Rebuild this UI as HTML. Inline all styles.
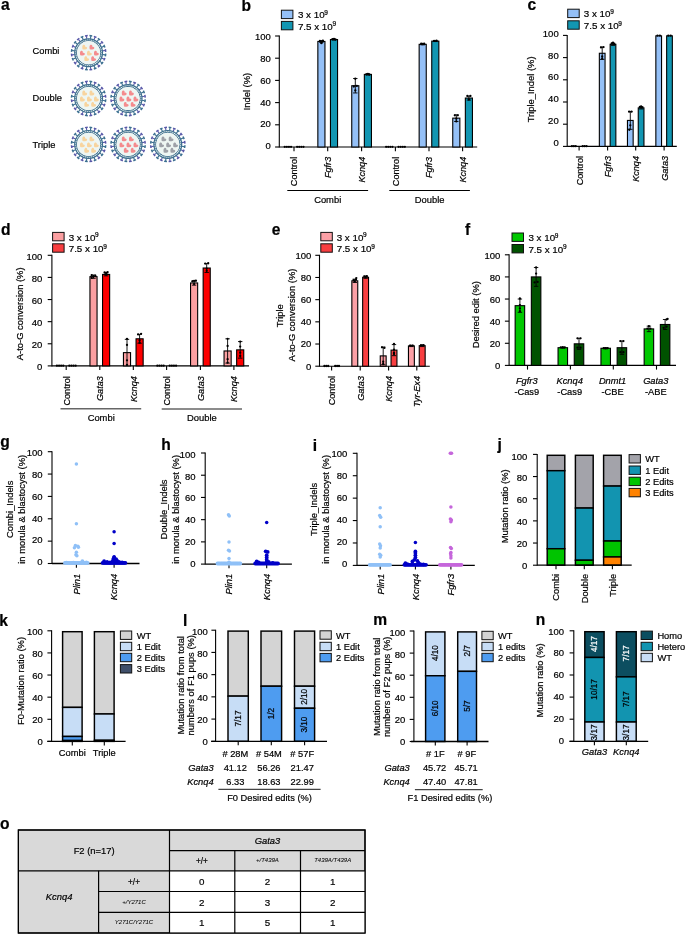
<!DOCTYPE html>
<html><head><meta charset="utf-8"><style>
html,body{margin:0;padding:0;background:#fff;}
svg{display:block;will-change:transform;}

</style></head><body>
<svg width="685" height="934" viewBox="0 0 685 934">
<rect x="0" y="0" width="685" height="934" fill="#fff"/>
<text transform="translate(1.00,9.80) scale(1.04,1.06)" x="0" y="0" font-family="Liberation Sans" font-size="15.0" font-weight="bold" fill="#000" stroke="#000" stroke-width="0.2">a</text>
<text x="32.50" y="54.40" font-family="Liberation Sans" font-size="9.3" text-anchor="start" fill="#000" stroke="#000" stroke-width="0.2">Combi</text>
<text x="32.50" y="101.20" font-family="Liberation Sans" font-size="9.3" text-anchor="start" fill="#000" stroke="#000" stroke-width="0.2">Double</text>
<text x="32.50" y="147.60" font-family="Liberation Sans" font-size="9.3" text-anchor="start" fill="#000" stroke="#000" stroke-width="0.2">Triple</text>
<line x1="90.41" y1="38.92" x2="90.78" y2="36.14" stroke="#3b6f90" stroke-width="1.1"/>
<line x1="89.44" y1="35.56" x2="92.22" y2="35.93" stroke="#3b6f90" stroke-width="1.5"/>
<line x1="93.92" y1="39.86" x2="94.99" y2="37.27" stroke="#5858a8" stroke-width="1.1"/>
<line x1="93.85" y1="36.37" x2="96.44" y2="37.44" stroke="#5858a8" stroke-width="1.5"/>
<line x1="97.06" y1="41.67" x2="98.77" y2="39.45" stroke="#3b6f90" stroke-width="1.1"/>
<line x1="97.90" y1="38.28" x2="100.12" y2="39.99" stroke="#3b6f90" stroke-width="1.5"/>
<line x1="99.63" y1="44.24" x2="101.85" y2="42.53" stroke="#5858a8" stroke-width="1.1"/>
<line x1="101.31" y1="41.18" x2="103.02" y2="43.40" stroke="#5858a8" stroke-width="1.5"/>
<line x1="101.44" y1="47.38" x2="104.03" y2="46.31" stroke="#3b6f90" stroke-width="1.1"/>
<line x1="103.86" y1="44.86" x2="104.93" y2="47.45" stroke="#3b6f90" stroke-width="1.5"/>
<line x1="102.38" y1="50.89" x2="105.16" y2="50.52" stroke="#5858a8" stroke-width="1.1"/>
<line x1="105.37" y1="49.08" x2="105.74" y2="51.86" stroke="#5858a8" stroke-width="1.5"/>
<line x1="102.38" y1="54.51" x2="105.16" y2="54.88" stroke="#3b6f90" stroke-width="1.1"/>
<line x1="105.74" y1="53.54" x2="105.37" y2="56.32" stroke="#3b6f90" stroke-width="1.5"/>
<line x1="101.44" y1="58.02" x2="104.03" y2="59.09" stroke="#5858a8" stroke-width="1.1"/>
<line x1="104.93" y1="57.95" x2="103.86" y2="60.54" stroke="#5858a8" stroke-width="1.5"/>
<line x1="99.63" y1="61.16" x2="101.85" y2="62.87" stroke="#3b6f90" stroke-width="1.1"/>
<line x1="103.02" y1="62.00" x2="101.31" y2="64.22" stroke="#3b6f90" stroke-width="1.5"/>
<line x1="97.06" y1="63.73" x2="98.77" y2="65.95" stroke="#5858a8" stroke-width="1.1"/>
<line x1="100.12" y1="65.41" x2="97.90" y2="67.12" stroke="#5858a8" stroke-width="1.5"/>
<line x1="93.92" y1="65.54" x2="94.99" y2="68.13" stroke="#3b6f90" stroke-width="1.1"/>
<line x1="96.44" y1="67.96" x2="93.85" y2="69.03" stroke="#3b6f90" stroke-width="1.5"/>
<line x1="90.41" y1="66.48" x2="90.78" y2="69.26" stroke="#5858a8" stroke-width="1.1"/>
<line x1="92.22" y1="69.47" x2="89.44" y2="69.84" stroke="#5858a8" stroke-width="1.5"/>
<line x1="86.79" y1="66.48" x2="86.42" y2="69.26" stroke="#3b6f90" stroke-width="1.1"/>
<line x1="87.76" y1="69.84" x2="84.98" y2="69.47" stroke="#3b6f90" stroke-width="1.5"/>
<line x1="83.28" y1="65.54" x2="82.21" y2="68.13" stroke="#5858a8" stroke-width="1.1"/>
<line x1="83.35" y1="69.03" x2="80.76" y2="67.96" stroke="#5858a8" stroke-width="1.5"/>
<line x1="80.14" y1="63.73" x2="78.43" y2="65.95" stroke="#3b6f90" stroke-width="1.1"/>
<line x1="79.30" y1="67.12" x2="77.08" y2="65.41" stroke="#3b6f90" stroke-width="1.5"/>
<line x1="77.57" y1="61.16" x2="75.35" y2="62.87" stroke="#5858a8" stroke-width="1.1"/>
<line x1="75.89" y1="64.22" x2="74.18" y2="62.00" stroke="#5858a8" stroke-width="1.5"/>
<line x1="75.76" y1="58.02" x2="73.17" y2="59.09" stroke="#3b6f90" stroke-width="1.1"/>
<line x1="73.34" y1="60.54" x2="72.27" y2="57.95" stroke="#3b6f90" stroke-width="1.5"/>
<line x1="74.82" y1="54.51" x2="72.04" y2="54.88" stroke="#5858a8" stroke-width="1.1"/>
<line x1="71.83" y1="56.32" x2="71.46" y2="53.54" stroke="#5858a8" stroke-width="1.5"/>
<line x1="74.82" y1="50.89" x2="72.04" y2="50.52" stroke="#3b6f90" stroke-width="1.1"/>
<line x1="71.46" y1="51.86" x2="71.83" y2="49.08" stroke="#3b6f90" stroke-width="1.5"/>
<line x1="75.76" y1="47.38" x2="73.17" y2="46.31" stroke="#5858a8" stroke-width="1.1"/>
<line x1="72.27" y1="47.45" x2="73.34" y2="44.86" stroke="#5858a8" stroke-width="1.5"/>
<line x1="77.57" y1="44.24" x2="75.35" y2="42.53" stroke="#3b6f90" stroke-width="1.1"/>
<line x1="74.18" y1="43.40" x2="75.89" y2="41.18" stroke="#3b6f90" stroke-width="1.5"/>
<line x1="80.14" y1="41.67" x2="78.43" y2="39.45" stroke="#5858a8" stroke-width="1.1"/>
<line x1="77.08" y1="39.99" x2="79.30" y2="38.28" stroke="#5858a8" stroke-width="1.5"/>
<line x1="83.28" y1="39.86" x2="82.21" y2="37.27" stroke="#3b6f90" stroke-width="1.1"/>
<line x1="80.76" y1="37.44" x2="83.35" y2="36.37" stroke="#3b6f90" stroke-width="1.5"/>
<line x1="86.79" y1="38.92" x2="86.42" y2="36.14" stroke="#5858a8" stroke-width="1.1"/>
<line x1="84.98" y1="35.93" x2="87.76" y2="35.56" stroke="#5858a8" stroke-width="1.5"/>
<circle cx="88.6" cy="52.7" r="13.9" fill="#eef6f3" stroke="#3d6f8e" stroke-width="1.2"/>
<circle cx="88.6" cy="52.7" r="12.1" fill="none" stroke="#3d6f8e" stroke-width="1.0"/>
<line x1="100.70" y1="52.70" x2="102.50" y2="52.70" stroke="#3d6f8e" stroke-width="0.7"/>
<line x1="100.55" y1="54.59" x2="102.33" y2="54.87" stroke="#3d6f8e" stroke-width="0.7"/>
<line x1="100.11" y1="56.44" x2="101.82" y2="57.00" stroke="#3d6f8e" stroke-width="0.7"/>
<line x1="99.38" y1="58.19" x2="100.98" y2="59.01" stroke="#3d6f8e" stroke-width="0.7"/>
<line x1="98.39" y1="59.81" x2="99.85" y2="60.87" stroke="#3d6f8e" stroke-width="0.7"/>
<line x1="97.16" y1="61.26" x2="98.43" y2="62.53" stroke="#3d6f8e" stroke-width="0.7"/>
<line x1="95.71" y1="62.49" x2="96.77" y2="63.95" stroke="#3d6f8e" stroke-width="0.7"/>
<line x1="94.09" y1="63.48" x2="94.91" y2="65.08" stroke="#3d6f8e" stroke-width="0.7"/>
<line x1="92.34" y1="64.21" x2="92.90" y2="65.92" stroke="#3d6f8e" stroke-width="0.7"/>
<line x1="90.49" y1="64.65" x2="90.77" y2="66.43" stroke="#3d6f8e" stroke-width="0.7"/>
<line x1="88.60" y1="64.80" x2="88.60" y2="66.60" stroke="#3d6f8e" stroke-width="0.7"/>
<line x1="86.71" y1="64.65" x2="86.43" y2="66.43" stroke="#3d6f8e" stroke-width="0.7"/>
<line x1="84.86" y1="64.21" x2="84.30" y2="65.92" stroke="#3d6f8e" stroke-width="0.7"/>
<line x1="83.11" y1="63.48" x2="82.29" y2="65.08" stroke="#3d6f8e" stroke-width="0.7"/>
<line x1="81.49" y1="62.49" x2="80.43" y2="63.95" stroke="#3d6f8e" stroke-width="0.7"/>
<line x1="80.04" y1="61.26" x2="78.77" y2="62.53" stroke="#3d6f8e" stroke-width="0.7"/>
<line x1="78.81" y1="59.81" x2="77.35" y2="60.87" stroke="#3d6f8e" stroke-width="0.7"/>
<line x1="77.82" y1="58.19" x2="76.22" y2="59.01" stroke="#3d6f8e" stroke-width="0.7"/>
<line x1="77.09" y1="56.44" x2="75.38" y2="57.00" stroke="#3d6f8e" stroke-width="0.7"/>
<line x1="76.65" y1="54.59" x2="74.87" y2="54.87" stroke="#3d6f8e" stroke-width="0.7"/>
<line x1="76.50" y1="52.70" x2="74.70" y2="52.70" stroke="#3d6f8e" stroke-width="0.7"/>
<line x1="76.65" y1="50.81" x2="74.87" y2="50.53" stroke="#3d6f8e" stroke-width="0.7"/>
<line x1="77.09" y1="48.96" x2="75.38" y2="48.40" stroke="#3d6f8e" stroke-width="0.7"/>
<line x1="77.82" y1="47.21" x2="76.22" y2="46.39" stroke="#3d6f8e" stroke-width="0.7"/>
<line x1="78.81" y1="45.59" x2="77.35" y2="44.53" stroke="#3d6f8e" stroke-width="0.7"/>
<line x1="80.04" y1="44.14" x2="78.77" y2="42.87" stroke="#3d6f8e" stroke-width="0.7"/>
<line x1="81.49" y1="42.91" x2="80.43" y2="41.45" stroke="#3d6f8e" stroke-width="0.7"/>
<line x1="83.11" y1="41.92" x2="82.29" y2="40.32" stroke="#3d6f8e" stroke-width="0.7"/>
<line x1="84.86" y1="41.19" x2="84.30" y2="39.48" stroke="#3d6f8e" stroke-width="0.7"/>
<line x1="86.71" y1="40.75" x2="86.43" y2="38.97" stroke="#3d6f8e" stroke-width="0.7"/>
<line x1="88.60" y1="40.60" x2="88.60" y2="38.80" stroke="#3d6f8e" stroke-width="0.7"/>
<line x1="90.49" y1="40.75" x2="90.77" y2="38.97" stroke="#3d6f8e" stroke-width="0.7"/>
<line x1="92.34" y1="41.19" x2="92.90" y2="39.48" stroke="#3d6f8e" stroke-width="0.7"/>
<line x1="94.09" y1="41.92" x2="94.91" y2="40.32" stroke="#3d6f8e" stroke-width="0.7"/>
<line x1="95.71" y1="42.91" x2="96.77" y2="41.45" stroke="#3d6f8e" stroke-width="0.7"/>
<line x1="97.16" y1="44.14" x2="98.43" y2="42.87" stroke="#3d6f8e" stroke-width="0.7"/>
<line x1="98.39" y1="45.59" x2="99.85" y2="44.53" stroke="#3d6f8e" stroke-width="0.7"/>
<line x1="99.38" y1="47.21" x2="100.98" y2="46.39" stroke="#3d6f8e" stroke-width="0.7"/>
<line x1="100.11" y1="48.96" x2="101.82" y2="48.40" stroke="#3d6f8e" stroke-width="0.7"/>
<line x1="100.55" y1="50.81" x2="102.33" y2="50.53" stroke="#3d6f8e" stroke-width="0.7"/>
<circle cx="88.6" cy="52.7" r="11.6" fill="#eef6f3"/>
<path transform="translate(84.00,47.90) rotate(45) scale(1.22)" d="M0,1.7 C-1.2,0.8 -2.4,-0.1 -2.2,-1.1 C-2,-2.3 -0.6,-2.4 0,-1.2 C0.6,-2.4 2,-2.3 2.2,-1.1 C2.4,-0.1 1.2,0.8 0,1.7 Z" fill="#f8d49e"/>
<path transform="translate(91.20,47.90) rotate(45) scale(1.22)" d="M0,1.7 C-1.2,0.8 -2.4,-0.1 -2.2,-1.1 C-2,-2.3 -0.6,-2.4 0,-1.2 C0.6,-2.4 2,-2.3 2.2,-1.1 C2.4,-0.1 1.2,0.8 0,1.7 Z" fill="#f48b8d"/>
<path transform="translate(81.70,53.90) rotate(45) scale(1.22)" d="M0,1.7 C-1.2,0.8 -2.4,-0.1 -2.2,-1.1 C-2,-2.3 -0.6,-2.4 0,-1.2 C0.6,-2.4 2,-2.3 2.2,-1.1 C2.4,-0.1 1.2,0.8 0,1.7 Z" fill="#f48b8d"/>
<path transform="translate(88.70,53.90) rotate(45) scale(1.22)" d="M0,1.7 C-1.2,0.8 -2.4,-0.1 -2.2,-1.1 C-2,-2.3 -0.6,-2.4 0,-1.2 C0.6,-2.4 2,-2.3 2.2,-1.1 C2.4,-0.1 1.2,0.8 0,1.7 Z" fill="#f8d49e"/>
<path transform="translate(95.70,53.90) rotate(45) scale(1.22)" d="M0,1.7 C-1.2,0.8 -2.4,-0.1 -2.2,-1.1 C-2,-2.3 -0.6,-2.4 0,-1.2 C0.6,-2.4 2,-2.3 2.2,-1.1 C2.4,-0.1 1.2,0.8 0,1.7 Z" fill="#f48b8d"/>
<path transform="translate(86.00,59.30) rotate(45) scale(1.22)" d="M0,1.7 C-1.2,0.8 -2.4,-0.1 -2.2,-1.1 C-2,-2.3 -0.6,-2.4 0,-1.2 C0.6,-2.4 2,-2.3 2.2,-1.1 C2.4,-0.1 1.2,0.8 0,1.7 Z" fill="#f8d49e"/>
<path transform="translate(92.90,59.30) rotate(45) scale(1.22)" d="M0,1.7 C-1.2,0.8 -2.4,-0.1 -2.2,-1.1 C-2,-2.3 -0.6,-2.4 0,-1.2 C0.6,-2.4 2,-2.3 2.2,-1.1 C2.4,-0.1 1.2,0.8 0,1.7 Z" fill="#f48b8d"/>
<line x1="90.41" y1="84.72" x2="90.78" y2="81.94" stroke="#3b6f90" stroke-width="1.1"/>
<line x1="89.44" y1="81.36" x2="92.22" y2="81.73" stroke="#3b6f90" stroke-width="1.5"/>
<line x1="93.92" y1="85.66" x2="94.99" y2="83.07" stroke="#5858a8" stroke-width="1.1"/>
<line x1="93.85" y1="82.17" x2="96.44" y2="83.24" stroke="#5858a8" stroke-width="1.5"/>
<line x1="97.06" y1="87.47" x2="98.77" y2="85.25" stroke="#3b6f90" stroke-width="1.1"/>
<line x1="97.90" y1="84.08" x2="100.12" y2="85.79" stroke="#3b6f90" stroke-width="1.5"/>
<line x1="99.63" y1="90.04" x2="101.85" y2="88.33" stroke="#5858a8" stroke-width="1.1"/>
<line x1="101.31" y1="86.98" x2="103.02" y2="89.20" stroke="#5858a8" stroke-width="1.5"/>
<line x1="101.44" y1="93.18" x2="104.03" y2="92.11" stroke="#3b6f90" stroke-width="1.1"/>
<line x1="103.86" y1="90.66" x2="104.93" y2="93.25" stroke="#3b6f90" stroke-width="1.5"/>
<line x1="102.38" y1="96.69" x2="105.16" y2="96.32" stroke="#5858a8" stroke-width="1.1"/>
<line x1="105.37" y1="94.88" x2="105.74" y2="97.66" stroke="#5858a8" stroke-width="1.5"/>
<line x1="102.38" y1="100.31" x2="105.16" y2="100.68" stroke="#3b6f90" stroke-width="1.1"/>
<line x1="105.74" y1="99.34" x2="105.37" y2="102.12" stroke="#3b6f90" stroke-width="1.5"/>
<line x1="101.44" y1="103.82" x2="104.03" y2="104.89" stroke="#5858a8" stroke-width="1.1"/>
<line x1="104.93" y1="103.75" x2="103.86" y2="106.34" stroke="#5858a8" stroke-width="1.5"/>
<line x1="99.63" y1="106.96" x2="101.85" y2="108.67" stroke="#3b6f90" stroke-width="1.1"/>
<line x1="103.02" y1="107.80" x2="101.31" y2="110.02" stroke="#3b6f90" stroke-width="1.5"/>
<line x1="97.06" y1="109.53" x2="98.77" y2="111.75" stroke="#5858a8" stroke-width="1.1"/>
<line x1="100.12" y1="111.21" x2="97.90" y2="112.92" stroke="#5858a8" stroke-width="1.5"/>
<line x1="93.92" y1="111.34" x2="94.99" y2="113.93" stroke="#3b6f90" stroke-width="1.1"/>
<line x1="96.44" y1="113.76" x2="93.85" y2="114.83" stroke="#3b6f90" stroke-width="1.5"/>
<line x1="90.41" y1="112.28" x2="90.78" y2="115.06" stroke="#5858a8" stroke-width="1.1"/>
<line x1="92.22" y1="115.27" x2="89.44" y2="115.64" stroke="#5858a8" stroke-width="1.5"/>
<line x1="86.79" y1="112.28" x2="86.42" y2="115.06" stroke="#3b6f90" stroke-width="1.1"/>
<line x1="87.76" y1="115.64" x2="84.98" y2="115.27" stroke="#3b6f90" stroke-width="1.5"/>
<line x1="83.28" y1="111.34" x2="82.21" y2="113.93" stroke="#5858a8" stroke-width="1.1"/>
<line x1="83.35" y1="114.83" x2="80.76" y2="113.76" stroke="#5858a8" stroke-width="1.5"/>
<line x1="80.14" y1="109.53" x2="78.43" y2="111.75" stroke="#3b6f90" stroke-width="1.1"/>
<line x1="79.30" y1="112.92" x2="77.08" y2="111.21" stroke="#3b6f90" stroke-width="1.5"/>
<line x1="77.57" y1="106.96" x2="75.35" y2="108.67" stroke="#5858a8" stroke-width="1.1"/>
<line x1="75.89" y1="110.02" x2="74.18" y2="107.80" stroke="#5858a8" stroke-width="1.5"/>
<line x1="75.76" y1="103.82" x2="73.17" y2="104.89" stroke="#3b6f90" stroke-width="1.1"/>
<line x1="73.34" y1="106.34" x2="72.27" y2="103.75" stroke="#3b6f90" stroke-width="1.5"/>
<line x1="74.82" y1="100.31" x2="72.04" y2="100.68" stroke="#5858a8" stroke-width="1.1"/>
<line x1="71.83" y1="102.12" x2="71.46" y2="99.34" stroke="#5858a8" stroke-width="1.5"/>
<line x1="74.82" y1="96.69" x2="72.04" y2="96.32" stroke="#3b6f90" stroke-width="1.1"/>
<line x1="71.46" y1="97.66" x2="71.83" y2="94.88" stroke="#3b6f90" stroke-width="1.5"/>
<line x1="75.76" y1="93.18" x2="73.17" y2="92.11" stroke="#5858a8" stroke-width="1.1"/>
<line x1="72.27" y1="93.25" x2="73.34" y2="90.66" stroke="#5858a8" stroke-width="1.5"/>
<line x1="77.57" y1="90.04" x2="75.35" y2="88.33" stroke="#3b6f90" stroke-width="1.1"/>
<line x1="74.18" y1="89.20" x2="75.89" y2="86.98" stroke="#3b6f90" stroke-width="1.5"/>
<line x1="80.14" y1="87.47" x2="78.43" y2="85.25" stroke="#5858a8" stroke-width="1.1"/>
<line x1="77.08" y1="85.79" x2="79.30" y2="84.08" stroke="#5858a8" stroke-width="1.5"/>
<line x1="83.28" y1="85.66" x2="82.21" y2="83.07" stroke="#3b6f90" stroke-width="1.1"/>
<line x1="80.76" y1="83.24" x2="83.35" y2="82.17" stroke="#3b6f90" stroke-width="1.5"/>
<line x1="86.79" y1="84.72" x2="86.42" y2="81.94" stroke="#5858a8" stroke-width="1.1"/>
<line x1="84.98" y1="81.73" x2="87.76" y2="81.36" stroke="#5858a8" stroke-width="1.5"/>
<circle cx="88.6" cy="98.5" r="13.9" fill="#eef6f3" stroke="#3d6f8e" stroke-width="1.2"/>
<circle cx="88.6" cy="98.5" r="12.1" fill="none" stroke="#3d6f8e" stroke-width="1.0"/>
<line x1="100.70" y1="98.50" x2="102.50" y2="98.50" stroke="#3d6f8e" stroke-width="0.7"/>
<line x1="100.55" y1="100.39" x2="102.33" y2="100.67" stroke="#3d6f8e" stroke-width="0.7"/>
<line x1="100.11" y1="102.24" x2="101.82" y2="102.80" stroke="#3d6f8e" stroke-width="0.7"/>
<line x1="99.38" y1="103.99" x2="100.98" y2="104.81" stroke="#3d6f8e" stroke-width="0.7"/>
<line x1="98.39" y1="105.61" x2="99.85" y2="106.67" stroke="#3d6f8e" stroke-width="0.7"/>
<line x1="97.16" y1="107.06" x2="98.43" y2="108.33" stroke="#3d6f8e" stroke-width="0.7"/>
<line x1="95.71" y1="108.29" x2="96.77" y2="109.75" stroke="#3d6f8e" stroke-width="0.7"/>
<line x1="94.09" y1="109.28" x2="94.91" y2="110.88" stroke="#3d6f8e" stroke-width="0.7"/>
<line x1="92.34" y1="110.01" x2="92.90" y2="111.72" stroke="#3d6f8e" stroke-width="0.7"/>
<line x1="90.49" y1="110.45" x2="90.77" y2="112.23" stroke="#3d6f8e" stroke-width="0.7"/>
<line x1="88.60" y1="110.60" x2="88.60" y2="112.40" stroke="#3d6f8e" stroke-width="0.7"/>
<line x1="86.71" y1="110.45" x2="86.43" y2="112.23" stroke="#3d6f8e" stroke-width="0.7"/>
<line x1="84.86" y1="110.01" x2="84.30" y2="111.72" stroke="#3d6f8e" stroke-width="0.7"/>
<line x1="83.11" y1="109.28" x2="82.29" y2="110.88" stroke="#3d6f8e" stroke-width="0.7"/>
<line x1="81.49" y1="108.29" x2="80.43" y2="109.75" stroke="#3d6f8e" stroke-width="0.7"/>
<line x1="80.04" y1="107.06" x2="78.77" y2="108.33" stroke="#3d6f8e" stroke-width="0.7"/>
<line x1="78.81" y1="105.61" x2="77.35" y2="106.67" stroke="#3d6f8e" stroke-width="0.7"/>
<line x1="77.82" y1="103.99" x2="76.22" y2="104.81" stroke="#3d6f8e" stroke-width="0.7"/>
<line x1="77.09" y1="102.24" x2="75.38" y2="102.80" stroke="#3d6f8e" stroke-width="0.7"/>
<line x1="76.65" y1="100.39" x2="74.87" y2="100.67" stroke="#3d6f8e" stroke-width="0.7"/>
<line x1="76.50" y1="98.50" x2="74.70" y2="98.50" stroke="#3d6f8e" stroke-width="0.7"/>
<line x1="76.65" y1="96.61" x2="74.87" y2="96.33" stroke="#3d6f8e" stroke-width="0.7"/>
<line x1="77.09" y1="94.76" x2="75.38" y2="94.20" stroke="#3d6f8e" stroke-width="0.7"/>
<line x1="77.82" y1="93.01" x2="76.22" y2="92.19" stroke="#3d6f8e" stroke-width="0.7"/>
<line x1="78.81" y1="91.39" x2="77.35" y2="90.33" stroke="#3d6f8e" stroke-width="0.7"/>
<line x1="80.04" y1="89.94" x2="78.77" y2="88.67" stroke="#3d6f8e" stroke-width="0.7"/>
<line x1="81.49" y1="88.71" x2="80.43" y2="87.25" stroke="#3d6f8e" stroke-width="0.7"/>
<line x1="83.11" y1="87.72" x2="82.29" y2="86.12" stroke="#3d6f8e" stroke-width="0.7"/>
<line x1="84.86" y1="86.99" x2="84.30" y2="85.28" stroke="#3d6f8e" stroke-width="0.7"/>
<line x1="86.71" y1="86.55" x2="86.43" y2="84.77" stroke="#3d6f8e" stroke-width="0.7"/>
<line x1="88.60" y1="86.40" x2="88.60" y2="84.60" stroke="#3d6f8e" stroke-width="0.7"/>
<line x1="90.49" y1="86.55" x2="90.77" y2="84.77" stroke="#3d6f8e" stroke-width="0.7"/>
<line x1="92.34" y1="86.99" x2="92.90" y2="85.28" stroke="#3d6f8e" stroke-width="0.7"/>
<line x1="94.09" y1="87.72" x2="94.91" y2="86.12" stroke="#3d6f8e" stroke-width="0.7"/>
<line x1="95.71" y1="88.71" x2="96.77" y2="87.25" stroke="#3d6f8e" stroke-width="0.7"/>
<line x1="97.16" y1="89.94" x2="98.43" y2="88.67" stroke="#3d6f8e" stroke-width="0.7"/>
<line x1="98.39" y1="91.39" x2="99.85" y2="90.33" stroke="#3d6f8e" stroke-width="0.7"/>
<line x1="99.38" y1="93.01" x2="100.98" y2="92.19" stroke="#3d6f8e" stroke-width="0.7"/>
<line x1="100.11" y1="94.76" x2="101.82" y2="94.20" stroke="#3d6f8e" stroke-width="0.7"/>
<line x1="100.55" y1="96.61" x2="102.33" y2="96.33" stroke="#3d6f8e" stroke-width="0.7"/>
<circle cx="88.6" cy="98.5" r="11.6" fill="#eef6f3"/>
<path transform="translate(84.00,93.70) rotate(45) scale(1.22)" d="M0,1.7 C-1.2,0.8 -2.4,-0.1 -2.2,-1.1 C-2,-2.3 -0.6,-2.4 0,-1.2 C0.6,-2.4 2,-2.3 2.2,-1.1 C2.4,-0.1 1.2,0.8 0,1.7 Z" fill="#f8d49e"/>
<path transform="translate(91.20,93.70) rotate(45) scale(1.22)" d="M0,1.7 C-1.2,0.8 -2.4,-0.1 -2.2,-1.1 C-2,-2.3 -0.6,-2.4 0,-1.2 C0.6,-2.4 2,-2.3 2.2,-1.1 C2.4,-0.1 1.2,0.8 0,1.7 Z" fill="#f8d49e"/>
<path transform="translate(81.70,99.70) rotate(45) scale(1.22)" d="M0,1.7 C-1.2,0.8 -2.4,-0.1 -2.2,-1.1 C-2,-2.3 -0.6,-2.4 0,-1.2 C0.6,-2.4 2,-2.3 2.2,-1.1 C2.4,-0.1 1.2,0.8 0,1.7 Z" fill="#f8d49e"/>
<path transform="translate(88.70,99.70) rotate(45) scale(1.22)" d="M0,1.7 C-1.2,0.8 -2.4,-0.1 -2.2,-1.1 C-2,-2.3 -0.6,-2.4 0,-1.2 C0.6,-2.4 2,-2.3 2.2,-1.1 C2.4,-0.1 1.2,0.8 0,1.7 Z" fill="#f8d49e"/>
<path transform="translate(95.70,99.70) rotate(45) scale(1.22)" d="M0,1.7 C-1.2,0.8 -2.4,-0.1 -2.2,-1.1 C-2,-2.3 -0.6,-2.4 0,-1.2 C0.6,-2.4 2,-2.3 2.2,-1.1 C2.4,-0.1 1.2,0.8 0,1.7 Z" fill="#f8d49e"/>
<path transform="translate(86.00,105.10) rotate(45) scale(1.22)" d="M0,1.7 C-1.2,0.8 -2.4,-0.1 -2.2,-1.1 C-2,-2.3 -0.6,-2.4 0,-1.2 C0.6,-2.4 2,-2.3 2.2,-1.1 C2.4,-0.1 1.2,0.8 0,1.7 Z" fill="#f8d49e"/>
<path transform="translate(92.90,105.10) rotate(45) scale(1.22)" d="M0,1.7 C-1.2,0.8 -2.4,-0.1 -2.2,-1.1 C-2,-2.3 -0.6,-2.4 0,-1.2 C0.6,-2.4 2,-2.3 2.2,-1.1 C2.4,-0.1 1.2,0.8 0,1.7 Z" fill="#f8d49e"/>
<line x1="129.91" y1="84.72" x2="130.28" y2="81.94" stroke="#3b6f90" stroke-width="1.1"/>
<line x1="128.94" y1="81.36" x2="131.72" y2="81.73" stroke="#3b6f90" stroke-width="1.5"/>
<line x1="133.42" y1="85.66" x2="134.49" y2="83.07" stroke="#5858a8" stroke-width="1.1"/>
<line x1="133.35" y1="82.17" x2="135.94" y2="83.24" stroke="#5858a8" stroke-width="1.5"/>
<line x1="136.56" y1="87.47" x2="138.27" y2="85.25" stroke="#3b6f90" stroke-width="1.1"/>
<line x1="137.40" y1="84.08" x2="139.62" y2="85.79" stroke="#3b6f90" stroke-width="1.5"/>
<line x1="139.13" y1="90.04" x2="141.35" y2="88.33" stroke="#5858a8" stroke-width="1.1"/>
<line x1="140.81" y1="86.98" x2="142.52" y2="89.20" stroke="#5858a8" stroke-width="1.5"/>
<line x1="140.94" y1="93.18" x2="143.53" y2="92.11" stroke="#3b6f90" stroke-width="1.1"/>
<line x1="143.36" y1="90.66" x2="144.43" y2="93.25" stroke="#3b6f90" stroke-width="1.5"/>
<line x1="141.88" y1="96.69" x2="144.66" y2="96.32" stroke="#5858a8" stroke-width="1.1"/>
<line x1="144.87" y1="94.88" x2="145.24" y2="97.66" stroke="#5858a8" stroke-width="1.5"/>
<line x1="141.88" y1="100.31" x2="144.66" y2="100.68" stroke="#3b6f90" stroke-width="1.1"/>
<line x1="145.24" y1="99.34" x2="144.87" y2="102.12" stroke="#3b6f90" stroke-width="1.5"/>
<line x1="140.94" y1="103.82" x2="143.53" y2="104.89" stroke="#5858a8" stroke-width="1.1"/>
<line x1="144.43" y1="103.75" x2="143.36" y2="106.34" stroke="#5858a8" stroke-width="1.5"/>
<line x1="139.13" y1="106.96" x2="141.35" y2="108.67" stroke="#3b6f90" stroke-width="1.1"/>
<line x1="142.52" y1="107.80" x2="140.81" y2="110.02" stroke="#3b6f90" stroke-width="1.5"/>
<line x1="136.56" y1="109.53" x2="138.27" y2="111.75" stroke="#5858a8" stroke-width="1.1"/>
<line x1="139.62" y1="111.21" x2="137.40" y2="112.92" stroke="#5858a8" stroke-width="1.5"/>
<line x1="133.42" y1="111.34" x2="134.49" y2="113.93" stroke="#3b6f90" stroke-width="1.1"/>
<line x1="135.94" y1="113.76" x2="133.35" y2="114.83" stroke="#3b6f90" stroke-width="1.5"/>
<line x1="129.91" y1="112.28" x2="130.28" y2="115.06" stroke="#5858a8" stroke-width="1.1"/>
<line x1="131.72" y1="115.27" x2="128.94" y2="115.64" stroke="#5858a8" stroke-width="1.5"/>
<line x1="126.29" y1="112.28" x2="125.92" y2="115.06" stroke="#3b6f90" stroke-width="1.1"/>
<line x1="127.26" y1="115.64" x2="124.48" y2="115.27" stroke="#3b6f90" stroke-width="1.5"/>
<line x1="122.78" y1="111.34" x2="121.71" y2="113.93" stroke="#5858a8" stroke-width="1.1"/>
<line x1="122.85" y1="114.83" x2="120.26" y2="113.76" stroke="#5858a8" stroke-width="1.5"/>
<line x1="119.64" y1="109.53" x2="117.93" y2="111.75" stroke="#3b6f90" stroke-width="1.1"/>
<line x1="118.80" y1="112.92" x2="116.58" y2="111.21" stroke="#3b6f90" stroke-width="1.5"/>
<line x1="117.07" y1="106.96" x2="114.85" y2="108.67" stroke="#5858a8" stroke-width="1.1"/>
<line x1="115.39" y1="110.02" x2="113.68" y2="107.80" stroke="#5858a8" stroke-width="1.5"/>
<line x1="115.26" y1="103.82" x2="112.67" y2="104.89" stroke="#3b6f90" stroke-width="1.1"/>
<line x1="112.84" y1="106.34" x2="111.77" y2="103.75" stroke="#3b6f90" stroke-width="1.5"/>
<line x1="114.32" y1="100.31" x2="111.54" y2="100.68" stroke="#5858a8" stroke-width="1.1"/>
<line x1="111.33" y1="102.12" x2="110.96" y2="99.34" stroke="#5858a8" stroke-width="1.5"/>
<line x1="114.32" y1="96.69" x2="111.54" y2="96.32" stroke="#3b6f90" stroke-width="1.1"/>
<line x1="110.96" y1="97.66" x2="111.33" y2="94.88" stroke="#3b6f90" stroke-width="1.5"/>
<line x1="115.26" y1="93.18" x2="112.67" y2="92.11" stroke="#5858a8" stroke-width="1.1"/>
<line x1="111.77" y1="93.25" x2="112.84" y2="90.66" stroke="#5858a8" stroke-width="1.5"/>
<line x1="117.07" y1="90.04" x2="114.85" y2="88.33" stroke="#3b6f90" stroke-width="1.1"/>
<line x1="113.68" y1="89.20" x2="115.39" y2="86.98" stroke="#3b6f90" stroke-width="1.5"/>
<line x1="119.64" y1="87.47" x2="117.93" y2="85.25" stroke="#5858a8" stroke-width="1.1"/>
<line x1="116.58" y1="85.79" x2="118.80" y2="84.08" stroke="#5858a8" stroke-width="1.5"/>
<line x1="122.78" y1="85.66" x2="121.71" y2="83.07" stroke="#3b6f90" stroke-width="1.1"/>
<line x1="120.26" y1="83.24" x2="122.85" y2="82.17" stroke="#3b6f90" stroke-width="1.5"/>
<line x1="126.29" y1="84.72" x2="125.92" y2="81.94" stroke="#5858a8" stroke-width="1.1"/>
<line x1="124.48" y1="81.73" x2="127.26" y2="81.36" stroke="#5858a8" stroke-width="1.5"/>
<circle cx="128.1" cy="98.5" r="13.9" fill="#eef6f3" stroke="#3d6f8e" stroke-width="1.2"/>
<circle cx="128.1" cy="98.5" r="12.1" fill="none" stroke="#3d6f8e" stroke-width="1.0"/>
<line x1="140.20" y1="98.50" x2="142.00" y2="98.50" stroke="#3d6f8e" stroke-width="0.7"/>
<line x1="140.05" y1="100.39" x2="141.83" y2="100.67" stroke="#3d6f8e" stroke-width="0.7"/>
<line x1="139.61" y1="102.24" x2="141.32" y2="102.80" stroke="#3d6f8e" stroke-width="0.7"/>
<line x1="138.88" y1="103.99" x2="140.48" y2="104.81" stroke="#3d6f8e" stroke-width="0.7"/>
<line x1="137.89" y1="105.61" x2="139.35" y2="106.67" stroke="#3d6f8e" stroke-width="0.7"/>
<line x1="136.66" y1="107.06" x2="137.93" y2="108.33" stroke="#3d6f8e" stroke-width="0.7"/>
<line x1="135.21" y1="108.29" x2="136.27" y2="109.75" stroke="#3d6f8e" stroke-width="0.7"/>
<line x1="133.59" y1="109.28" x2="134.41" y2="110.88" stroke="#3d6f8e" stroke-width="0.7"/>
<line x1="131.84" y1="110.01" x2="132.40" y2="111.72" stroke="#3d6f8e" stroke-width="0.7"/>
<line x1="129.99" y1="110.45" x2="130.27" y2="112.23" stroke="#3d6f8e" stroke-width="0.7"/>
<line x1="128.10" y1="110.60" x2="128.10" y2="112.40" stroke="#3d6f8e" stroke-width="0.7"/>
<line x1="126.21" y1="110.45" x2="125.93" y2="112.23" stroke="#3d6f8e" stroke-width="0.7"/>
<line x1="124.36" y1="110.01" x2="123.80" y2="111.72" stroke="#3d6f8e" stroke-width="0.7"/>
<line x1="122.61" y1="109.28" x2="121.79" y2="110.88" stroke="#3d6f8e" stroke-width="0.7"/>
<line x1="120.99" y1="108.29" x2="119.93" y2="109.75" stroke="#3d6f8e" stroke-width="0.7"/>
<line x1="119.54" y1="107.06" x2="118.27" y2="108.33" stroke="#3d6f8e" stroke-width="0.7"/>
<line x1="118.31" y1="105.61" x2="116.85" y2="106.67" stroke="#3d6f8e" stroke-width="0.7"/>
<line x1="117.32" y1="103.99" x2="115.72" y2="104.81" stroke="#3d6f8e" stroke-width="0.7"/>
<line x1="116.59" y1="102.24" x2="114.88" y2="102.80" stroke="#3d6f8e" stroke-width="0.7"/>
<line x1="116.15" y1="100.39" x2="114.37" y2="100.67" stroke="#3d6f8e" stroke-width="0.7"/>
<line x1="116.00" y1="98.50" x2="114.20" y2="98.50" stroke="#3d6f8e" stroke-width="0.7"/>
<line x1="116.15" y1="96.61" x2="114.37" y2="96.33" stroke="#3d6f8e" stroke-width="0.7"/>
<line x1="116.59" y1="94.76" x2="114.88" y2="94.20" stroke="#3d6f8e" stroke-width="0.7"/>
<line x1="117.32" y1="93.01" x2="115.72" y2="92.19" stroke="#3d6f8e" stroke-width="0.7"/>
<line x1="118.31" y1="91.39" x2="116.85" y2="90.33" stroke="#3d6f8e" stroke-width="0.7"/>
<line x1="119.54" y1="89.94" x2="118.27" y2="88.67" stroke="#3d6f8e" stroke-width="0.7"/>
<line x1="120.99" y1="88.71" x2="119.93" y2="87.25" stroke="#3d6f8e" stroke-width="0.7"/>
<line x1="122.61" y1="87.72" x2="121.79" y2="86.12" stroke="#3d6f8e" stroke-width="0.7"/>
<line x1="124.36" y1="86.99" x2="123.80" y2="85.28" stroke="#3d6f8e" stroke-width="0.7"/>
<line x1="126.21" y1="86.55" x2="125.93" y2="84.77" stroke="#3d6f8e" stroke-width="0.7"/>
<line x1="128.10" y1="86.40" x2="128.10" y2="84.60" stroke="#3d6f8e" stroke-width="0.7"/>
<line x1="129.99" y1="86.55" x2="130.27" y2="84.77" stroke="#3d6f8e" stroke-width="0.7"/>
<line x1="131.84" y1="86.99" x2="132.40" y2="85.28" stroke="#3d6f8e" stroke-width="0.7"/>
<line x1="133.59" y1="87.72" x2="134.41" y2="86.12" stroke="#3d6f8e" stroke-width="0.7"/>
<line x1="135.21" y1="88.71" x2="136.27" y2="87.25" stroke="#3d6f8e" stroke-width="0.7"/>
<line x1="136.66" y1="89.94" x2="137.93" y2="88.67" stroke="#3d6f8e" stroke-width="0.7"/>
<line x1="137.89" y1="91.39" x2="139.35" y2="90.33" stroke="#3d6f8e" stroke-width="0.7"/>
<line x1="138.88" y1="93.01" x2="140.48" y2="92.19" stroke="#3d6f8e" stroke-width="0.7"/>
<line x1="139.61" y1="94.76" x2="141.32" y2="94.20" stroke="#3d6f8e" stroke-width="0.7"/>
<line x1="140.05" y1="96.61" x2="141.83" y2="96.33" stroke="#3d6f8e" stroke-width="0.7"/>
<circle cx="128.1" cy="98.5" r="11.6" fill="#eef6f3"/>
<path transform="translate(123.50,93.70) rotate(45) scale(1.22)" d="M0,1.7 C-1.2,0.8 -2.4,-0.1 -2.2,-1.1 C-2,-2.3 -0.6,-2.4 0,-1.2 C0.6,-2.4 2,-2.3 2.2,-1.1 C2.4,-0.1 1.2,0.8 0,1.7 Z" fill="#f48b8d"/>
<path transform="translate(130.70,93.70) rotate(45) scale(1.22)" d="M0,1.7 C-1.2,0.8 -2.4,-0.1 -2.2,-1.1 C-2,-2.3 -0.6,-2.4 0,-1.2 C0.6,-2.4 2,-2.3 2.2,-1.1 C2.4,-0.1 1.2,0.8 0,1.7 Z" fill="#f48b8d"/>
<path transform="translate(121.20,99.70) rotate(45) scale(1.22)" d="M0,1.7 C-1.2,0.8 -2.4,-0.1 -2.2,-1.1 C-2,-2.3 -0.6,-2.4 0,-1.2 C0.6,-2.4 2,-2.3 2.2,-1.1 C2.4,-0.1 1.2,0.8 0,1.7 Z" fill="#f48b8d"/>
<path transform="translate(128.20,99.70) rotate(45) scale(1.22)" d="M0,1.7 C-1.2,0.8 -2.4,-0.1 -2.2,-1.1 C-2,-2.3 -0.6,-2.4 0,-1.2 C0.6,-2.4 2,-2.3 2.2,-1.1 C2.4,-0.1 1.2,0.8 0,1.7 Z" fill="#f48b8d"/>
<path transform="translate(135.20,99.70) rotate(45) scale(1.22)" d="M0,1.7 C-1.2,0.8 -2.4,-0.1 -2.2,-1.1 C-2,-2.3 -0.6,-2.4 0,-1.2 C0.6,-2.4 2,-2.3 2.2,-1.1 C2.4,-0.1 1.2,0.8 0,1.7 Z" fill="#f48b8d"/>
<path transform="translate(125.50,105.10) rotate(45) scale(1.22)" d="M0,1.7 C-1.2,0.8 -2.4,-0.1 -2.2,-1.1 C-2,-2.3 -0.6,-2.4 0,-1.2 C0.6,-2.4 2,-2.3 2.2,-1.1 C2.4,-0.1 1.2,0.8 0,1.7 Z" fill="#f48b8d"/>
<path transform="translate(132.40,105.10) rotate(45) scale(1.22)" d="M0,1.7 C-1.2,0.8 -2.4,-0.1 -2.2,-1.1 C-2,-2.3 -0.6,-2.4 0,-1.2 C0.6,-2.4 2,-2.3 2.2,-1.1 C2.4,-0.1 1.2,0.8 0,1.7 Z" fill="#f48b8d"/>
<line x1="90.41" y1="130.62" x2="90.78" y2="127.84" stroke="#3b6f90" stroke-width="1.1"/>
<line x1="89.44" y1="127.26" x2="92.22" y2="127.63" stroke="#3b6f90" stroke-width="1.5"/>
<line x1="93.92" y1="131.56" x2="94.99" y2="128.97" stroke="#5858a8" stroke-width="1.1"/>
<line x1="93.85" y1="128.07" x2="96.44" y2="129.14" stroke="#5858a8" stroke-width="1.5"/>
<line x1="97.06" y1="133.37" x2="98.77" y2="131.15" stroke="#3b6f90" stroke-width="1.1"/>
<line x1="97.90" y1="129.98" x2="100.12" y2="131.69" stroke="#3b6f90" stroke-width="1.5"/>
<line x1="99.63" y1="135.94" x2="101.85" y2="134.23" stroke="#5858a8" stroke-width="1.1"/>
<line x1="101.31" y1="132.88" x2="103.02" y2="135.10" stroke="#5858a8" stroke-width="1.5"/>
<line x1="101.44" y1="139.08" x2="104.03" y2="138.01" stroke="#3b6f90" stroke-width="1.1"/>
<line x1="103.86" y1="136.56" x2="104.93" y2="139.15" stroke="#3b6f90" stroke-width="1.5"/>
<line x1="102.38" y1="142.59" x2="105.16" y2="142.22" stroke="#5858a8" stroke-width="1.1"/>
<line x1="105.37" y1="140.78" x2="105.74" y2="143.56" stroke="#5858a8" stroke-width="1.5"/>
<line x1="102.38" y1="146.21" x2="105.16" y2="146.58" stroke="#3b6f90" stroke-width="1.1"/>
<line x1="105.74" y1="145.24" x2="105.37" y2="148.02" stroke="#3b6f90" stroke-width="1.5"/>
<line x1="101.44" y1="149.72" x2="104.03" y2="150.79" stroke="#5858a8" stroke-width="1.1"/>
<line x1="104.93" y1="149.65" x2="103.86" y2="152.24" stroke="#5858a8" stroke-width="1.5"/>
<line x1="99.63" y1="152.86" x2="101.85" y2="154.57" stroke="#3b6f90" stroke-width="1.1"/>
<line x1="103.02" y1="153.70" x2="101.31" y2="155.92" stroke="#3b6f90" stroke-width="1.5"/>
<line x1="97.06" y1="155.43" x2="98.77" y2="157.65" stroke="#5858a8" stroke-width="1.1"/>
<line x1="100.12" y1="157.11" x2="97.90" y2="158.82" stroke="#5858a8" stroke-width="1.5"/>
<line x1="93.92" y1="157.24" x2="94.99" y2="159.83" stroke="#3b6f90" stroke-width="1.1"/>
<line x1="96.44" y1="159.66" x2="93.85" y2="160.73" stroke="#3b6f90" stroke-width="1.5"/>
<line x1="90.41" y1="158.18" x2="90.78" y2="160.96" stroke="#5858a8" stroke-width="1.1"/>
<line x1="92.22" y1="161.17" x2="89.44" y2="161.54" stroke="#5858a8" stroke-width="1.5"/>
<line x1="86.79" y1="158.18" x2="86.42" y2="160.96" stroke="#3b6f90" stroke-width="1.1"/>
<line x1="87.76" y1="161.54" x2="84.98" y2="161.17" stroke="#3b6f90" stroke-width="1.5"/>
<line x1="83.28" y1="157.24" x2="82.21" y2="159.83" stroke="#5858a8" stroke-width="1.1"/>
<line x1="83.35" y1="160.73" x2="80.76" y2="159.66" stroke="#5858a8" stroke-width="1.5"/>
<line x1="80.14" y1="155.43" x2="78.43" y2="157.65" stroke="#3b6f90" stroke-width="1.1"/>
<line x1="79.30" y1="158.82" x2="77.08" y2="157.11" stroke="#3b6f90" stroke-width="1.5"/>
<line x1="77.57" y1="152.86" x2="75.35" y2="154.57" stroke="#5858a8" stroke-width="1.1"/>
<line x1="75.89" y1="155.92" x2="74.18" y2="153.70" stroke="#5858a8" stroke-width="1.5"/>
<line x1="75.76" y1="149.72" x2="73.17" y2="150.79" stroke="#3b6f90" stroke-width="1.1"/>
<line x1="73.34" y1="152.24" x2="72.27" y2="149.65" stroke="#3b6f90" stroke-width="1.5"/>
<line x1="74.82" y1="146.21" x2="72.04" y2="146.58" stroke="#5858a8" stroke-width="1.1"/>
<line x1="71.83" y1="148.02" x2="71.46" y2="145.24" stroke="#5858a8" stroke-width="1.5"/>
<line x1="74.82" y1="142.59" x2="72.04" y2="142.22" stroke="#3b6f90" stroke-width="1.1"/>
<line x1="71.46" y1="143.56" x2="71.83" y2="140.78" stroke="#3b6f90" stroke-width="1.5"/>
<line x1="75.76" y1="139.08" x2="73.17" y2="138.01" stroke="#5858a8" stroke-width="1.1"/>
<line x1="72.27" y1="139.15" x2="73.34" y2="136.56" stroke="#5858a8" stroke-width="1.5"/>
<line x1="77.57" y1="135.94" x2="75.35" y2="134.23" stroke="#3b6f90" stroke-width="1.1"/>
<line x1="74.18" y1="135.10" x2="75.89" y2="132.88" stroke="#3b6f90" stroke-width="1.5"/>
<line x1="80.14" y1="133.37" x2="78.43" y2="131.15" stroke="#5858a8" stroke-width="1.1"/>
<line x1="77.08" y1="131.69" x2="79.30" y2="129.98" stroke="#5858a8" stroke-width="1.5"/>
<line x1="83.28" y1="131.56" x2="82.21" y2="128.97" stroke="#3b6f90" stroke-width="1.1"/>
<line x1="80.76" y1="129.14" x2="83.35" y2="128.07" stroke="#3b6f90" stroke-width="1.5"/>
<line x1="86.79" y1="130.62" x2="86.42" y2="127.84" stroke="#5858a8" stroke-width="1.1"/>
<line x1="84.98" y1="127.63" x2="87.76" y2="127.26" stroke="#5858a8" stroke-width="1.5"/>
<circle cx="88.6" cy="144.4" r="13.9" fill="#eef6f3" stroke="#3d6f8e" stroke-width="1.2"/>
<circle cx="88.6" cy="144.4" r="12.1" fill="none" stroke="#3d6f8e" stroke-width="1.0"/>
<line x1="100.70" y1="144.40" x2="102.50" y2="144.40" stroke="#3d6f8e" stroke-width="0.7"/>
<line x1="100.55" y1="146.29" x2="102.33" y2="146.57" stroke="#3d6f8e" stroke-width="0.7"/>
<line x1="100.11" y1="148.14" x2="101.82" y2="148.70" stroke="#3d6f8e" stroke-width="0.7"/>
<line x1="99.38" y1="149.89" x2="100.98" y2="150.71" stroke="#3d6f8e" stroke-width="0.7"/>
<line x1="98.39" y1="151.51" x2="99.85" y2="152.57" stroke="#3d6f8e" stroke-width="0.7"/>
<line x1="97.16" y1="152.96" x2="98.43" y2="154.23" stroke="#3d6f8e" stroke-width="0.7"/>
<line x1="95.71" y1="154.19" x2="96.77" y2="155.65" stroke="#3d6f8e" stroke-width="0.7"/>
<line x1="94.09" y1="155.18" x2="94.91" y2="156.78" stroke="#3d6f8e" stroke-width="0.7"/>
<line x1="92.34" y1="155.91" x2="92.90" y2="157.62" stroke="#3d6f8e" stroke-width="0.7"/>
<line x1="90.49" y1="156.35" x2="90.77" y2="158.13" stroke="#3d6f8e" stroke-width="0.7"/>
<line x1="88.60" y1="156.50" x2="88.60" y2="158.30" stroke="#3d6f8e" stroke-width="0.7"/>
<line x1="86.71" y1="156.35" x2="86.43" y2="158.13" stroke="#3d6f8e" stroke-width="0.7"/>
<line x1="84.86" y1="155.91" x2="84.30" y2="157.62" stroke="#3d6f8e" stroke-width="0.7"/>
<line x1="83.11" y1="155.18" x2="82.29" y2="156.78" stroke="#3d6f8e" stroke-width="0.7"/>
<line x1="81.49" y1="154.19" x2="80.43" y2="155.65" stroke="#3d6f8e" stroke-width="0.7"/>
<line x1="80.04" y1="152.96" x2="78.77" y2="154.23" stroke="#3d6f8e" stroke-width="0.7"/>
<line x1="78.81" y1="151.51" x2="77.35" y2="152.57" stroke="#3d6f8e" stroke-width="0.7"/>
<line x1="77.82" y1="149.89" x2="76.22" y2="150.71" stroke="#3d6f8e" stroke-width="0.7"/>
<line x1="77.09" y1="148.14" x2="75.38" y2="148.70" stroke="#3d6f8e" stroke-width="0.7"/>
<line x1="76.65" y1="146.29" x2="74.87" y2="146.57" stroke="#3d6f8e" stroke-width="0.7"/>
<line x1="76.50" y1="144.40" x2="74.70" y2="144.40" stroke="#3d6f8e" stroke-width="0.7"/>
<line x1="76.65" y1="142.51" x2="74.87" y2="142.23" stroke="#3d6f8e" stroke-width="0.7"/>
<line x1="77.09" y1="140.66" x2="75.38" y2="140.10" stroke="#3d6f8e" stroke-width="0.7"/>
<line x1="77.82" y1="138.91" x2="76.22" y2="138.09" stroke="#3d6f8e" stroke-width="0.7"/>
<line x1="78.81" y1="137.29" x2="77.35" y2="136.23" stroke="#3d6f8e" stroke-width="0.7"/>
<line x1="80.04" y1="135.84" x2="78.77" y2="134.57" stroke="#3d6f8e" stroke-width="0.7"/>
<line x1="81.49" y1="134.61" x2="80.43" y2="133.15" stroke="#3d6f8e" stroke-width="0.7"/>
<line x1="83.11" y1="133.62" x2="82.29" y2="132.02" stroke="#3d6f8e" stroke-width="0.7"/>
<line x1="84.86" y1="132.89" x2="84.30" y2="131.18" stroke="#3d6f8e" stroke-width="0.7"/>
<line x1="86.71" y1="132.45" x2="86.43" y2="130.67" stroke="#3d6f8e" stroke-width="0.7"/>
<line x1="88.60" y1="132.30" x2="88.60" y2="130.50" stroke="#3d6f8e" stroke-width="0.7"/>
<line x1="90.49" y1="132.45" x2="90.77" y2="130.67" stroke="#3d6f8e" stroke-width="0.7"/>
<line x1="92.34" y1="132.89" x2="92.90" y2="131.18" stroke="#3d6f8e" stroke-width="0.7"/>
<line x1="94.09" y1="133.62" x2="94.91" y2="132.02" stroke="#3d6f8e" stroke-width="0.7"/>
<line x1="95.71" y1="134.61" x2="96.77" y2="133.15" stroke="#3d6f8e" stroke-width="0.7"/>
<line x1="97.16" y1="135.84" x2="98.43" y2="134.57" stroke="#3d6f8e" stroke-width="0.7"/>
<line x1="98.39" y1="137.29" x2="99.85" y2="136.23" stroke="#3d6f8e" stroke-width="0.7"/>
<line x1="99.38" y1="138.91" x2="100.98" y2="138.09" stroke="#3d6f8e" stroke-width="0.7"/>
<line x1="100.11" y1="140.66" x2="101.82" y2="140.10" stroke="#3d6f8e" stroke-width="0.7"/>
<line x1="100.55" y1="142.51" x2="102.33" y2="142.23" stroke="#3d6f8e" stroke-width="0.7"/>
<circle cx="88.6" cy="144.4" r="11.6" fill="#eef6f3"/>
<path transform="translate(84.00,139.60) rotate(45) scale(1.22)" d="M0,1.7 C-1.2,0.8 -2.4,-0.1 -2.2,-1.1 C-2,-2.3 -0.6,-2.4 0,-1.2 C0.6,-2.4 2,-2.3 2.2,-1.1 C2.4,-0.1 1.2,0.8 0,1.7 Z" fill="#f8d49e"/>
<path transform="translate(91.20,139.60) rotate(45) scale(1.22)" d="M0,1.7 C-1.2,0.8 -2.4,-0.1 -2.2,-1.1 C-2,-2.3 -0.6,-2.4 0,-1.2 C0.6,-2.4 2,-2.3 2.2,-1.1 C2.4,-0.1 1.2,0.8 0,1.7 Z" fill="#f8d49e"/>
<path transform="translate(81.70,145.60) rotate(45) scale(1.22)" d="M0,1.7 C-1.2,0.8 -2.4,-0.1 -2.2,-1.1 C-2,-2.3 -0.6,-2.4 0,-1.2 C0.6,-2.4 2,-2.3 2.2,-1.1 C2.4,-0.1 1.2,0.8 0,1.7 Z" fill="#f8d49e"/>
<path transform="translate(88.70,145.60) rotate(45) scale(1.22)" d="M0,1.7 C-1.2,0.8 -2.4,-0.1 -2.2,-1.1 C-2,-2.3 -0.6,-2.4 0,-1.2 C0.6,-2.4 2,-2.3 2.2,-1.1 C2.4,-0.1 1.2,0.8 0,1.7 Z" fill="#f8d49e"/>
<path transform="translate(95.70,145.60) rotate(45) scale(1.22)" d="M0,1.7 C-1.2,0.8 -2.4,-0.1 -2.2,-1.1 C-2,-2.3 -0.6,-2.4 0,-1.2 C0.6,-2.4 2,-2.3 2.2,-1.1 C2.4,-0.1 1.2,0.8 0,1.7 Z" fill="#f8d49e"/>
<path transform="translate(86.00,151.00) rotate(45) scale(1.22)" d="M0,1.7 C-1.2,0.8 -2.4,-0.1 -2.2,-1.1 C-2,-2.3 -0.6,-2.4 0,-1.2 C0.6,-2.4 2,-2.3 2.2,-1.1 C2.4,-0.1 1.2,0.8 0,1.7 Z" fill="#f8d49e"/>
<path transform="translate(92.90,151.00) rotate(45) scale(1.22)" d="M0,1.7 C-1.2,0.8 -2.4,-0.1 -2.2,-1.1 C-2,-2.3 -0.6,-2.4 0,-1.2 C0.6,-2.4 2,-2.3 2.2,-1.1 C2.4,-0.1 1.2,0.8 0,1.7 Z" fill="#f8d49e"/>
<line x1="129.91" y1="130.62" x2="130.28" y2="127.84" stroke="#3b6f90" stroke-width="1.1"/>
<line x1="128.94" y1="127.26" x2="131.72" y2="127.63" stroke="#3b6f90" stroke-width="1.5"/>
<line x1="133.42" y1="131.56" x2="134.49" y2="128.97" stroke="#5858a8" stroke-width="1.1"/>
<line x1="133.35" y1="128.07" x2="135.94" y2="129.14" stroke="#5858a8" stroke-width="1.5"/>
<line x1="136.56" y1="133.37" x2="138.27" y2="131.15" stroke="#3b6f90" stroke-width="1.1"/>
<line x1="137.40" y1="129.98" x2="139.62" y2="131.69" stroke="#3b6f90" stroke-width="1.5"/>
<line x1="139.13" y1="135.94" x2="141.35" y2="134.23" stroke="#5858a8" stroke-width="1.1"/>
<line x1="140.81" y1="132.88" x2="142.52" y2="135.10" stroke="#5858a8" stroke-width="1.5"/>
<line x1="140.94" y1="139.08" x2="143.53" y2="138.01" stroke="#3b6f90" stroke-width="1.1"/>
<line x1="143.36" y1="136.56" x2="144.43" y2="139.15" stroke="#3b6f90" stroke-width="1.5"/>
<line x1="141.88" y1="142.59" x2="144.66" y2="142.22" stroke="#5858a8" stroke-width="1.1"/>
<line x1="144.87" y1="140.78" x2="145.24" y2="143.56" stroke="#5858a8" stroke-width="1.5"/>
<line x1="141.88" y1="146.21" x2="144.66" y2="146.58" stroke="#3b6f90" stroke-width="1.1"/>
<line x1="145.24" y1="145.24" x2="144.87" y2="148.02" stroke="#3b6f90" stroke-width="1.5"/>
<line x1="140.94" y1="149.72" x2="143.53" y2="150.79" stroke="#5858a8" stroke-width="1.1"/>
<line x1="144.43" y1="149.65" x2="143.36" y2="152.24" stroke="#5858a8" stroke-width="1.5"/>
<line x1="139.13" y1="152.86" x2="141.35" y2="154.57" stroke="#3b6f90" stroke-width="1.1"/>
<line x1="142.52" y1="153.70" x2="140.81" y2="155.92" stroke="#3b6f90" stroke-width="1.5"/>
<line x1="136.56" y1="155.43" x2="138.27" y2="157.65" stroke="#5858a8" stroke-width="1.1"/>
<line x1="139.62" y1="157.11" x2="137.40" y2="158.82" stroke="#5858a8" stroke-width="1.5"/>
<line x1="133.42" y1="157.24" x2="134.49" y2="159.83" stroke="#3b6f90" stroke-width="1.1"/>
<line x1="135.94" y1="159.66" x2="133.35" y2="160.73" stroke="#3b6f90" stroke-width="1.5"/>
<line x1="129.91" y1="158.18" x2="130.28" y2="160.96" stroke="#5858a8" stroke-width="1.1"/>
<line x1="131.72" y1="161.17" x2="128.94" y2="161.54" stroke="#5858a8" stroke-width="1.5"/>
<line x1="126.29" y1="158.18" x2="125.92" y2="160.96" stroke="#3b6f90" stroke-width="1.1"/>
<line x1="127.26" y1="161.54" x2="124.48" y2="161.17" stroke="#3b6f90" stroke-width="1.5"/>
<line x1="122.78" y1="157.24" x2="121.71" y2="159.83" stroke="#5858a8" stroke-width="1.1"/>
<line x1="122.85" y1="160.73" x2="120.26" y2="159.66" stroke="#5858a8" stroke-width="1.5"/>
<line x1="119.64" y1="155.43" x2="117.93" y2="157.65" stroke="#3b6f90" stroke-width="1.1"/>
<line x1="118.80" y1="158.82" x2="116.58" y2="157.11" stroke="#3b6f90" stroke-width="1.5"/>
<line x1="117.07" y1="152.86" x2="114.85" y2="154.57" stroke="#5858a8" stroke-width="1.1"/>
<line x1="115.39" y1="155.92" x2="113.68" y2="153.70" stroke="#5858a8" stroke-width="1.5"/>
<line x1="115.26" y1="149.72" x2="112.67" y2="150.79" stroke="#3b6f90" stroke-width="1.1"/>
<line x1="112.84" y1="152.24" x2="111.77" y2="149.65" stroke="#3b6f90" stroke-width="1.5"/>
<line x1="114.32" y1="146.21" x2="111.54" y2="146.58" stroke="#5858a8" stroke-width="1.1"/>
<line x1="111.33" y1="148.02" x2="110.96" y2="145.24" stroke="#5858a8" stroke-width="1.5"/>
<line x1="114.32" y1="142.59" x2="111.54" y2="142.22" stroke="#3b6f90" stroke-width="1.1"/>
<line x1="110.96" y1="143.56" x2="111.33" y2="140.78" stroke="#3b6f90" stroke-width="1.5"/>
<line x1="115.26" y1="139.08" x2="112.67" y2="138.01" stroke="#5858a8" stroke-width="1.1"/>
<line x1="111.77" y1="139.15" x2="112.84" y2="136.56" stroke="#5858a8" stroke-width="1.5"/>
<line x1="117.07" y1="135.94" x2="114.85" y2="134.23" stroke="#3b6f90" stroke-width="1.1"/>
<line x1="113.68" y1="135.10" x2="115.39" y2="132.88" stroke="#3b6f90" stroke-width="1.5"/>
<line x1="119.64" y1="133.37" x2="117.93" y2="131.15" stroke="#5858a8" stroke-width="1.1"/>
<line x1="116.58" y1="131.69" x2="118.80" y2="129.98" stroke="#5858a8" stroke-width="1.5"/>
<line x1="122.78" y1="131.56" x2="121.71" y2="128.97" stroke="#3b6f90" stroke-width="1.1"/>
<line x1="120.26" y1="129.14" x2="122.85" y2="128.07" stroke="#3b6f90" stroke-width="1.5"/>
<line x1="126.29" y1="130.62" x2="125.92" y2="127.84" stroke="#5858a8" stroke-width="1.1"/>
<line x1="124.48" y1="127.63" x2="127.26" y2="127.26" stroke="#5858a8" stroke-width="1.5"/>
<circle cx="128.1" cy="144.4" r="13.9" fill="#eef6f3" stroke="#3d6f8e" stroke-width="1.2"/>
<circle cx="128.1" cy="144.4" r="12.1" fill="none" stroke="#3d6f8e" stroke-width="1.0"/>
<line x1="140.20" y1="144.40" x2="142.00" y2="144.40" stroke="#3d6f8e" stroke-width="0.7"/>
<line x1="140.05" y1="146.29" x2="141.83" y2="146.57" stroke="#3d6f8e" stroke-width="0.7"/>
<line x1="139.61" y1="148.14" x2="141.32" y2="148.70" stroke="#3d6f8e" stroke-width="0.7"/>
<line x1="138.88" y1="149.89" x2="140.48" y2="150.71" stroke="#3d6f8e" stroke-width="0.7"/>
<line x1="137.89" y1="151.51" x2="139.35" y2="152.57" stroke="#3d6f8e" stroke-width="0.7"/>
<line x1="136.66" y1="152.96" x2="137.93" y2="154.23" stroke="#3d6f8e" stroke-width="0.7"/>
<line x1="135.21" y1="154.19" x2="136.27" y2="155.65" stroke="#3d6f8e" stroke-width="0.7"/>
<line x1="133.59" y1="155.18" x2="134.41" y2="156.78" stroke="#3d6f8e" stroke-width="0.7"/>
<line x1="131.84" y1="155.91" x2="132.40" y2="157.62" stroke="#3d6f8e" stroke-width="0.7"/>
<line x1="129.99" y1="156.35" x2="130.27" y2="158.13" stroke="#3d6f8e" stroke-width="0.7"/>
<line x1="128.10" y1="156.50" x2="128.10" y2="158.30" stroke="#3d6f8e" stroke-width="0.7"/>
<line x1="126.21" y1="156.35" x2="125.93" y2="158.13" stroke="#3d6f8e" stroke-width="0.7"/>
<line x1="124.36" y1="155.91" x2="123.80" y2="157.62" stroke="#3d6f8e" stroke-width="0.7"/>
<line x1="122.61" y1="155.18" x2="121.79" y2="156.78" stroke="#3d6f8e" stroke-width="0.7"/>
<line x1="120.99" y1="154.19" x2="119.93" y2="155.65" stroke="#3d6f8e" stroke-width="0.7"/>
<line x1="119.54" y1="152.96" x2="118.27" y2="154.23" stroke="#3d6f8e" stroke-width="0.7"/>
<line x1="118.31" y1="151.51" x2="116.85" y2="152.57" stroke="#3d6f8e" stroke-width="0.7"/>
<line x1="117.32" y1="149.89" x2="115.72" y2="150.71" stroke="#3d6f8e" stroke-width="0.7"/>
<line x1="116.59" y1="148.14" x2="114.88" y2="148.70" stroke="#3d6f8e" stroke-width="0.7"/>
<line x1="116.15" y1="146.29" x2="114.37" y2="146.57" stroke="#3d6f8e" stroke-width="0.7"/>
<line x1="116.00" y1="144.40" x2="114.20" y2="144.40" stroke="#3d6f8e" stroke-width="0.7"/>
<line x1="116.15" y1="142.51" x2="114.37" y2="142.23" stroke="#3d6f8e" stroke-width="0.7"/>
<line x1="116.59" y1="140.66" x2="114.88" y2="140.10" stroke="#3d6f8e" stroke-width="0.7"/>
<line x1="117.32" y1="138.91" x2="115.72" y2="138.09" stroke="#3d6f8e" stroke-width="0.7"/>
<line x1="118.31" y1="137.29" x2="116.85" y2="136.23" stroke="#3d6f8e" stroke-width="0.7"/>
<line x1="119.54" y1="135.84" x2="118.27" y2="134.57" stroke="#3d6f8e" stroke-width="0.7"/>
<line x1="120.99" y1="134.61" x2="119.93" y2="133.15" stroke="#3d6f8e" stroke-width="0.7"/>
<line x1="122.61" y1="133.62" x2="121.79" y2="132.02" stroke="#3d6f8e" stroke-width="0.7"/>
<line x1="124.36" y1="132.89" x2="123.80" y2="131.18" stroke="#3d6f8e" stroke-width="0.7"/>
<line x1="126.21" y1="132.45" x2="125.93" y2="130.67" stroke="#3d6f8e" stroke-width="0.7"/>
<line x1="128.10" y1="132.30" x2="128.10" y2="130.50" stroke="#3d6f8e" stroke-width="0.7"/>
<line x1="129.99" y1="132.45" x2="130.27" y2="130.67" stroke="#3d6f8e" stroke-width="0.7"/>
<line x1="131.84" y1="132.89" x2="132.40" y2="131.18" stroke="#3d6f8e" stroke-width="0.7"/>
<line x1="133.59" y1="133.62" x2="134.41" y2="132.02" stroke="#3d6f8e" stroke-width="0.7"/>
<line x1="135.21" y1="134.61" x2="136.27" y2="133.15" stroke="#3d6f8e" stroke-width="0.7"/>
<line x1="136.66" y1="135.84" x2="137.93" y2="134.57" stroke="#3d6f8e" stroke-width="0.7"/>
<line x1="137.89" y1="137.29" x2="139.35" y2="136.23" stroke="#3d6f8e" stroke-width="0.7"/>
<line x1="138.88" y1="138.91" x2="140.48" y2="138.09" stroke="#3d6f8e" stroke-width="0.7"/>
<line x1="139.61" y1="140.66" x2="141.32" y2="140.10" stroke="#3d6f8e" stroke-width="0.7"/>
<line x1="140.05" y1="142.51" x2="141.83" y2="142.23" stroke="#3d6f8e" stroke-width="0.7"/>
<circle cx="128.1" cy="144.4" r="11.6" fill="#eef6f3"/>
<path transform="translate(123.50,139.60) rotate(45) scale(1.22)" d="M0,1.7 C-1.2,0.8 -2.4,-0.1 -2.2,-1.1 C-2,-2.3 -0.6,-2.4 0,-1.2 C0.6,-2.4 2,-2.3 2.2,-1.1 C2.4,-0.1 1.2,0.8 0,1.7 Z" fill="#f48b8d"/>
<path transform="translate(130.70,139.60) rotate(45) scale(1.22)" d="M0,1.7 C-1.2,0.8 -2.4,-0.1 -2.2,-1.1 C-2,-2.3 -0.6,-2.4 0,-1.2 C0.6,-2.4 2,-2.3 2.2,-1.1 C2.4,-0.1 1.2,0.8 0,1.7 Z" fill="#f48b8d"/>
<path transform="translate(121.20,145.60) rotate(45) scale(1.22)" d="M0,1.7 C-1.2,0.8 -2.4,-0.1 -2.2,-1.1 C-2,-2.3 -0.6,-2.4 0,-1.2 C0.6,-2.4 2,-2.3 2.2,-1.1 C2.4,-0.1 1.2,0.8 0,1.7 Z" fill="#f48b8d"/>
<path transform="translate(128.20,145.60) rotate(45) scale(1.22)" d="M0,1.7 C-1.2,0.8 -2.4,-0.1 -2.2,-1.1 C-2,-2.3 -0.6,-2.4 0,-1.2 C0.6,-2.4 2,-2.3 2.2,-1.1 C2.4,-0.1 1.2,0.8 0,1.7 Z" fill="#f48b8d"/>
<path transform="translate(135.20,145.60) rotate(45) scale(1.22)" d="M0,1.7 C-1.2,0.8 -2.4,-0.1 -2.2,-1.1 C-2,-2.3 -0.6,-2.4 0,-1.2 C0.6,-2.4 2,-2.3 2.2,-1.1 C2.4,-0.1 1.2,0.8 0,1.7 Z" fill="#f48b8d"/>
<path transform="translate(125.50,151.00) rotate(45) scale(1.22)" d="M0,1.7 C-1.2,0.8 -2.4,-0.1 -2.2,-1.1 C-2,-2.3 -0.6,-2.4 0,-1.2 C0.6,-2.4 2,-2.3 2.2,-1.1 C2.4,-0.1 1.2,0.8 0,1.7 Z" fill="#f48b8d"/>
<path transform="translate(132.40,151.00) rotate(45) scale(1.22)" d="M0,1.7 C-1.2,0.8 -2.4,-0.1 -2.2,-1.1 C-2,-2.3 -0.6,-2.4 0,-1.2 C0.6,-2.4 2,-2.3 2.2,-1.1 C2.4,-0.1 1.2,0.8 0,1.7 Z" fill="#f48b8d"/>
<line x1="169.61" y1="130.62" x2="169.98" y2="127.84" stroke="#3b6f90" stroke-width="1.1"/>
<line x1="168.64" y1="127.26" x2="171.42" y2="127.63" stroke="#3b6f90" stroke-width="1.5"/>
<line x1="173.12" y1="131.56" x2="174.19" y2="128.97" stroke="#5858a8" stroke-width="1.1"/>
<line x1="173.05" y1="128.07" x2="175.64" y2="129.14" stroke="#5858a8" stroke-width="1.5"/>
<line x1="176.26" y1="133.37" x2="177.97" y2="131.15" stroke="#3b6f90" stroke-width="1.1"/>
<line x1="177.10" y1="129.98" x2="179.32" y2="131.69" stroke="#3b6f90" stroke-width="1.5"/>
<line x1="178.83" y1="135.94" x2="181.05" y2="134.23" stroke="#5858a8" stroke-width="1.1"/>
<line x1="180.51" y1="132.88" x2="182.22" y2="135.10" stroke="#5858a8" stroke-width="1.5"/>
<line x1="180.64" y1="139.08" x2="183.23" y2="138.01" stroke="#3b6f90" stroke-width="1.1"/>
<line x1="183.06" y1="136.56" x2="184.13" y2="139.15" stroke="#3b6f90" stroke-width="1.5"/>
<line x1="181.58" y1="142.59" x2="184.36" y2="142.22" stroke="#5858a8" stroke-width="1.1"/>
<line x1="184.57" y1="140.78" x2="184.94" y2="143.56" stroke="#5858a8" stroke-width="1.5"/>
<line x1="181.58" y1="146.21" x2="184.36" y2="146.58" stroke="#3b6f90" stroke-width="1.1"/>
<line x1="184.94" y1="145.24" x2="184.57" y2="148.02" stroke="#3b6f90" stroke-width="1.5"/>
<line x1="180.64" y1="149.72" x2="183.23" y2="150.79" stroke="#5858a8" stroke-width="1.1"/>
<line x1="184.13" y1="149.65" x2="183.06" y2="152.24" stroke="#5858a8" stroke-width="1.5"/>
<line x1="178.83" y1="152.86" x2="181.05" y2="154.57" stroke="#3b6f90" stroke-width="1.1"/>
<line x1="182.22" y1="153.70" x2="180.51" y2="155.92" stroke="#3b6f90" stroke-width="1.5"/>
<line x1="176.26" y1="155.43" x2="177.97" y2="157.65" stroke="#5858a8" stroke-width="1.1"/>
<line x1="179.32" y1="157.11" x2="177.10" y2="158.82" stroke="#5858a8" stroke-width="1.5"/>
<line x1="173.12" y1="157.24" x2="174.19" y2="159.83" stroke="#3b6f90" stroke-width="1.1"/>
<line x1="175.64" y1="159.66" x2="173.05" y2="160.73" stroke="#3b6f90" stroke-width="1.5"/>
<line x1="169.61" y1="158.18" x2="169.98" y2="160.96" stroke="#5858a8" stroke-width="1.1"/>
<line x1="171.42" y1="161.17" x2="168.64" y2="161.54" stroke="#5858a8" stroke-width="1.5"/>
<line x1="165.99" y1="158.18" x2="165.62" y2="160.96" stroke="#3b6f90" stroke-width="1.1"/>
<line x1="166.96" y1="161.54" x2="164.18" y2="161.17" stroke="#3b6f90" stroke-width="1.5"/>
<line x1="162.48" y1="157.24" x2="161.41" y2="159.83" stroke="#5858a8" stroke-width="1.1"/>
<line x1="162.55" y1="160.73" x2="159.96" y2="159.66" stroke="#5858a8" stroke-width="1.5"/>
<line x1="159.34" y1="155.43" x2="157.63" y2="157.65" stroke="#3b6f90" stroke-width="1.1"/>
<line x1="158.50" y1="158.82" x2="156.28" y2="157.11" stroke="#3b6f90" stroke-width="1.5"/>
<line x1="156.77" y1="152.86" x2="154.55" y2="154.57" stroke="#5858a8" stroke-width="1.1"/>
<line x1="155.09" y1="155.92" x2="153.38" y2="153.70" stroke="#5858a8" stroke-width="1.5"/>
<line x1="154.96" y1="149.72" x2="152.37" y2="150.79" stroke="#3b6f90" stroke-width="1.1"/>
<line x1="152.54" y1="152.24" x2="151.47" y2="149.65" stroke="#3b6f90" stroke-width="1.5"/>
<line x1="154.02" y1="146.21" x2="151.24" y2="146.58" stroke="#5858a8" stroke-width="1.1"/>
<line x1="151.03" y1="148.02" x2="150.66" y2="145.24" stroke="#5858a8" stroke-width="1.5"/>
<line x1="154.02" y1="142.59" x2="151.24" y2="142.22" stroke="#3b6f90" stroke-width="1.1"/>
<line x1="150.66" y1="143.56" x2="151.03" y2="140.78" stroke="#3b6f90" stroke-width="1.5"/>
<line x1="154.96" y1="139.08" x2="152.37" y2="138.01" stroke="#5858a8" stroke-width="1.1"/>
<line x1="151.47" y1="139.15" x2="152.54" y2="136.56" stroke="#5858a8" stroke-width="1.5"/>
<line x1="156.77" y1="135.94" x2="154.55" y2="134.23" stroke="#3b6f90" stroke-width="1.1"/>
<line x1="153.38" y1="135.10" x2="155.09" y2="132.88" stroke="#3b6f90" stroke-width="1.5"/>
<line x1="159.34" y1="133.37" x2="157.63" y2="131.15" stroke="#5858a8" stroke-width="1.1"/>
<line x1="156.28" y1="131.69" x2="158.50" y2="129.98" stroke="#5858a8" stroke-width="1.5"/>
<line x1="162.48" y1="131.56" x2="161.41" y2="128.97" stroke="#3b6f90" stroke-width="1.1"/>
<line x1="159.96" y1="129.14" x2="162.55" y2="128.07" stroke="#3b6f90" stroke-width="1.5"/>
<line x1="165.99" y1="130.62" x2="165.62" y2="127.84" stroke="#5858a8" stroke-width="1.1"/>
<line x1="164.18" y1="127.63" x2="166.96" y2="127.26" stroke="#5858a8" stroke-width="1.5"/>
<circle cx="167.8" cy="144.4" r="13.9" fill="#eef6f3" stroke="#3d6f8e" stroke-width="1.2"/>
<circle cx="167.8" cy="144.4" r="12.1" fill="none" stroke="#3d6f8e" stroke-width="1.0"/>
<line x1="179.90" y1="144.40" x2="181.70" y2="144.40" stroke="#3d6f8e" stroke-width="0.7"/>
<line x1="179.75" y1="146.29" x2="181.53" y2="146.57" stroke="#3d6f8e" stroke-width="0.7"/>
<line x1="179.31" y1="148.14" x2="181.02" y2="148.70" stroke="#3d6f8e" stroke-width="0.7"/>
<line x1="178.58" y1="149.89" x2="180.18" y2="150.71" stroke="#3d6f8e" stroke-width="0.7"/>
<line x1="177.59" y1="151.51" x2="179.05" y2="152.57" stroke="#3d6f8e" stroke-width="0.7"/>
<line x1="176.36" y1="152.96" x2="177.63" y2="154.23" stroke="#3d6f8e" stroke-width="0.7"/>
<line x1="174.91" y1="154.19" x2="175.97" y2="155.65" stroke="#3d6f8e" stroke-width="0.7"/>
<line x1="173.29" y1="155.18" x2="174.11" y2="156.78" stroke="#3d6f8e" stroke-width="0.7"/>
<line x1="171.54" y1="155.91" x2="172.10" y2="157.62" stroke="#3d6f8e" stroke-width="0.7"/>
<line x1="169.69" y1="156.35" x2="169.97" y2="158.13" stroke="#3d6f8e" stroke-width="0.7"/>
<line x1="167.80" y1="156.50" x2="167.80" y2="158.30" stroke="#3d6f8e" stroke-width="0.7"/>
<line x1="165.91" y1="156.35" x2="165.63" y2="158.13" stroke="#3d6f8e" stroke-width="0.7"/>
<line x1="164.06" y1="155.91" x2="163.50" y2="157.62" stroke="#3d6f8e" stroke-width="0.7"/>
<line x1="162.31" y1="155.18" x2="161.49" y2="156.78" stroke="#3d6f8e" stroke-width="0.7"/>
<line x1="160.69" y1="154.19" x2="159.63" y2="155.65" stroke="#3d6f8e" stroke-width="0.7"/>
<line x1="159.24" y1="152.96" x2="157.97" y2="154.23" stroke="#3d6f8e" stroke-width="0.7"/>
<line x1="158.01" y1="151.51" x2="156.55" y2="152.57" stroke="#3d6f8e" stroke-width="0.7"/>
<line x1="157.02" y1="149.89" x2="155.42" y2="150.71" stroke="#3d6f8e" stroke-width="0.7"/>
<line x1="156.29" y1="148.14" x2="154.58" y2="148.70" stroke="#3d6f8e" stroke-width="0.7"/>
<line x1="155.85" y1="146.29" x2="154.07" y2="146.57" stroke="#3d6f8e" stroke-width="0.7"/>
<line x1="155.70" y1="144.40" x2="153.90" y2="144.40" stroke="#3d6f8e" stroke-width="0.7"/>
<line x1="155.85" y1="142.51" x2="154.07" y2="142.23" stroke="#3d6f8e" stroke-width="0.7"/>
<line x1="156.29" y1="140.66" x2="154.58" y2="140.10" stroke="#3d6f8e" stroke-width="0.7"/>
<line x1="157.02" y1="138.91" x2="155.42" y2="138.09" stroke="#3d6f8e" stroke-width="0.7"/>
<line x1="158.01" y1="137.29" x2="156.55" y2="136.23" stroke="#3d6f8e" stroke-width="0.7"/>
<line x1="159.24" y1="135.84" x2="157.97" y2="134.57" stroke="#3d6f8e" stroke-width="0.7"/>
<line x1="160.69" y1="134.61" x2="159.63" y2="133.15" stroke="#3d6f8e" stroke-width="0.7"/>
<line x1="162.31" y1="133.62" x2="161.49" y2="132.02" stroke="#3d6f8e" stroke-width="0.7"/>
<line x1="164.06" y1="132.89" x2="163.50" y2="131.18" stroke="#3d6f8e" stroke-width="0.7"/>
<line x1="165.91" y1="132.45" x2="165.63" y2="130.67" stroke="#3d6f8e" stroke-width="0.7"/>
<line x1="167.80" y1="132.30" x2="167.80" y2="130.50" stroke="#3d6f8e" stroke-width="0.7"/>
<line x1="169.69" y1="132.45" x2="169.97" y2="130.67" stroke="#3d6f8e" stroke-width="0.7"/>
<line x1="171.54" y1="132.89" x2="172.10" y2="131.18" stroke="#3d6f8e" stroke-width="0.7"/>
<line x1="173.29" y1="133.62" x2="174.11" y2="132.02" stroke="#3d6f8e" stroke-width="0.7"/>
<line x1="174.91" y1="134.61" x2="175.97" y2="133.15" stroke="#3d6f8e" stroke-width="0.7"/>
<line x1="176.36" y1="135.84" x2="177.63" y2="134.57" stroke="#3d6f8e" stroke-width="0.7"/>
<line x1="177.59" y1="137.29" x2="179.05" y2="136.23" stroke="#3d6f8e" stroke-width="0.7"/>
<line x1="178.58" y1="138.91" x2="180.18" y2="138.09" stroke="#3d6f8e" stroke-width="0.7"/>
<line x1="179.31" y1="140.66" x2="181.02" y2="140.10" stroke="#3d6f8e" stroke-width="0.7"/>
<line x1="179.75" y1="142.51" x2="181.53" y2="142.23" stroke="#3d6f8e" stroke-width="0.7"/>
<circle cx="167.8" cy="144.4" r="11.6" fill="#eef6f3"/>
<path transform="translate(163.20,139.60) rotate(45) scale(1.22)" d="M0,1.7 C-1.2,0.8 -2.4,-0.1 -2.2,-1.1 C-2,-2.3 -0.6,-2.4 0,-1.2 C0.6,-2.4 2,-2.3 2.2,-1.1 C2.4,-0.1 1.2,0.8 0,1.7 Z" fill="#9ea1a8"/>
<path transform="translate(170.40,139.60) rotate(45) scale(1.22)" d="M0,1.7 C-1.2,0.8 -2.4,-0.1 -2.2,-1.1 C-2,-2.3 -0.6,-2.4 0,-1.2 C0.6,-2.4 2,-2.3 2.2,-1.1 C2.4,-0.1 1.2,0.8 0,1.7 Z" fill="#9ea1a8"/>
<path transform="translate(160.90,145.60) rotate(45) scale(1.22)" d="M0,1.7 C-1.2,0.8 -2.4,-0.1 -2.2,-1.1 C-2,-2.3 -0.6,-2.4 0,-1.2 C0.6,-2.4 2,-2.3 2.2,-1.1 C2.4,-0.1 1.2,0.8 0,1.7 Z" fill="#9ea1a8"/>
<path transform="translate(167.90,145.60) rotate(45) scale(1.22)" d="M0,1.7 C-1.2,0.8 -2.4,-0.1 -2.2,-1.1 C-2,-2.3 -0.6,-2.4 0,-1.2 C0.6,-2.4 2,-2.3 2.2,-1.1 C2.4,-0.1 1.2,0.8 0,1.7 Z" fill="#9ea1a8"/>
<path transform="translate(174.90,145.60) rotate(45) scale(1.22)" d="M0,1.7 C-1.2,0.8 -2.4,-0.1 -2.2,-1.1 C-2,-2.3 -0.6,-2.4 0,-1.2 C0.6,-2.4 2,-2.3 2.2,-1.1 C2.4,-0.1 1.2,0.8 0,1.7 Z" fill="#9ea1a8"/>
<path transform="translate(165.20,151.00) rotate(45) scale(1.22)" d="M0,1.7 C-1.2,0.8 -2.4,-0.1 -2.2,-1.1 C-2,-2.3 -0.6,-2.4 0,-1.2 C0.6,-2.4 2,-2.3 2.2,-1.1 C2.4,-0.1 1.2,0.8 0,1.7 Z" fill="#9ea1a8"/>
<path transform="translate(172.10,151.00) rotate(45) scale(1.22)" d="M0,1.7 C-1.2,0.8 -2.4,-0.1 -2.2,-1.1 C-2,-2.3 -0.6,-2.4 0,-1.2 C0.6,-2.4 2,-2.3 2.2,-1.1 C2.4,-0.1 1.2,0.8 0,1.7 Z" fill="#9ea1a8"/>
<text transform="translate(241.60,11.30) scale(1.04,1.06)" x="0" y="0" font-family="Liberation Sans" font-size="15.0" font-weight="bold" fill="#000" stroke="#000" stroke-width="0.2">b</text>
<rect x="281.40" y="10.20" width="11.50" height="8.40" fill="#94c0f7" stroke="#111" stroke-width="1.0"/>
<text x="297.90" y="18.40" font-family="Liberation Sans" font-size="9.8" text-anchor="start" fill="#000" stroke="#000" stroke-width="0.2">3&#160;x&#160;10<tspan font-size="6.5" dx="-0.3" dy="-3.4">9</tspan></text>
<rect x="281.40" y="21.40" width="11.50" height="8.40" fill="#1296b2" stroke="#111" stroke-width="1.0"/>
<text x="297.90" y="29.60" font-family="Liberation Sans" font-size="9.8" text-anchor="start" fill="#000" stroke="#000" stroke-width="0.2">7.5&#160;x&#160;10<tspan font-size="6.5" dx="-0.3" dy="-3.4">9</tspan></text>
<line x1="279.30" y1="147.50" x2="279.30" y2="35.50" stroke="#000" stroke-width="1.1"/>
<line x1="275.10" y1="147.00" x2="279.30" y2="147.00" stroke="#000" stroke-width="1.1"/>
<text x="270.90" y="149.30" font-family="Liberation Sans" font-size="9.5" text-anchor="end" fill="#000" stroke="#000" stroke-width="0.2">0</text>
<line x1="275.10" y1="124.80" x2="279.30" y2="124.80" stroke="#000" stroke-width="1.1"/>
<text x="270.90" y="127.44" font-family="Liberation Sans" font-size="9.5" text-anchor="end" fill="#000" stroke="#000" stroke-width="0.2">20</text>
<line x1="275.10" y1="102.60" x2="279.30" y2="102.60" stroke="#000" stroke-width="1.1"/>
<text x="270.90" y="105.58" font-family="Liberation Sans" font-size="9.5" text-anchor="end" fill="#000" stroke="#000" stroke-width="0.2">40</text>
<line x1="275.10" y1="80.40" x2="279.30" y2="80.40" stroke="#000" stroke-width="1.1"/>
<text x="270.90" y="83.72" font-family="Liberation Sans" font-size="9.5" text-anchor="end" fill="#000" stroke="#000" stroke-width="0.2">60</text>
<line x1="275.10" y1="58.20" x2="279.30" y2="58.20" stroke="#000" stroke-width="1.1"/>
<text x="270.90" y="61.86" font-family="Liberation Sans" font-size="9.5" text-anchor="end" fill="#000" stroke="#000" stroke-width="0.2">80</text>
<line x1="275.10" y1="36.00" x2="279.30" y2="36.00" stroke="#000" stroke-width="1.1"/>
<text x="270.90" y="40.00" font-family="Liberation Sans" font-size="9.5" text-anchor="end" fill="#000" stroke="#000" stroke-width="0.2">100</text>
<line x1="279.30" y1="147.00" x2="477.20" y2="147.00" stroke="#000" stroke-width="1.1"/>
<text x="250.40" y="91.60" font-family="Liberation Sans" font-size="9.4" text-anchor="middle" fill="#000" stroke="#000" stroke-width="0.2" transform="rotate(-90 250.40 91.60)">Indel (%)</text>
<line x1="294.00" y1="147.00" x2="294.00" y2="151.20" stroke="#000" stroke-width="1.1"/>
<text x="297.40" y="156.80" font-family="Liberation Sans" font-size="9.1" text-anchor="end" fill="#000" stroke="#000" stroke-width="0.2" transform="rotate(-90 297.40 156.80)">Control</text>
<line x1="327.70" y1="147.00" x2="327.70" y2="151.20" stroke="#000" stroke-width="1.1"/>
<text x="331.10" y="156.80" font-family="Liberation Sans" font-size="9.1" text-anchor="end" fill="#000" stroke="#000" stroke-width="0.2" font-style="italic" transform="rotate(-90 331.10 156.80)">Fgfr3</text>
<line x1="361.60" y1="147.00" x2="361.60" y2="151.20" stroke="#000" stroke-width="1.1"/>
<text x="365.00" y="156.80" font-family="Liberation Sans" font-size="9.1" text-anchor="end" fill="#000" stroke="#000" stroke-width="0.2" font-style="italic" transform="rotate(-90 365.00 156.80)">Kcnq4</text>
<line x1="395.40" y1="147.00" x2="395.40" y2="151.20" stroke="#000" stroke-width="1.1"/>
<text x="398.80" y="156.80" font-family="Liberation Sans" font-size="9.1" text-anchor="end" fill="#000" stroke="#000" stroke-width="0.2" transform="rotate(-90 398.80 156.80)">Control</text>
<line x1="429.00" y1="147.00" x2="429.00" y2="151.20" stroke="#000" stroke-width="1.1"/>
<text x="432.40" y="156.80" font-family="Liberation Sans" font-size="9.1" text-anchor="end" fill="#000" stroke="#000" stroke-width="0.2" font-style="italic" transform="rotate(-90 432.40 156.80)">Fgfr3</text>
<line x1="462.60" y1="147.00" x2="462.60" y2="151.20" stroke="#000" stroke-width="1.1"/>
<text x="466.00" y="156.80" font-family="Liberation Sans" font-size="9.1" text-anchor="end" fill="#000" stroke="#000" stroke-width="0.2" font-style="italic" transform="rotate(-90 466.00 156.80)">Kcnq4</text>
<circle cx="284.75" cy="146.80" r="1.15" fill="#000"/>
<circle cx="286.85" cy="146.80" r="1.15" fill="#000"/>
<circle cx="288.95" cy="146.80" r="1.15" fill="#000"/>
<circle cx="291.05" cy="146.80" r="1.15" fill="#000"/>
<circle cx="297.15" cy="146.80" r="1.15" fill="#000"/>
<circle cx="299.25" cy="146.80" r="1.15" fill="#000"/>
<circle cx="301.35" cy="146.80" r="1.15" fill="#000"/>
<circle cx="303.45" cy="146.80" r="1.15" fill="#000"/>
<circle cx="386.15" cy="146.80" r="1.15" fill="#000"/>
<circle cx="388.25" cy="146.80" r="1.15" fill="#000"/>
<circle cx="390.35" cy="146.80" r="1.15" fill="#000"/>
<circle cx="392.45" cy="146.80" r="1.15" fill="#000"/>
<circle cx="398.55" cy="146.80" r="1.15" fill="#000"/>
<circle cx="400.65" cy="146.80" r="1.15" fill="#000"/>
<circle cx="402.75" cy="146.80" r="1.15" fill="#000"/>
<circle cx="404.85" cy="146.80" r="1.15" fill="#000"/>
<rect x="317.85" y="41.44" width="7.10" height="105.56" fill="#94c0f7" stroke="#000" stroke-width="1.1"/>
<line x1="321.40" y1="42.33" x2="321.40" y2="40.55" stroke="#000" stroke-width="0.9"/>
<line x1="319.20" y1="40.55" x2="323.60" y2="40.55" stroke="#000" stroke-width="0.9"/>
<line x1="319.20" y1="42.33" x2="323.60" y2="42.33" stroke="#000" stroke-width="0.9"/>
<circle cx="319.90" cy="41.00" r="1.15" fill="#000"/>
<circle cx="321.40" cy="42.66" r="1.15" fill="#000"/>
<circle cx="322.90" cy="40.66" r="1.15" fill="#000"/>
<circle cx="321.40" cy="43.22" r="1.15" fill="#000"/>
<rect x="330.45" y="39.55" width="7.10" height="107.45" fill="#1296b2" stroke="#000" stroke-width="1.1"/>
<line x1="334.00" y1="40.11" x2="334.00" y2="39.00" stroke="#000" stroke-width="0.9"/>
<line x1="331.80" y1="39.00" x2="336.20" y2="39.00" stroke="#000" stroke-width="0.9"/>
<line x1="331.80" y1="40.11" x2="336.20" y2="40.11" stroke="#000" stroke-width="0.9"/>
<circle cx="332.50" cy="39.11" r="1.15" fill="#000"/>
<circle cx="334.00" cy="38.78" r="1.15" fill="#000"/>
<circle cx="335.50" cy="39.55" r="1.15" fill="#000"/>
<rect x="351.75" y="85.73" width="7.10" height="61.27" fill="#94c0f7" stroke="#000" stroke-width="1.1"/>
<line x1="355.30" y1="92.94" x2="355.30" y2="78.51" stroke="#000" stroke-width="0.9"/>
<line x1="353.10" y1="78.51" x2="357.50" y2="78.51" stroke="#000" stroke-width="0.9"/>
<line x1="353.10" y1="92.94" x2="357.50" y2="92.94" stroke="#000" stroke-width="0.9"/>
<circle cx="355.30" cy="78.73" r="1.15" fill="#000"/>
<circle cx="353.80" cy="86.50" r="1.15" fill="#000"/>
<circle cx="356.80" cy="85.95" r="1.15" fill="#000"/>
<circle cx="355.30" cy="90.39" r="1.15" fill="#000"/>
<rect x="364.35" y="74.41" width="7.10" height="72.59" fill="#1296b2" stroke="#000" stroke-width="1.1"/>
<line x1="367.90" y1="75.07" x2="367.90" y2="73.74" stroke="#000" stroke-width="0.9"/>
<line x1="365.70" y1="73.74" x2="370.10" y2="73.74" stroke="#000" stroke-width="0.9"/>
<line x1="365.70" y1="75.07" x2="370.10" y2="75.07" stroke="#000" stroke-width="0.9"/>
<circle cx="366.40" cy="74.30" r="1.15" fill="#000"/>
<circle cx="367.90" cy="73.96" r="1.15" fill="#000"/>
<circle cx="369.40" cy="74.63" r="1.15" fill="#000"/>
<rect x="419.15" y="44.33" width="7.10" height="102.67" fill="#94c0f7" stroke="#000" stroke-width="1.1"/>
<line x1="422.70" y1="44.88" x2="422.70" y2="43.77" stroke="#000" stroke-width="0.9"/>
<line x1="420.50" y1="43.77" x2="424.90" y2="43.77" stroke="#000" stroke-width="0.9"/>
<line x1="420.50" y1="44.88" x2="424.90" y2="44.88" stroke="#000" stroke-width="0.9"/>
<circle cx="421.20" cy="43.77" r="1.15" fill="#000"/>
<circle cx="422.70" cy="43.99" r="1.15" fill="#000"/>
<circle cx="424.20" cy="43.55" r="1.15" fill="#000"/>
<rect x="431.75" y="41.11" width="7.10" height="105.89" fill="#1296b2" stroke="#000" stroke-width="1.1"/>
<line x1="435.30" y1="41.55" x2="435.30" y2="40.66" stroke="#000" stroke-width="0.9"/>
<line x1="433.10" y1="40.66" x2="437.50" y2="40.66" stroke="#000" stroke-width="0.9"/>
<line x1="433.10" y1="41.55" x2="437.50" y2="41.55" stroke="#000" stroke-width="0.9"/>
<circle cx="434.10" cy="40.88" r="1.15" fill="#000"/>
<circle cx="436.50" cy="40.77" r="1.15" fill="#000"/>
<rect x="452.75" y="118.14" width="7.10" height="28.86" fill="#94c0f7" stroke="#000" stroke-width="1.1"/>
<line x1="456.30" y1="121.47" x2="456.30" y2="114.81" stroke="#000" stroke-width="0.9"/>
<line x1="454.10" y1="114.81" x2="458.50" y2="114.81" stroke="#000" stroke-width="0.9"/>
<line x1="454.10" y1="121.47" x2="458.50" y2="121.47" stroke="#000" stroke-width="0.9"/>
<circle cx="454.80" cy="115.36" r="1.15" fill="#000"/>
<circle cx="457.80" cy="115.36" r="1.15" fill="#000"/>
<circle cx="456.30" cy="121.47" r="1.15" fill="#000"/>
<circle cx="456.30" cy="118.69" r="1.15" fill="#000"/>
<rect x="465.35" y="98.05" width="7.10" height="48.95" fill="#1296b2" stroke="#000" stroke-width="1.1"/>
<line x1="468.90" y1="100.05" x2="468.90" y2="96.05" stroke="#000" stroke-width="0.9"/>
<line x1="466.70" y1="96.05" x2="471.10" y2="96.05" stroke="#000" stroke-width="0.9"/>
<line x1="466.70" y1="100.05" x2="471.10" y2="100.05" stroke="#000" stroke-width="0.9"/>
<circle cx="467.40" cy="95.94" r="1.15" fill="#000"/>
<circle cx="470.40" cy="95.94" r="1.15" fill="#000"/>
<circle cx="468.90" cy="99.49" r="1.15" fill="#000"/>
<line x1="287.30" y1="190.50" x2="368.10" y2="190.50" stroke="#000" stroke-width="1.0"/>
<line x1="389.30" y1="190.50" x2="469.90" y2="190.50" stroke="#000" stroke-width="1.0"/>
<text x="327.70" y="202.80" font-family="Liberation Sans" font-size="9.4" text-anchor="middle" fill="#000" stroke="#000" stroke-width="0.2">Combi</text>
<text x="429.60" y="202.80" font-family="Liberation Sans" font-size="9.4" text-anchor="middle" fill="#000" stroke="#000" stroke-width="0.2">Double</text>
<text transform="translate(527.60,9.80) scale(1.04,1.06)" x="0" y="0" font-family="Liberation Sans" font-size="15.0" font-weight="bold" fill="#000" stroke="#000" stroke-width="0.2">c</text>
<rect x="567.70" y="9.20" width="11.50" height="8.40" fill="#94c0f7" stroke="#111" stroke-width="1.0"/>
<text x="583.80" y="17.40" font-family="Liberation Sans" font-size="9.8" text-anchor="start" fill="#000" stroke="#000" stroke-width="0.2">3&#160;x&#160;10<tspan font-size="6.5" dx="-0.3" dy="-3.4">9</tspan></text>
<rect x="567.70" y="20.80" width="11.50" height="8.40" fill="#1296b2" stroke="#111" stroke-width="1.0"/>
<text x="583.80" y="29.00" font-family="Liberation Sans" font-size="9.8" text-anchor="start" fill="#000" stroke="#000" stroke-width="0.2">7.5&#160;x&#160;10<tspan font-size="6.5" dx="-0.3" dy="-3.4">9</tspan></text>
<line x1="567.20" y1="146.90" x2="567.20" y2="34.90" stroke="#000" stroke-width="1.1"/>
<line x1="563.00" y1="146.40" x2="567.20" y2="146.40" stroke="#000" stroke-width="1.1"/>
<text x="558.70" y="146.00" font-family="Liberation Sans" font-size="9.5" text-anchor="end" fill="#000" stroke="#000" stroke-width="0.2">0</text>
<line x1="563.00" y1="124.20" x2="567.20" y2="124.20" stroke="#000" stroke-width="1.1"/>
<text x="558.70" y="124.16" font-family="Liberation Sans" font-size="9.5" text-anchor="end" fill="#000" stroke="#000" stroke-width="0.2">20</text>
<line x1="563.00" y1="102.00" x2="567.20" y2="102.00" stroke="#000" stroke-width="1.1"/>
<text x="558.70" y="102.32" font-family="Liberation Sans" font-size="9.5" text-anchor="end" fill="#000" stroke="#000" stroke-width="0.2">40</text>
<line x1="563.00" y1="79.80" x2="567.20" y2="79.80" stroke="#000" stroke-width="1.1"/>
<text x="558.70" y="80.48" font-family="Liberation Sans" font-size="9.5" text-anchor="end" fill="#000" stroke="#000" stroke-width="0.2">60</text>
<line x1="563.00" y1="57.60" x2="567.20" y2="57.60" stroke="#000" stroke-width="1.1"/>
<text x="558.70" y="58.64" font-family="Liberation Sans" font-size="9.5" text-anchor="end" fill="#000" stroke="#000" stroke-width="0.2">80</text>
<line x1="563.00" y1="35.40" x2="567.20" y2="35.40" stroke="#000" stroke-width="1.1"/>
<text x="558.70" y="36.80" font-family="Liberation Sans" font-size="9.5" text-anchor="end" fill="#000" stroke="#000" stroke-width="0.2">100</text>
<line x1="567.20" y1="146.40" x2="676.80" y2="146.40" stroke="#000" stroke-width="1.1"/>
<text x="534.40" y="89.40" font-family="Liberation Sans" font-size="9.4" text-anchor="middle" fill="#000" stroke="#000" stroke-width="0.2" transform="rotate(-90 534.40 89.40)">Triple_Indel (%)</text>
<line x1="579.10" y1="146.40" x2="579.10" y2="150.60" stroke="#000" stroke-width="1.1"/>
<text x="582.50" y="156.00" font-family="Liberation Sans" font-size="9.1" text-anchor="end" fill="#000" stroke="#000" stroke-width="0.2" transform="rotate(-90 582.50 156.00)">Control</text>
<line x1="607.60" y1="146.40" x2="607.60" y2="150.60" stroke="#000" stroke-width="1.1"/>
<text x="611.00" y="156.00" font-family="Liberation Sans" font-size="9.1" text-anchor="end" fill="#000" stroke="#000" stroke-width="0.2" font-style="italic" transform="rotate(-90 611.00 156.00)">Fgfr3</text>
<line x1="635.70" y1="146.40" x2="635.70" y2="150.60" stroke="#000" stroke-width="1.1"/>
<text x="639.10" y="156.00" font-family="Liberation Sans" font-size="9.1" text-anchor="end" fill="#000" stroke="#000" stroke-width="0.2" font-style="italic" transform="rotate(-90 639.10 156.00)">Kcnq4</text>
<line x1="664.10" y1="146.40" x2="664.10" y2="150.60" stroke="#000" stroke-width="1.1"/>
<text x="667.50" y="156.00" font-family="Liberation Sans" font-size="9.1" text-anchor="end" fill="#000" stroke="#000" stroke-width="0.2" font-style="italic" transform="rotate(-90 667.50 156.00)">Gata3</text>
<circle cx="571.90" cy="146.20" r="1.15" fill="#000"/>
<circle cx="573.80" cy="146.20" r="1.15" fill="#000"/>
<circle cx="575.70" cy="146.20" r="1.15" fill="#000"/>
<circle cx="582.70" cy="146.20" r="1.15" fill="#000"/>
<circle cx="584.60" cy="146.20" r="1.15" fill="#000"/>
<circle cx="586.50" cy="146.20" r="1.15" fill="#000"/>
<rect x="599.35" y="53.27" width="5.70" height="93.13" fill="#94c0f7" stroke="#000" stroke-width="1.1"/>
<line x1="602.20" y1="59.38" x2="602.20" y2="47.17" stroke="#000" stroke-width="0.9"/>
<line x1="600.00" y1="47.17" x2="604.40" y2="47.17" stroke="#000" stroke-width="0.9"/>
<line x1="600.00" y1="59.38" x2="604.40" y2="59.38" stroke="#000" stroke-width="0.9"/>
<circle cx="601.00" cy="47.39" r="1.15" fill="#000"/>
<circle cx="603.40" cy="47.06" r="1.15" fill="#000"/>
<circle cx="602.20" cy="56.49" r="1.15" fill="#000"/>
<circle cx="602.20" cy="58.71" r="1.15" fill="#000"/>
<rect x="610.15" y="44.28" width="5.70" height="102.12" fill="#1296b2" stroke="#000" stroke-width="1.1"/>
<line x1="613.00" y1="45.39" x2="613.00" y2="43.17" stroke="#000" stroke-width="0.9"/>
<line x1="610.80" y1="43.17" x2="615.20" y2="43.17" stroke="#000" stroke-width="0.9"/>
<line x1="610.80" y1="45.39" x2="615.20" y2="45.39" stroke="#000" stroke-width="0.9"/>
<circle cx="611.80" cy="43.39" r="1.15" fill="#000"/>
<circle cx="614.20" cy="43.95" r="1.15" fill="#000"/>
<circle cx="613.00" cy="42.62" r="1.15" fill="#000"/>
<rect x="627.45" y="120.43" width="5.70" height="25.97" fill="#94c0f7" stroke="#000" stroke-width="1.1"/>
<line x1="630.30" y1="129.31" x2="630.30" y2="111.55" stroke="#000" stroke-width="0.9"/>
<line x1="628.10" y1="111.55" x2="632.50" y2="111.55" stroke="#000" stroke-width="0.9"/>
<line x1="628.10" y1="129.31" x2="632.50" y2="129.31" stroke="#000" stroke-width="0.9"/>
<circle cx="629.10" cy="111.66" r="1.15" fill="#000"/>
<circle cx="631.50" cy="111.66" r="1.15" fill="#000"/>
<circle cx="630.30" cy="125.31" r="1.15" fill="#000"/>
<circle cx="629.30" cy="129.75" r="1.15" fill="#000"/>
<rect x="638.25" y="107.88" width="5.70" height="38.52" fill="#1296b2" stroke="#000" stroke-width="1.1"/>
<line x1="641.10" y1="108.99" x2="641.10" y2="106.77" stroke="#000" stroke-width="0.9"/>
<line x1="638.90" y1="106.77" x2="643.30" y2="106.77" stroke="#000" stroke-width="0.9"/>
<line x1="638.90" y1="108.99" x2="643.30" y2="108.99" stroke="#000" stroke-width="0.9"/>
<circle cx="639.90" cy="107.00" r="1.15" fill="#000"/>
<circle cx="642.30" cy="107.33" r="1.15" fill="#000"/>
<circle cx="641.10" cy="106.44" r="1.15" fill="#000"/>
<rect x="655.85" y="35.84" width="5.70" height="110.56" fill="#94c0f7" stroke="#000" stroke-width="1.1"/>
<circle cx="657.50" cy="35.62" r="1.15" fill="#000"/>
<circle cx="659.90" cy="35.62" r="1.15" fill="#000"/>
<rect x="666.65" y="35.84" width="5.70" height="110.56" fill="#1296b2" stroke="#000" stroke-width="1.1"/>
<circle cx="668.30" cy="35.62" r="1.15" fill="#000"/>
<circle cx="670.70" cy="35.62" r="1.15" fill="#000"/>
<text transform="translate(1.00,234.50) scale(1.04,1.06)" x="0" y="0" font-family="Liberation Sans" font-size="15.0" font-weight="bold" fill="#000" stroke="#000" stroke-width="0.2">d</text>
<rect x="52.60" y="232.40" width="11.50" height="8.40" fill="#fb9fa1" stroke="#111" stroke-width="1.0"/>
<text x="68.70" y="240.60" font-family="Liberation Sans" font-size="9.8" text-anchor="start" fill="#000" stroke="#000" stroke-width="0.2">3&#160;x&#160;10<tspan font-size="6.5" dx="-0.3" dy="-3.4">9</tspan></text>
<rect x="52.60" y="243.80" width="11.50" height="8.40" fill="#f83e40" stroke="#111" stroke-width="1.0"/>
<text x="68.70" y="252.00" font-family="Liberation Sans" font-size="9.8" text-anchor="start" fill="#000" stroke="#000" stroke-width="0.2">7.5&#160;x&#160;10<tspan font-size="6.5" dx="-0.3" dy="-3.4">9</tspan></text>
<line x1="51.90" y1="366.40" x2="51.90" y2="254.80" stroke="#000" stroke-width="1.1"/>
<line x1="47.70" y1="365.90" x2="51.90" y2="365.90" stroke="#000" stroke-width="1.1"/>
<text x="42.30" y="370.10" font-family="Liberation Sans" font-size="9.5" text-anchor="end" fill="#000" stroke="#000" stroke-width="0.2">0</text>
<line x1="47.70" y1="343.78" x2="51.90" y2="343.78" stroke="#000" stroke-width="1.1"/>
<text x="42.30" y="348.03" font-family="Liberation Sans" font-size="9.5" text-anchor="end" fill="#000" stroke="#000" stroke-width="0.2">20</text>
<line x1="47.70" y1="321.66" x2="51.90" y2="321.66" stroke="#000" stroke-width="1.1"/>
<text x="42.30" y="325.96" font-family="Liberation Sans" font-size="9.5" text-anchor="end" fill="#000" stroke="#000" stroke-width="0.2">40</text>
<line x1="47.70" y1="299.54" x2="51.90" y2="299.54" stroke="#000" stroke-width="1.1"/>
<text x="42.30" y="303.89" font-family="Liberation Sans" font-size="9.5" text-anchor="end" fill="#000" stroke="#000" stroke-width="0.2">60</text>
<line x1="47.70" y1="277.42" x2="51.90" y2="277.42" stroke="#000" stroke-width="1.1"/>
<text x="42.30" y="281.82" font-family="Liberation Sans" font-size="9.5" text-anchor="end" fill="#000" stroke="#000" stroke-width="0.2">80</text>
<line x1="47.70" y1="255.30" x2="51.90" y2="255.30" stroke="#000" stroke-width="1.1"/>
<text x="42.30" y="259.75" font-family="Liberation Sans" font-size="9.5" text-anchor="end" fill="#000" stroke="#000" stroke-width="0.2">100</text>
<line x1="51.90" y1="365.90" x2="249.00" y2="365.90" stroke="#000" stroke-width="1.1"/>
<text x="23.40" y="313.80" font-family="Liberation Sans" font-size="9.4" text-anchor="middle" fill="#000" stroke="#000" stroke-width="0.2" transform="rotate(-90 23.40 313.80)">A-to-G conversion (%)</text>
<line x1="66.20" y1="365.90" x2="66.20" y2="370.10" stroke="#000" stroke-width="1.1"/>
<text x="69.60" y="376.20" font-family="Liberation Sans" font-size="9.1" text-anchor="end" fill="#000" stroke="#000" stroke-width="0.2" transform="rotate(-90 69.60 376.20)">Control</text>
<line x1="99.80" y1="365.90" x2="99.80" y2="370.10" stroke="#000" stroke-width="1.1"/>
<text x="103.20" y="376.20" font-family="Liberation Sans" font-size="9.1" text-anchor="end" fill="#000" stroke="#000" stroke-width="0.2" font-style="italic" transform="rotate(-90 103.20 376.20)">Gata3</text>
<line x1="133.30" y1="365.90" x2="133.30" y2="370.10" stroke="#000" stroke-width="1.1"/>
<text x="136.70" y="376.20" font-family="Liberation Sans" font-size="9.1" text-anchor="end" fill="#000" stroke="#000" stroke-width="0.2" font-style="italic" transform="rotate(-90 136.70 376.20)">Kcnq4</text>
<line x1="166.60" y1="365.90" x2="166.60" y2="370.10" stroke="#000" stroke-width="1.1"/>
<text x="170.00" y="376.20" font-family="Liberation Sans" font-size="9.1" text-anchor="end" fill="#000" stroke="#000" stroke-width="0.2" transform="rotate(-90 170.00 376.20)">Control</text>
<line x1="200.40" y1="365.90" x2="200.40" y2="370.10" stroke="#000" stroke-width="1.1"/>
<text x="203.80" y="376.20" font-family="Liberation Sans" font-size="9.1" text-anchor="end" fill="#000" stroke="#000" stroke-width="0.2" font-style="italic" transform="rotate(-90 203.80 376.20)">Gata3</text>
<line x1="233.90" y1="365.90" x2="233.90" y2="370.10" stroke="#000" stroke-width="1.1"/>
<text x="237.30" y="376.20" font-family="Liberation Sans" font-size="9.1" text-anchor="end" fill="#000" stroke="#000" stroke-width="0.2" font-style="italic" transform="rotate(-90 237.30 376.20)">Kcnq4</text>
<circle cx="56.95" cy="365.70" r="1.15" fill="#000"/>
<circle cx="59.05" cy="365.70" r="1.15" fill="#000"/>
<circle cx="61.15" cy="365.70" r="1.15" fill="#000"/>
<circle cx="63.25" cy="365.70" r="1.15" fill="#000"/>
<circle cx="69.35" cy="365.70" r="1.15" fill="#000"/>
<circle cx="71.45" cy="365.70" r="1.15" fill="#000"/>
<circle cx="73.55" cy="365.70" r="1.15" fill="#000"/>
<circle cx="75.65" cy="365.70" r="1.15" fill="#000"/>
<circle cx="157.35" cy="365.70" r="1.15" fill="#000"/>
<circle cx="159.45" cy="365.70" r="1.15" fill="#000"/>
<circle cx="161.55" cy="365.70" r="1.15" fill="#000"/>
<circle cx="163.65" cy="365.70" r="1.15" fill="#000"/>
<circle cx="169.75" cy="365.70" r="1.15" fill="#000"/>
<circle cx="171.85" cy="365.70" r="1.15" fill="#000"/>
<circle cx="173.95" cy="365.70" r="1.15" fill="#000"/>
<circle cx="176.05" cy="365.70" r="1.15" fill="#000"/>
<rect x="89.95" y="276.65" width="7.10" height="89.25" fill="#fb9fa1" stroke="#000" stroke-width="1.1"/>
<line x1="93.50" y1="278.30" x2="93.50" y2="274.99" stroke="#000" stroke-width="0.9"/>
<line x1="91.30" y1="274.99" x2="95.70" y2="274.99" stroke="#000" stroke-width="0.9"/>
<line x1="91.30" y1="278.30" x2="95.70" y2="278.30" stroke="#000" stroke-width="0.9"/>
<circle cx="91.70" cy="275.21" r="1.15" fill="#000"/>
<circle cx="93.50" cy="276.31" r="1.15" fill="#000"/>
<circle cx="95.30" cy="275.76" r="1.15" fill="#000"/>
<circle cx="91.70" cy="277.97" r="1.15" fill="#000"/>
<rect x="102.55" y="274.43" width="7.10" height="91.47" fill="#fe0000" stroke="#000" stroke-width="1.1"/>
<line x1="106.10" y1="275.87" x2="106.10" y2="273.00" stroke="#000" stroke-width="0.9"/>
<line x1="103.90" y1="273.00" x2="108.30" y2="273.00" stroke="#000" stroke-width="0.9"/>
<line x1="103.90" y1="275.87" x2="108.30" y2="275.87" stroke="#000" stroke-width="0.9"/>
<circle cx="104.60" cy="272.44" r="1.15" fill="#000"/>
<circle cx="106.10" cy="273.00" r="1.15" fill="#000"/>
<circle cx="107.60" cy="272.11" r="1.15" fill="#000"/>
<circle cx="106.10" cy="274.66" r="1.15" fill="#000"/>
<rect x="123.45" y="352.63" width="7.10" height="13.27" fill="#fb9fa1" stroke="#000" stroke-width="1.1"/>
<line x1="127.00" y1="365.90" x2="127.00" y2="339.36" stroke="#000" stroke-width="0.9"/>
<line x1="124.80" y1="339.36" x2="129.20" y2="339.36" stroke="#000" stroke-width="0.9"/>
<circle cx="127.00" cy="338.80" r="1.15" fill="#000"/>
<circle cx="127.00" cy="344.89" r="1.15" fill="#000"/>
<circle cx="127.00" cy="360.37" r="1.15" fill="#000"/>
<circle cx="127.00" cy="364.79" r="1.15" fill="#000"/>
<rect x="136.05" y="338.80" width="7.10" height="27.10" fill="#fe0000" stroke="#000" stroke-width="1.1"/>
<line x1="139.60" y1="343.23" x2="139.60" y2="334.38" stroke="#000" stroke-width="0.9"/>
<line x1="137.40" y1="334.38" x2="141.80" y2="334.38" stroke="#000" stroke-width="0.9"/>
<line x1="137.40" y1="343.23" x2="141.80" y2="343.23" stroke="#000" stroke-width="0.9"/>
<circle cx="138.10" cy="334.38" r="1.15" fill="#000"/>
<circle cx="141.10" cy="333.83" r="1.15" fill="#000"/>
<circle cx="139.60" cy="340.46" r="1.15" fill="#000"/>
<circle cx="139.60" cy="342.67" r="1.15" fill="#000"/>
<rect x="190.55" y="282.95" width="7.10" height="82.95" fill="#fb9fa1" stroke="#000" stroke-width="1.1"/>
<line x1="194.10" y1="285.16" x2="194.10" y2="280.74" stroke="#000" stroke-width="0.9"/>
<line x1="191.90" y1="280.74" x2="196.30" y2="280.74" stroke="#000" stroke-width="0.9"/>
<line x1="191.90" y1="285.16" x2="196.30" y2="285.16" stroke="#000" stroke-width="0.9"/>
<circle cx="192.30" cy="281.29" r="1.15" fill="#000"/>
<circle cx="194.10" cy="280.96" r="1.15" fill="#000"/>
<circle cx="195.90" cy="280.74" r="1.15" fill="#000"/>
<circle cx="194.10" cy="284.06" r="1.15" fill="#000"/>
<rect x="203.15" y="268.02" width="7.10" height="97.88" fill="#fe0000" stroke="#000" stroke-width="1.1"/>
<line x1="206.70" y1="272.44" x2="206.70" y2="263.60" stroke="#000" stroke-width="0.9"/>
<line x1="204.50" y1="263.60" x2="208.90" y2="263.60" stroke="#000" stroke-width="0.9"/>
<line x1="204.50" y1="272.44" x2="208.90" y2="272.44" stroke="#000" stroke-width="0.9"/>
<circle cx="205.20" cy="263.60" r="1.15" fill="#000"/>
<circle cx="208.20" cy="263.26" r="1.15" fill="#000"/>
<circle cx="206.70" cy="270.78" r="1.15" fill="#000"/>
<circle cx="206.70" cy="268.57" r="1.15" fill="#000"/>
<rect x="224.05" y="350.97" width="7.10" height="14.93" fill="#fb9fa1" stroke="#000" stroke-width="1.1"/>
<line x1="227.60" y1="363.13" x2="227.60" y2="338.80" stroke="#000" stroke-width="0.9"/>
<line x1="225.40" y1="338.80" x2="229.80" y2="338.80" stroke="#000" stroke-width="0.9"/>
<line x1="225.40" y1="363.13" x2="229.80" y2="363.13" stroke="#000" stroke-width="0.9"/>
<circle cx="227.60" cy="338.80" r="1.15" fill="#000"/>
<circle cx="227.60" cy="345.99" r="1.15" fill="#000"/>
<circle cx="227.60" cy="359.26" r="1.15" fill="#000"/>
<circle cx="227.60" cy="362.58" r="1.15" fill="#000"/>
<rect x="236.65" y="349.86" width="7.10" height="16.04" fill="#fe0000" stroke="#000" stroke-width="1.1"/>
<line x1="240.20" y1="358.16" x2="240.20" y2="341.57" stroke="#000" stroke-width="0.9"/>
<line x1="238.00" y1="341.57" x2="242.40" y2="341.57" stroke="#000" stroke-width="0.9"/>
<line x1="238.00" y1="358.16" x2="242.40" y2="358.16" stroke="#000" stroke-width="0.9"/>
<circle cx="240.20" cy="341.57" r="1.15" fill="#000"/>
<circle cx="240.20" cy="346.54" r="1.15" fill="#000"/>
<circle cx="240.20" cy="352.63" r="1.15" fill="#000"/>
<circle cx="240.20" cy="355.95" r="1.15" fill="#000"/>
<line x1="60.50" y1="408.80" x2="141.20" y2="408.80" stroke="#666" stroke-width="1.5"/>
<line x1="161.70" y1="408.90" x2="242.00" y2="408.90" stroke="#666" stroke-width="1.5"/>
<text x="101.20" y="421.30" font-family="Liberation Sans" font-size="9.4" text-anchor="middle" fill="#000" stroke="#000" stroke-width="0.2">Combi</text>
<text x="201.90" y="421.30" font-family="Liberation Sans" font-size="9.4" text-anchor="middle" fill="#000" stroke="#000" stroke-width="0.2">Double</text>
<text transform="translate(271.80,235.00) scale(1.04,1.06)" x="0" y="0" font-family="Liberation Sans" font-size="15.0" font-weight="bold" fill="#000" stroke="#000" stroke-width="0.2">e</text>
<rect x="320.80" y="232.40" width="11.50" height="8.40" fill="#fca0a6" stroke="#111" stroke-width="1.0"/>
<text x="336.70" y="240.60" font-family="Liberation Sans" font-size="9.8" text-anchor="start" fill="#000" stroke="#000" stroke-width="0.2">3&#160;x&#160;10<tspan font-size="6.5" dx="-0.3" dy="-3.4">9</tspan></text>
<rect x="320.80" y="243.80" width="11.50" height="8.40" fill="#f83e40" stroke="#111" stroke-width="1.0"/>
<text x="336.70" y="252.00" font-family="Liberation Sans" font-size="9.8" text-anchor="start" fill="#000" stroke="#000" stroke-width="0.2">7.5&#160;x&#160;10<tspan font-size="6.5" dx="-0.3" dy="-3.4">9</tspan></text>
<line x1="319.50" y1="366.70" x2="319.50" y2="254.80" stroke="#000" stroke-width="1.1"/>
<line x1="315.30" y1="366.20" x2="319.50" y2="366.20" stroke="#000" stroke-width="1.1"/>
<text x="311.30" y="369.50" font-family="Liberation Sans" font-size="9.5" text-anchor="end" fill="#000" stroke="#000" stroke-width="0.2">0</text>
<line x1="315.30" y1="344.02" x2="319.50" y2="344.02" stroke="#000" stroke-width="1.1"/>
<text x="311.30" y="347.34" font-family="Liberation Sans" font-size="9.5" text-anchor="end" fill="#000" stroke="#000" stroke-width="0.2">20</text>
<line x1="315.30" y1="321.84" x2="319.50" y2="321.84" stroke="#000" stroke-width="1.1"/>
<text x="311.30" y="325.18" font-family="Liberation Sans" font-size="9.5" text-anchor="end" fill="#000" stroke="#000" stroke-width="0.2">40</text>
<line x1="315.30" y1="299.66" x2="319.50" y2="299.66" stroke="#000" stroke-width="1.1"/>
<text x="311.30" y="303.02" font-family="Liberation Sans" font-size="9.5" text-anchor="end" fill="#000" stroke="#000" stroke-width="0.2">60</text>
<line x1="315.30" y1="277.48" x2="319.50" y2="277.48" stroke="#000" stroke-width="1.1"/>
<text x="311.30" y="280.86" font-family="Liberation Sans" font-size="9.5" text-anchor="end" fill="#000" stroke="#000" stroke-width="0.2">80</text>
<line x1="315.30" y1="255.30" x2="319.50" y2="255.30" stroke="#000" stroke-width="1.1"/>
<text x="311.30" y="258.70" font-family="Liberation Sans" font-size="9.5" text-anchor="end" fill="#000" stroke="#000" stroke-width="0.2">100</text>
<line x1="319.50" y1="366.20" x2="429.80" y2="366.20" stroke="#000" stroke-width="1.1"/>
<text x="283.30" y="315.80" font-family="Liberation Sans" font-size="9.4" text-anchor="middle" fill="#000" stroke="#000" stroke-width="0.2" transform="rotate(-90 283.30 315.80)">Triple</text>
<text x="294.60" y="315.00" font-family="Liberation Sans" font-size="9.4" text-anchor="middle" fill="#000" stroke="#000" stroke-width="0.2" transform="rotate(-90 294.60 315.00)">A-to-G conversion (%)</text>
<line x1="331.60" y1="366.20" x2="331.60" y2="370.40" stroke="#000" stroke-width="1.1"/>
<text x="335.00" y="376.00" font-family="Liberation Sans" font-size="9.1" text-anchor="end" fill="#000" stroke="#000" stroke-width="0.2" transform="rotate(-90 335.00 376.00)">Control</text>
<line x1="360.20" y1="366.20" x2="360.20" y2="370.40" stroke="#000" stroke-width="1.1"/>
<text x="363.60" y="376.00" font-family="Liberation Sans" font-size="9.1" text-anchor="end" fill="#000" stroke="#000" stroke-width="0.2" font-style="italic" transform="rotate(-90 363.60 376.00)">Gata3</text>
<line x1="388.60" y1="366.20" x2="388.60" y2="370.40" stroke="#000" stroke-width="1.1"/>
<text x="392.00" y="376.00" font-family="Liberation Sans" font-size="9.1" text-anchor="end" fill="#000" stroke="#000" stroke-width="0.2" font-style="italic" transform="rotate(-90 392.00 376.00)">Kcnq4</text>
<line x1="416.80" y1="366.20" x2="416.80" y2="370.40" stroke="#000" stroke-width="1.1"/>
<text x="420.20" y="376.00" font-family="Liberation Sans" font-size="9.1" text-anchor="end" fill="#000" stroke="#000" stroke-width="0.2" font-style="italic" transform="rotate(-90 420.20 376.00)">Tyr-Ex4</text>
<circle cx="324.40" cy="366.00" r="1.15" fill="#000"/>
<circle cx="326.30" cy="366.00" r="1.15" fill="#000"/>
<circle cx="328.20" cy="366.00" r="1.15" fill="#000"/>
<circle cx="335.20" cy="366.00" r="1.15" fill="#000"/>
<circle cx="337.10" cy="366.00" r="1.15" fill="#000"/>
<circle cx="339.00" cy="366.00" r="1.15" fill="#000"/>
<rect x="351.85" y="280.81" width="5.90" height="85.39" fill="#fca0a6" stroke="#000" stroke-width="1.1"/>
<line x1="354.80" y1="282.47" x2="354.80" y2="279.14" stroke="#000" stroke-width="0.9"/>
<line x1="352.60" y1="279.14" x2="357.00" y2="279.14" stroke="#000" stroke-width="0.9"/>
<line x1="352.60" y1="282.47" x2="357.00" y2="282.47" stroke="#000" stroke-width="0.9"/>
<circle cx="353.60" cy="280.25" r="1.15" fill="#000"/>
<circle cx="356.00" cy="279.48" r="1.15" fill="#000"/>
<circle cx="354.80" cy="281.36" r="1.15" fill="#000"/>
<circle cx="356.30" cy="278.03" r="1.15" fill="#000"/>
<rect x="362.65" y="277.26" width="5.90" height="88.94" fill="#f83e40" stroke="#000" stroke-width="1.1"/>
<line x1="365.60" y1="278.37" x2="365.60" y2="276.15" stroke="#000" stroke-width="0.9"/>
<line x1="363.40" y1="276.15" x2="367.80" y2="276.15" stroke="#000" stroke-width="0.9"/>
<line x1="363.40" y1="278.37" x2="367.80" y2="278.37" stroke="#000" stroke-width="0.9"/>
<circle cx="364.40" cy="276.37" r="1.15" fill="#000"/>
<circle cx="366.80" cy="276.15" r="1.15" fill="#000"/>
<circle cx="365.60" cy="276.93" r="1.15" fill="#000"/>
<rect x="380.25" y="355.89" width="5.90" height="10.31" fill="#fca0a6" stroke="#000" stroke-width="1.1"/>
<line x1="383.20" y1="364.76" x2="383.20" y2="347.01" stroke="#000" stroke-width="0.9"/>
<line x1="381.00" y1="347.01" x2="385.40" y2="347.01" stroke="#000" stroke-width="0.9"/>
<line x1="381.00" y1="364.76" x2="385.40" y2="364.76" stroke="#000" stroke-width="0.9"/>
<circle cx="382.00" cy="347.35" r="1.15" fill="#000"/>
<circle cx="384.40" cy="347.90" r="1.15" fill="#000"/>
<circle cx="383.20" cy="361.76" r="1.15" fill="#000"/>
<circle cx="383.20" cy="363.98" r="1.15" fill="#000"/>
<rect x="391.05" y="350.12" width="5.90" height="16.08" fill="#f83e40" stroke="#000" stroke-width="1.1"/>
<line x1="394.00" y1="355.66" x2="394.00" y2="344.57" stroke="#000" stroke-width="0.9"/>
<line x1="391.80" y1="344.57" x2="396.20" y2="344.57" stroke="#000" stroke-width="0.9"/>
<line x1="391.80" y1="355.66" x2="396.20" y2="355.66" stroke="#000" stroke-width="0.9"/>
<circle cx="394.00" cy="344.02" r="1.15" fill="#000"/>
<circle cx="394.00" cy="349.56" r="1.15" fill="#000"/>
<circle cx="394.00" cy="352.89" r="1.15" fill="#000"/>
<circle cx="394.00" cy="354.00" r="1.15" fill="#000"/>
<rect x="408.45" y="345.91" width="5.90" height="20.29" fill="#fca0a6" stroke="#000" stroke-width="1.1"/>
<line x1="411.40" y1="346.57" x2="411.40" y2="345.24" stroke="#000" stroke-width="0.9"/>
<line x1="409.20" y1="345.24" x2="413.60" y2="345.24" stroke="#000" stroke-width="0.9"/>
<line x1="409.20" y1="346.57" x2="413.60" y2="346.57" stroke="#000" stroke-width="0.9"/>
<circle cx="410.20" cy="345.57" r="1.15" fill="#000"/>
<circle cx="412.60" cy="345.57" r="1.15" fill="#000"/>
<rect x="419.25" y="345.68" width="5.90" height="20.52" fill="#f83e40" stroke="#000" stroke-width="1.1"/>
<line x1="422.20" y1="346.57" x2="422.20" y2="344.80" stroke="#000" stroke-width="0.9"/>
<line x1="420.00" y1="344.80" x2="424.40" y2="344.80" stroke="#000" stroke-width="0.9"/>
<line x1="420.00" y1="346.57" x2="424.40" y2="346.57" stroke="#000" stroke-width="0.9"/>
<circle cx="421.00" cy="345.35" r="1.15" fill="#000"/>
<circle cx="423.40" cy="345.13" r="1.15" fill="#000"/>
<text transform="translate(465.00,235.00) scale(1.04,1.06)" x="0" y="0" font-family="Liberation Sans" font-size="15.0" font-weight="bold" fill="#000" stroke="#000" stroke-width="0.2">f</text>
<rect x="512.00" y="233.00" width="11.50" height="8.40" fill="#00c800" stroke="#111" stroke-width="1.0"/>
<text x="528.40" y="241.20" font-family="Liberation Sans" font-size="9.8" text-anchor="start" fill="#000" stroke="#000" stroke-width="0.2">3&#160;x&#160;10<tspan font-size="6.5" dx="-0.3" dy="-3.4">9</tspan></text>
<rect x="512.00" y="244.50" width="11.50" height="8.40" fill="#005200" stroke="#111" stroke-width="1.0"/>
<text x="528.40" y="252.70" font-family="Liberation Sans" font-size="9.8" text-anchor="start" fill="#000" stroke="#000" stroke-width="0.2">7.5&#160;x&#160;10<tspan font-size="6.5" dx="-0.3" dy="-3.4">9</tspan></text>
<line x1="509.10" y1="365.90" x2="509.10" y2="254.30" stroke="#000" stroke-width="1.1"/>
<line x1="504.90" y1="365.40" x2="509.10" y2="365.40" stroke="#000" stroke-width="1.1"/>
<text x="500.30" y="368.80" font-family="Liberation Sans" font-size="9.5" text-anchor="end" fill="#000" stroke="#000" stroke-width="0.2">0</text>
<line x1="504.90" y1="343.28" x2="509.10" y2="343.28" stroke="#000" stroke-width="1.1"/>
<text x="500.30" y="346.78" font-family="Liberation Sans" font-size="9.5" text-anchor="end" fill="#000" stroke="#000" stroke-width="0.2">20</text>
<line x1="504.90" y1="321.16" x2="509.10" y2="321.16" stroke="#000" stroke-width="1.1"/>
<text x="500.30" y="324.76" font-family="Liberation Sans" font-size="9.5" text-anchor="end" fill="#000" stroke="#000" stroke-width="0.2">40</text>
<line x1="504.90" y1="299.04" x2="509.10" y2="299.04" stroke="#000" stroke-width="1.1"/>
<text x="500.30" y="302.74" font-family="Liberation Sans" font-size="9.5" text-anchor="end" fill="#000" stroke="#000" stroke-width="0.2">60</text>
<line x1="504.90" y1="276.92" x2="509.10" y2="276.92" stroke="#000" stroke-width="1.1"/>
<text x="500.30" y="280.72" font-family="Liberation Sans" font-size="9.5" text-anchor="end" fill="#000" stroke="#000" stroke-width="0.2">80</text>
<line x1="504.90" y1="254.80" x2="509.10" y2="254.80" stroke="#000" stroke-width="1.1"/>
<text x="500.30" y="258.70" font-family="Liberation Sans" font-size="9.5" text-anchor="end" fill="#000" stroke="#000" stroke-width="0.2">100</text>
<line x1="509.10" y1="365.40" x2="676.00" y2="365.40" stroke="#000" stroke-width="1.1"/>
<text x="479.20" y="314.70" font-family="Liberation Sans" font-size="9.4" text-anchor="middle" fill="#000" stroke="#000" stroke-width="0.2" transform="rotate(-90 479.20 314.70)">Desired edit (%)</text>
<line x1="527.50" y1="365.40" x2="527.50" y2="369.60" stroke="#000" stroke-width="1.1"/>
<text x="526.80" y="384.00" font-family="Liberation Sans" font-size="9.3" text-anchor="middle" fill="#000" stroke="#000" stroke-width="0.2" font-style="italic">Fgfr3</text>
<text x="526.80" y="395.00" font-family="Liberation Sans" font-size="9.3" text-anchor="middle" fill="#000" stroke="#000" stroke-width="0.2">-Cas9</text>
<line x1="570.40" y1="365.40" x2="570.40" y2="369.60" stroke="#000" stroke-width="1.1"/>
<text x="569.70" y="384.00" font-family="Liberation Sans" font-size="9.3" text-anchor="middle" fill="#000" stroke="#000" stroke-width="0.2" font-style="italic">Kcnq4</text>
<text x="569.70" y="395.00" font-family="Liberation Sans" font-size="9.3" text-anchor="middle" fill="#000" stroke="#000" stroke-width="0.2">-Cas9</text>
<line x1="613.30" y1="365.40" x2="613.30" y2="369.60" stroke="#000" stroke-width="1.1"/>
<text x="612.60" y="384.00" font-family="Liberation Sans" font-size="9.3" text-anchor="middle" fill="#000" stroke="#000" stroke-width="0.2" font-style="italic">Dnmt1</text>
<text x="612.60" y="395.00" font-family="Liberation Sans" font-size="9.3" text-anchor="middle" fill="#000" stroke="#000" stroke-width="0.2">-CBE</text>
<line x1="656.50" y1="365.40" x2="656.50" y2="369.60" stroke="#000" stroke-width="1.1"/>
<text x="655.80" y="384.00" font-family="Liberation Sans" font-size="9.3" text-anchor="middle" fill="#000" stroke="#000" stroke-width="0.2" font-style="italic">Gata3</text>
<text x="655.80" y="395.00" font-family="Liberation Sans" font-size="9.3" text-anchor="middle" fill="#000" stroke="#000" stroke-width="0.2">-ABE</text>
<rect x="515.15" y="305.68" width="9.50" height="59.72" fill="#00c800" stroke="#000" stroke-width="1.1"/>
<line x1="519.90" y1="312.31" x2="519.90" y2="299.04" stroke="#000" stroke-width="0.9"/>
<line x1="517.70" y1="299.04" x2="522.10" y2="299.04" stroke="#000" stroke-width="0.9"/>
<line x1="517.70" y1="312.31" x2="522.10" y2="312.31" stroke="#000" stroke-width="0.9"/>
<circle cx="519.90" cy="298.49" r="1.15" fill="#000"/>
<circle cx="519.90" cy="305.12" r="1.15" fill="#000"/>
<circle cx="519.90" cy="311.21" r="1.15" fill="#000"/>
<circle cx="519.90" cy="308.44" r="1.15" fill="#000"/>
<rect x="531.35" y="276.92" width="9.50" height="88.48" fill="#005200" stroke="#000" stroke-width="1.1"/>
<line x1="536.10" y1="286.32" x2="536.10" y2="267.52" stroke="#000" stroke-width="0.9"/>
<line x1="533.90" y1="267.52" x2="538.30" y2="267.52" stroke="#000" stroke-width="0.9"/>
<line x1="533.90" y1="286.32" x2="538.30" y2="286.32" stroke="#000" stroke-width="0.9"/>
<circle cx="536.10" cy="267.52" r="1.15" fill="#000"/>
<circle cx="536.10" cy="273.60" r="1.15" fill="#000"/>
<circle cx="534.60" cy="282.45" r="1.15" fill="#000"/>
<circle cx="537.60" cy="281.90" r="1.15" fill="#000"/>
<rect x="558.05" y="347.70" width="9.50" height="17.70" fill="#00c800" stroke="#000" stroke-width="1.1"/>
<line x1="562.80" y1="348.15" x2="562.80" y2="347.26" stroke="#000" stroke-width="0.9"/>
<line x1="560.60" y1="347.26" x2="565.00" y2="347.26" stroke="#000" stroke-width="0.9"/>
<line x1="560.60" y1="348.15" x2="565.00" y2="348.15" stroke="#000" stroke-width="0.9"/>
<circle cx="560.80" cy="347.37" r="1.15" fill="#000"/>
<circle cx="562.80" cy="347.26" r="1.15" fill="#000"/>
<circle cx="564.80" cy="347.37" r="1.15" fill="#000"/>
<rect x="574.25" y="343.83" width="9.50" height="21.57" fill="#005200" stroke="#000" stroke-width="1.1"/>
<line x1="579.00" y1="349.36" x2="579.00" y2="338.30" stroke="#000" stroke-width="0.9"/>
<line x1="576.80" y1="338.30" x2="581.20" y2="338.30" stroke="#000" stroke-width="0.9"/>
<line x1="576.80" y1="349.36" x2="581.20" y2="349.36" stroke="#000" stroke-width="0.9"/>
<circle cx="577.50" cy="338.30" r="1.15" fill="#000"/>
<circle cx="580.50" cy="338.30" r="1.15" fill="#000"/>
<circle cx="577.50" cy="347.70" r="1.15" fill="#000"/>
<circle cx="580.50" cy="347.70" r="1.15" fill="#000"/>
<rect x="600.95" y="348.26" width="9.50" height="17.14" fill="#00c800" stroke="#000" stroke-width="1.1"/>
<line x1="605.70" y1="348.81" x2="605.70" y2="347.70" stroke="#000" stroke-width="0.9"/>
<line x1="603.50" y1="347.70" x2="607.90" y2="347.70" stroke="#000" stroke-width="0.9"/>
<line x1="603.50" y1="348.81" x2="607.90" y2="348.81" stroke="#000" stroke-width="0.9"/>
<circle cx="603.70" cy="348.15" r="1.15" fill="#000"/>
<circle cx="605.70" cy="348.26" r="1.15" fill="#000"/>
<circle cx="607.70" cy="348.04" r="1.15" fill="#000"/>
<rect x="617.15" y="347.70" width="9.50" height="17.70" fill="#005200" stroke="#000" stroke-width="1.1"/>
<line x1="621.90" y1="354.34" x2="621.90" y2="341.07" stroke="#000" stroke-width="0.9"/>
<line x1="619.70" y1="341.07" x2="624.10" y2="341.07" stroke="#000" stroke-width="0.9"/>
<line x1="619.70" y1="354.34" x2="624.10" y2="354.34" stroke="#000" stroke-width="0.9"/>
<circle cx="620.40" cy="341.07" r="1.15" fill="#000"/>
<circle cx="623.40" cy="341.07" r="1.15" fill="#000"/>
<circle cx="620.40" cy="352.13" r="1.15" fill="#000"/>
<circle cx="623.40" cy="352.13" r="1.15" fill="#000"/>
<rect x="644.15" y="328.90" width="9.50" height="36.50" fill="#00c800" stroke="#000" stroke-width="1.1"/>
<line x1="648.90" y1="331.67" x2="648.90" y2="326.14" stroke="#000" stroke-width="0.9"/>
<line x1="646.70" y1="326.14" x2="651.10" y2="326.14" stroke="#000" stroke-width="0.9"/>
<line x1="646.70" y1="331.67" x2="651.10" y2="331.67" stroke="#000" stroke-width="0.9"/>
<circle cx="648.90" cy="326.14" r="1.15" fill="#000"/>
<circle cx="647.40" cy="328.57" r="1.15" fill="#000"/>
<circle cx="650.40" cy="328.57" r="1.15" fill="#000"/>
<rect x="660.35" y="324.48" width="9.50" height="40.92" fill="#005200" stroke="#000" stroke-width="1.1"/>
<line x1="665.10" y1="329.45" x2="665.10" y2="319.50" stroke="#000" stroke-width="0.9"/>
<line x1="662.90" y1="319.50" x2="667.30" y2="319.50" stroke="#000" stroke-width="0.9"/>
<line x1="662.90" y1="329.45" x2="667.30" y2="329.45" stroke="#000" stroke-width="0.9"/>
<circle cx="666.60" cy="319.50" r="1.15" fill="#000"/>
<circle cx="667.60" cy="318.95" r="1.15" fill="#000"/>
<circle cx="663.60" cy="327.80" r="1.15" fill="#000"/>
<circle cx="666.60" cy="326.69" r="1.15" fill="#000"/>
<text transform="translate(0.30,447.30) scale(1.04,1.06)" x="0" y="0" font-family="Liberation Sans" font-size="15.0" font-weight="bold" fill="#000" stroke="#000" stroke-width="0.2">g</text>
<line x1="52.00" y1="564.00" x2="52.00" y2="451.20" stroke="#000" stroke-width="1.1"/>
<line x1="47.80" y1="563.50" x2="52.00" y2="563.50" stroke="#000" stroke-width="1.1"/>
<text x="42.60" y="565.30" font-family="Liberation Sans" font-size="9.5" text-anchor="end" fill="#000" stroke="#000" stroke-width="0.2">0</text>
<line x1="47.80" y1="541.14" x2="52.00" y2="541.14" stroke="#000" stroke-width="1.1"/>
<text x="42.60" y="543.46" font-family="Liberation Sans" font-size="9.5" text-anchor="end" fill="#000" stroke="#000" stroke-width="0.2">20</text>
<line x1="47.80" y1="518.78" x2="52.00" y2="518.78" stroke="#000" stroke-width="1.1"/>
<text x="42.60" y="521.62" font-family="Liberation Sans" font-size="9.5" text-anchor="end" fill="#000" stroke="#000" stroke-width="0.2">40</text>
<line x1="47.80" y1="496.42" x2="52.00" y2="496.42" stroke="#000" stroke-width="1.1"/>
<text x="42.60" y="499.78" font-family="Liberation Sans" font-size="9.5" text-anchor="end" fill="#000" stroke="#000" stroke-width="0.2">60</text>
<line x1="47.80" y1="474.06" x2="52.00" y2="474.06" stroke="#000" stroke-width="1.1"/>
<text x="42.60" y="477.94" font-family="Liberation Sans" font-size="9.5" text-anchor="end" fill="#000" stroke="#000" stroke-width="0.2">80</text>
<line x1="47.80" y1="451.70" x2="52.00" y2="451.70" stroke="#000" stroke-width="1.1"/>
<text x="42.60" y="456.10" font-family="Liberation Sans" font-size="9.5" text-anchor="end" fill="#000" stroke="#000" stroke-width="0.2">100</text>
<line x1="52.00" y1="563.50" x2="139.50" y2="563.50" stroke="#000" stroke-width="1.3"/>
<line x1="76.40" y1="563.50" x2="76.40" y2="567.70" stroke="#000" stroke-width="1.1"/>
<text x="79.80" y="573.70" font-family="Liberation Sans" font-size="9.4" text-anchor="end" fill="#000" stroke="#000" stroke-width="0.2" font-style="italic" transform="rotate(-90 79.80 573.70)">Plin1</text>
<line x1="114.10" y1="563.50" x2="114.10" y2="567.70" stroke="#000" stroke-width="1.1"/>
<text x="117.50" y="573.70" font-family="Liberation Sans" font-size="9.4" text-anchor="end" fill="#000" stroke="#000" stroke-width="0.2" font-style="italic" transform="rotate(-90 117.50 573.70)">Kcnq4</text>
<text x="13.30" y="509.30" font-family="Liberation Sans" font-size="9.4" text-anchor="middle" fill="#000" stroke="#000" stroke-width="0.2" transform="rotate(-90 13.30 509.30)">Combi_Indels</text>
<text x="24.60" y="509.30" font-family="Liberation Sans" font-size="9.4" text-anchor="middle" fill="#000" stroke="#000" stroke-width="0.2" transform="rotate(-90 24.60 509.30)">in morula &amp; blastocyst (%)</text>
<circle cx="64.90" cy="562.90" r="1.9" fill="#8fc0f7"/>
<circle cx="66.10" cy="562.90" r="1.9" fill="#8fc0f7"/>
<circle cx="67.30" cy="562.90" r="1.9" fill="#8fc0f7"/>
<circle cx="68.50" cy="562.90" r="1.9" fill="#8fc0f7"/>
<circle cx="69.70" cy="562.90" r="1.9" fill="#8fc0f7"/>
<circle cx="70.90" cy="562.90" r="1.9" fill="#8fc0f7"/>
<circle cx="72.10" cy="562.90" r="1.9" fill="#8fc0f7"/>
<circle cx="73.30" cy="562.90" r="1.9" fill="#8fc0f7"/>
<circle cx="74.50" cy="562.90" r="1.9" fill="#8fc0f7"/>
<circle cx="75.70" cy="562.90" r="1.9" fill="#8fc0f7"/>
<circle cx="76.90" cy="562.90" r="1.9" fill="#8fc0f7"/>
<circle cx="78.10" cy="562.90" r="1.9" fill="#8fc0f7"/>
<circle cx="79.30" cy="562.90" r="1.9" fill="#8fc0f7"/>
<circle cx="80.50" cy="562.90" r="1.9" fill="#8fc0f7"/>
<circle cx="81.70" cy="562.90" r="1.9" fill="#8fc0f7"/>
<circle cx="82.90" cy="562.90" r="1.9" fill="#8fc0f7"/>
<circle cx="84.10" cy="562.90" r="1.9" fill="#8fc0f7"/>
<circle cx="85.30" cy="562.90" r="1.9" fill="#8fc0f7"/>
<circle cx="86.50" cy="562.90" r="1.9" fill="#8fc0f7"/>
<circle cx="87.70" cy="562.90" r="1.9" fill="#8fc0f7"/>
<circle cx="66.40" cy="562.61" r="1.9" fill="#8fc0f7"/>
<circle cx="82.40" cy="561.04" r="1.9" fill="#8fc0f7"/>
<circle cx="86.40" cy="562.38" r="1.9" fill="#8fc0f7"/>
<circle cx="73.40" cy="562.61" r="1.9" fill="#8fc0f7"/>
<circle cx="76.40" cy="464.00" r="1.75" fill="#8fc0f7"/>
<circle cx="76.40" cy="523.81" r="1.75" fill="#8fc0f7"/>
<circle cx="75.40" cy="545.61" r="1.75" fill="#8fc0f7"/>
<circle cx="77.90" cy="546.17" r="1.75" fill="#8fc0f7"/>
<circle cx="74.40" cy="547.85" r="1.75" fill="#8fc0f7"/>
<circle cx="78.40" cy="547.29" r="1.75" fill="#8fc0f7"/>
<circle cx="76.40" cy="552.32" r="1.75" fill="#8fc0f7"/>
<circle cx="75.90" cy="554.78" r="1.75" fill="#8fc0f7"/>
<circle cx="76.90" cy="555.67" r="1.75" fill="#8fc0f7"/>
<circle cx="102.60" cy="562.90" r="1.9" fill="#0000c8"/>
<circle cx="103.80" cy="562.90" r="1.9" fill="#0000c8"/>
<circle cx="105.00" cy="562.90" r="1.9" fill="#0000c8"/>
<circle cx="106.20" cy="562.90" r="1.9" fill="#0000c8"/>
<circle cx="107.40" cy="562.90" r="1.9" fill="#0000c8"/>
<circle cx="108.60" cy="562.90" r="1.9" fill="#0000c8"/>
<circle cx="109.80" cy="562.90" r="1.9" fill="#0000c8"/>
<circle cx="111.00" cy="562.90" r="1.9" fill="#0000c8"/>
<circle cx="112.20" cy="562.90" r="1.9" fill="#0000c8"/>
<circle cx="113.40" cy="562.90" r="1.9" fill="#0000c8"/>
<circle cx="114.60" cy="562.90" r="1.9" fill="#0000c8"/>
<circle cx="115.80" cy="562.90" r="1.9" fill="#0000c8"/>
<circle cx="117.00" cy="562.90" r="1.9" fill="#0000c8"/>
<circle cx="118.20" cy="562.90" r="1.9" fill="#0000c8"/>
<circle cx="119.40" cy="562.90" r="1.9" fill="#0000c8"/>
<circle cx="120.60" cy="562.90" r="1.9" fill="#0000c8"/>
<circle cx="121.80" cy="562.90" r="1.9" fill="#0000c8"/>
<circle cx="123.00" cy="562.90" r="1.9" fill="#0000c8"/>
<circle cx="124.20" cy="562.90" r="1.9" fill="#0000c8"/>
<circle cx="125.40" cy="562.90" r="1.9" fill="#0000c8"/>
<circle cx="104.10" cy="561.26" r="1.9" fill="#0000c8"/>
<circle cx="107.10" cy="561.82" r="1.9" fill="#0000c8"/>
<circle cx="110.10" cy="562.38" r="1.9" fill="#0000c8"/>
<circle cx="114.10" cy="560.15" r="1.9" fill="#0000c8"/>
<circle cx="114.10" cy="557.35" r="1.9" fill="#0000c8"/>
<circle cx="116.10" cy="559.03" r="1.9" fill="#0000c8"/>
<circle cx="117.10" cy="560.71" r="1.9" fill="#0000c8"/>
<circle cx="119.10" cy="561.82" r="1.9" fill="#0000c8"/>
<circle cx="122.10" cy="562.38" r="1.9" fill="#0000c8"/>
<circle cx="114.10" cy="531.64" r="1.75" fill="#0000c8"/>
<circle cx="114.10" cy="543.38" r="1.75" fill="#0000c8"/>
<circle cx="114.10" cy="556.79" r="1.75" fill="#0000c8"/>
<circle cx="113.10" cy="559.03" r="1.75" fill="#0000c8"/>
<circle cx="115.10" cy="559.59" r="1.75" fill="#0000c8"/>
<circle cx="112.60" cy="561.04" r="1.75" fill="#0000c8"/>
<circle cx="115.60" cy="561.26" r="1.75" fill="#0000c8"/>
<text transform="translate(161.20,449.60) scale(1.04,1.06)" x="0" y="0" font-family="Liberation Sans" font-size="15.0" font-weight="bold" fill="#000" stroke="#000" stroke-width="0.2">h</text>
<line x1="205.20" y1="564.60" x2="205.20" y2="452.50" stroke="#000" stroke-width="1.1"/>
<line x1="201.00" y1="564.10" x2="205.20" y2="564.10" stroke="#000" stroke-width="1.1"/>
<text x="195.60" y="566.90" font-family="Liberation Sans" font-size="9.5" text-anchor="end" fill="#000" stroke="#000" stroke-width="0.2">0</text>
<line x1="201.00" y1="541.88" x2="205.20" y2="541.88" stroke="#000" stroke-width="1.1"/>
<text x="195.60" y="545.06" font-family="Liberation Sans" font-size="9.5" text-anchor="end" fill="#000" stroke="#000" stroke-width="0.2">20</text>
<line x1="201.00" y1="519.66" x2="205.20" y2="519.66" stroke="#000" stroke-width="1.1"/>
<text x="195.60" y="523.22" font-family="Liberation Sans" font-size="9.5" text-anchor="end" fill="#000" stroke="#000" stroke-width="0.2">40</text>
<line x1="201.00" y1="497.44" x2="205.20" y2="497.44" stroke="#000" stroke-width="1.1"/>
<text x="195.60" y="501.38" font-family="Liberation Sans" font-size="9.5" text-anchor="end" fill="#000" stroke="#000" stroke-width="0.2">60</text>
<line x1="201.00" y1="475.22" x2="205.20" y2="475.22" stroke="#000" stroke-width="1.1"/>
<text x="195.60" y="479.54" font-family="Liberation Sans" font-size="9.5" text-anchor="end" fill="#000" stroke="#000" stroke-width="0.2">80</text>
<line x1="201.00" y1="453.00" x2="205.20" y2="453.00" stroke="#000" stroke-width="1.1"/>
<text x="195.60" y="457.70" font-family="Liberation Sans" font-size="9.5" text-anchor="end" fill="#000" stroke="#000" stroke-width="0.2">100</text>
<line x1="205.20" y1="564.10" x2="291.90" y2="564.10" stroke="#000" stroke-width="1.3"/>
<line x1="229.00" y1="564.10" x2="229.00" y2="568.30" stroke="#000" stroke-width="1.1"/>
<text x="232.40" y="573.70" font-family="Liberation Sans" font-size="9.4" text-anchor="end" fill="#000" stroke="#000" stroke-width="0.2" font-style="italic" transform="rotate(-90 232.40 573.70)">Plin1</text>
<line x1="266.70" y1="564.10" x2="266.70" y2="568.30" stroke="#000" stroke-width="1.1"/>
<text x="270.10" y="573.70" font-family="Liberation Sans" font-size="9.4" text-anchor="end" fill="#000" stroke="#000" stroke-width="0.2" font-style="italic" transform="rotate(-90 270.10 573.70)">Kcnq4</text>
<text x="167.00" y="509.40" font-family="Liberation Sans" font-size="9.4" text-anchor="middle" fill="#000" stroke="#000" stroke-width="0.2" transform="rotate(-90 167.00 509.40)">Double_Indels</text>
<text x="178.60" y="509.40" font-family="Liberation Sans" font-size="9.4" text-anchor="middle" fill="#000" stroke="#000" stroke-width="0.2" transform="rotate(-90 178.60 509.40)">in morula &amp; blastocyst (%)</text>
<circle cx="217.50" cy="563.50" r="1.9" fill="#8fc0f7"/>
<circle cx="218.70" cy="563.50" r="1.9" fill="#8fc0f7"/>
<circle cx="219.90" cy="563.50" r="1.9" fill="#8fc0f7"/>
<circle cx="221.10" cy="563.50" r="1.9" fill="#8fc0f7"/>
<circle cx="222.30" cy="563.50" r="1.9" fill="#8fc0f7"/>
<circle cx="223.50" cy="563.50" r="1.9" fill="#8fc0f7"/>
<circle cx="224.70" cy="563.50" r="1.9" fill="#8fc0f7"/>
<circle cx="225.90" cy="563.50" r="1.9" fill="#8fc0f7"/>
<circle cx="227.10" cy="563.50" r="1.9" fill="#8fc0f7"/>
<circle cx="228.30" cy="563.50" r="1.9" fill="#8fc0f7"/>
<circle cx="229.50" cy="563.50" r="1.9" fill="#8fc0f7"/>
<circle cx="230.70" cy="563.50" r="1.9" fill="#8fc0f7"/>
<circle cx="231.90" cy="563.50" r="1.9" fill="#8fc0f7"/>
<circle cx="233.10" cy="563.50" r="1.9" fill="#8fc0f7"/>
<circle cx="234.30" cy="563.50" r="1.9" fill="#8fc0f7"/>
<circle cx="235.50" cy="563.50" r="1.9" fill="#8fc0f7"/>
<circle cx="236.70" cy="563.50" r="1.9" fill="#8fc0f7"/>
<circle cx="237.90" cy="563.50" r="1.9" fill="#8fc0f7"/>
<circle cx="239.10" cy="563.50" r="1.9" fill="#8fc0f7"/>
<circle cx="240.30" cy="563.50" r="1.9" fill="#8fc0f7"/>
<circle cx="229.00" cy="562.43" r="1.9" fill="#8fc0f7"/>
<circle cx="228.50" cy="514.66" r="1.75" fill="#8fc0f7"/>
<circle cx="229.30" cy="516.10" r="1.75" fill="#8fc0f7"/>
<circle cx="229.00" cy="541.88" r="1.75" fill="#8fc0f7"/>
<circle cx="228.50" cy="550.21" r="1.75" fill="#8fc0f7"/>
<circle cx="229.50" cy="550.99" r="1.75" fill="#8fc0f7"/>
<circle cx="229.00" cy="558.55" r="1.75" fill="#8fc0f7"/>
<circle cx="255.20" cy="563.50" r="1.9" fill="#0000c8"/>
<circle cx="256.40" cy="563.50" r="1.9" fill="#0000c8"/>
<circle cx="257.60" cy="563.50" r="1.9" fill="#0000c8"/>
<circle cx="258.80" cy="563.50" r="1.9" fill="#0000c8"/>
<circle cx="260.00" cy="563.50" r="1.9" fill="#0000c8"/>
<circle cx="261.20" cy="563.50" r="1.9" fill="#0000c8"/>
<circle cx="262.40" cy="563.50" r="1.9" fill="#0000c8"/>
<circle cx="263.60" cy="563.50" r="1.9" fill="#0000c8"/>
<circle cx="264.80" cy="563.50" r="1.9" fill="#0000c8"/>
<circle cx="266.00" cy="563.50" r="1.9" fill="#0000c8"/>
<circle cx="267.20" cy="563.50" r="1.9" fill="#0000c8"/>
<circle cx="268.40" cy="563.50" r="1.9" fill="#0000c8"/>
<circle cx="269.60" cy="563.50" r="1.9" fill="#0000c8"/>
<circle cx="270.80" cy="563.50" r="1.9" fill="#0000c8"/>
<circle cx="272.00" cy="563.50" r="1.9" fill="#0000c8"/>
<circle cx="273.20" cy="563.50" r="1.9" fill="#0000c8"/>
<circle cx="274.40" cy="563.50" r="1.9" fill="#0000c8"/>
<circle cx="275.60" cy="563.50" r="1.9" fill="#0000c8"/>
<circle cx="276.80" cy="563.50" r="1.9" fill="#0000c8"/>
<circle cx="278.00" cy="563.50" r="1.9" fill="#0000c8"/>
<circle cx="256.70" cy="561.32" r="1.9" fill="#0000c8"/>
<circle cx="258.70" cy="562.43" r="1.9" fill="#0000c8"/>
<circle cx="266.70" cy="561.88" r="1.9" fill="#0000c8"/>
<circle cx="266.70" cy="559.66" r="1.9" fill="#0000c8"/>
<circle cx="266.70" cy="557.43" r="1.9" fill="#0000c8"/>
<circle cx="266.70" cy="555.21" r="1.9" fill="#0000c8"/>
<circle cx="265.70" cy="551.32" r="1.9" fill="#0000c8"/>
<circle cx="267.70" cy="551.88" r="1.9" fill="#0000c8"/>
<circle cx="268.70" cy="561.88" r="1.9" fill="#0000c8"/>
<circle cx="272.70" cy="562.99" r="1.9" fill="#0000c8"/>
<circle cx="266.70" cy="522.44" r="1.75" fill="#0000c8"/>
<text transform="translate(312.80,450.50) scale(1.04,1.06)" x="0" y="0" font-family="Liberation Sans" font-size="15.0" font-weight="bold" fill="#000" stroke="#000" stroke-width="0.2">i</text>
<line x1="357.00" y1="565.90" x2="357.00" y2="452.80" stroke="#000" stroke-width="1.1"/>
<line x1="352.80" y1="565.40" x2="357.00" y2="565.40" stroke="#000" stroke-width="1.1"/>
<text x="347.30" y="567.00" font-family="Liberation Sans" font-size="9.5" text-anchor="end" fill="#000" stroke="#000" stroke-width="0.2">0</text>
<line x1="352.80" y1="542.98" x2="357.00" y2="542.98" stroke="#000" stroke-width="1.1"/>
<text x="347.30" y="545.04" font-family="Liberation Sans" font-size="9.5" text-anchor="end" fill="#000" stroke="#000" stroke-width="0.2">20</text>
<line x1="352.80" y1="520.56" x2="357.00" y2="520.56" stroke="#000" stroke-width="1.1"/>
<text x="347.30" y="523.08" font-family="Liberation Sans" font-size="9.5" text-anchor="end" fill="#000" stroke="#000" stroke-width="0.2">40</text>
<line x1="352.80" y1="498.14" x2="357.00" y2="498.14" stroke="#000" stroke-width="1.1"/>
<text x="347.30" y="501.12" font-family="Liberation Sans" font-size="9.5" text-anchor="end" fill="#000" stroke="#000" stroke-width="0.2">60</text>
<line x1="352.80" y1="475.72" x2="357.00" y2="475.72" stroke="#000" stroke-width="1.1"/>
<text x="347.30" y="479.16" font-family="Liberation Sans" font-size="9.5" text-anchor="end" fill="#000" stroke="#000" stroke-width="0.2">80</text>
<line x1="352.80" y1="453.30" x2="357.00" y2="453.30" stroke="#000" stroke-width="1.1"/>
<text x="347.30" y="457.20" font-family="Liberation Sans" font-size="9.5" text-anchor="end" fill="#000" stroke="#000" stroke-width="0.2">100</text>
<line x1="357.00" y1="565.40" x2="474.80" y2="565.40" stroke="#000" stroke-width="1.3"/>
<line x1="380.20" y1="565.40" x2="380.20" y2="569.60" stroke="#000" stroke-width="1.1"/>
<text x="383.60" y="573.70" font-family="Liberation Sans" font-size="9.4" text-anchor="end" fill="#000" stroke="#000" stroke-width="0.2" font-style="italic" transform="rotate(-90 383.60 573.70)">Plin1</text>
<line x1="415.40" y1="565.40" x2="415.40" y2="569.60" stroke="#000" stroke-width="1.1"/>
<text x="418.80" y="573.70" font-family="Liberation Sans" font-size="9.4" text-anchor="end" fill="#000" stroke="#000" stroke-width="0.2" font-style="italic" transform="rotate(-90 418.80 573.70)">Kcnq4</text>
<line x1="450.90" y1="565.40" x2="450.90" y2="569.60" stroke="#000" stroke-width="1.1"/>
<text x="454.30" y="573.70" font-family="Liberation Sans" font-size="9.4" text-anchor="end" fill="#000" stroke="#000" stroke-width="0.2" font-style="italic" transform="rotate(-90 454.30 573.70)">Fgfr3</text>
<text x="317.50" y="509.40" font-family="Liberation Sans" font-size="9.4" text-anchor="middle" fill="#000" stroke="#000" stroke-width="0.2" transform="rotate(-90 317.50 509.40)">Triple_Indels</text>
<text x="329.00" y="509.40" font-family="Liberation Sans" font-size="9.4" text-anchor="middle" fill="#000" stroke="#000" stroke-width="0.2" transform="rotate(-90 329.00 509.40)">in morula &amp; blastocyst (%)</text>
<circle cx="369.70" cy="564.80" r="1.9" fill="#8fc0f7"/>
<circle cx="370.90" cy="564.80" r="1.9" fill="#8fc0f7"/>
<circle cx="372.10" cy="564.80" r="1.9" fill="#8fc0f7"/>
<circle cx="373.30" cy="564.80" r="1.9" fill="#8fc0f7"/>
<circle cx="374.50" cy="564.80" r="1.9" fill="#8fc0f7"/>
<circle cx="375.70" cy="564.80" r="1.9" fill="#8fc0f7"/>
<circle cx="376.90" cy="564.80" r="1.9" fill="#8fc0f7"/>
<circle cx="378.10" cy="564.80" r="1.9" fill="#8fc0f7"/>
<circle cx="379.30" cy="564.80" r="1.9" fill="#8fc0f7"/>
<circle cx="380.50" cy="564.80" r="1.9" fill="#8fc0f7"/>
<circle cx="381.70" cy="564.80" r="1.9" fill="#8fc0f7"/>
<circle cx="382.90" cy="564.80" r="1.9" fill="#8fc0f7"/>
<circle cx="384.10" cy="564.80" r="1.9" fill="#8fc0f7"/>
<circle cx="385.30" cy="564.80" r="1.9" fill="#8fc0f7"/>
<circle cx="386.50" cy="564.80" r="1.9" fill="#8fc0f7"/>
<circle cx="387.70" cy="564.80" r="1.9" fill="#8fc0f7"/>
<circle cx="388.90" cy="564.80" r="1.9" fill="#8fc0f7"/>
<circle cx="390.10" cy="564.80" r="1.9" fill="#8fc0f7"/>
<circle cx="380.20" cy="507.67" r="1.75" fill="#8fc0f7"/>
<circle cx="379.70" cy="515.52" r="1.75" fill="#8fc0f7"/>
<circle cx="380.70" cy="517.20" r="1.75" fill="#8fc0f7"/>
<circle cx="380.20" cy="526.73" r="1.75" fill="#8fc0f7"/>
<circle cx="379.70" cy="544.10" r="1.75" fill="#8fc0f7"/>
<circle cx="380.50" cy="545.78" r="1.75" fill="#8fc0f7"/>
<circle cx="380.20" cy="548.02" r="1.75" fill="#8fc0f7"/>
<circle cx="379.70" cy="554.19" r="1.75" fill="#8fc0f7"/>
<circle cx="380.70" cy="555.31" r="1.75" fill="#8fc0f7"/>
<circle cx="380.20" cy="556.99" r="1.75" fill="#8fc0f7"/>
<circle cx="404.40" cy="564.80" r="1.9" fill="#0000c8"/>
<circle cx="405.60" cy="564.80" r="1.9" fill="#0000c8"/>
<circle cx="406.80" cy="564.80" r="1.9" fill="#0000c8"/>
<circle cx="408.00" cy="564.80" r="1.9" fill="#0000c8"/>
<circle cx="409.20" cy="564.80" r="1.9" fill="#0000c8"/>
<circle cx="410.40" cy="564.80" r="1.9" fill="#0000c8"/>
<circle cx="411.60" cy="564.80" r="1.9" fill="#0000c8"/>
<circle cx="412.80" cy="564.80" r="1.9" fill="#0000c8"/>
<circle cx="414.00" cy="564.80" r="1.9" fill="#0000c8"/>
<circle cx="415.20" cy="564.80" r="1.9" fill="#0000c8"/>
<circle cx="416.40" cy="564.80" r="1.9" fill="#0000c8"/>
<circle cx="417.60" cy="564.80" r="1.9" fill="#0000c8"/>
<circle cx="418.80" cy="564.80" r="1.9" fill="#0000c8"/>
<circle cx="420.00" cy="564.80" r="1.9" fill="#0000c8"/>
<circle cx="421.20" cy="564.80" r="1.9" fill="#0000c8"/>
<circle cx="422.40" cy="564.80" r="1.9" fill="#0000c8"/>
<circle cx="423.60" cy="564.80" r="1.9" fill="#0000c8"/>
<circle cx="424.80" cy="564.80" r="1.9" fill="#0000c8"/>
<circle cx="426.00" cy="564.80" r="1.9" fill="#0000c8"/>
<circle cx="405.40" cy="563.16" r="1.9" fill="#0000c8"/>
<circle cx="407.40" cy="564.05" r="1.9" fill="#0000c8"/>
<circle cx="412.40" cy="561.48" r="1.9" fill="#0000c8"/>
<circle cx="414.40" cy="559.79" r="1.9" fill="#0000c8"/>
<circle cx="415.40" cy="557.55" r="1.9" fill="#0000c8"/>
<circle cx="415.40" cy="555.31" r="1.9" fill="#0000c8"/>
<circle cx="415.40" cy="553.07" r="1.9" fill="#0000c8"/>
<circle cx="415.40" cy="551.39" r="1.9" fill="#0000c8"/>
<circle cx="417.40" cy="560.92" r="1.9" fill="#0000c8"/>
<circle cx="418.40" cy="562.60" r="1.9" fill="#0000c8"/>
<circle cx="420.40" cy="564.05" r="1.9" fill="#0000c8"/>
<circle cx="423.40" cy="564.28" r="1.9" fill="#0000c8"/>
<circle cx="415.40" cy="542.42" r="1.75" fill="#0000c8"/>
<circle cx="439.90" cy="564.80" r="1.9" fill="#c566db"/>
<circle cx="441.10" cy="564.80" r="1.9" fill="#c566db"/>
<circle cx="442.30" cy="564.80" r="1.9" fill="#c566db"/>
<circle cx="443.50" cy="564.80" r="1.9" fill="#c566db"/>
<circle cx="444.70" cy="564.80" r="1.9" fill="#c566db"/>
<circle cx="445.90" cy="564.80" r="1.9" fill="#c566db"/>
<circle cx="447.10" cy="564.80" r="1.9" fill="#c566db"/>
<circle cx="448.30" cy="564.80" r="1.9" fill="#c566db"/>
<circle cx="449.50" cy="564.80" r="1.9" fill="#c566db"/>
<circle cx="450.70" cy="564.80" r="1.9" fill="#c566db"/>
<circle cx="451.90" cy="564.80" r="1.9" fill="#c566db"/>
<circle cx="453.10" cy="564.80" r="1.9" fill="#c566db"/>
<circle cx="454.30" cy="564.80" r="1.9" fill="#c566db"/>
<circle cx="455.50" cy="564.80" r="1.9" fill="#c566db"/>
<circle cx="456.70" cy="564.80" r="1.9" fill="#c566db"/>
<circle cx="457.90" cy="564.80" r="1.9" fill="#c566db"/>
<circle cx="459.10" cy="564.80" r="1.9" fill="#c566db"/>
<circle cx="460.30" cy="564.80" r="1.9" fill="#c566db"/>
<circle cx="461.50" cy="564.80" r="1.9" fill="#c566db"/>
<circle cx="450.30" cy="453.30" r="1.75" fill="#c566db"/>
<circle cx="451.50" cy="453.30" r="1.75" fill="#c566db"/>
<circle cx="450.90" cy="507.11" r="1.75" fill="#c566db"/>
<circle cx="450.40" cy="518.88" r="1.75" fill="#c566db"/>
<circle cx="451.40" cy="520.00" r="1.75" fill="#c566db"/>
<circle cx="450.90" cy="521.68" r="1.75" fill="#c566db"/>
<circle cx="450.50" cy="547.46" r="1.75" fill="#c566db"/>
<circle cx="451.30" cy="548.59" r="1.75" fill="#c566db"/>
<circle cx="450.90" cy="552.51" r="1.75" fill="#c566db"/>
<circle cx="450.60" cy="553.63" r="1.75" fill="#c566db"/>
<circle cx="450.90" cy="555.87" r="1.75" fill="#c566db"/>
<circle cx="450.90" cy="558.11" r="1.75" fill="#c566db"/>
<text transform="translate(497.60,449.60) scale(1.04,1.06)" x="0" y="0" font-family="Liberation Sans" font-size="15.0" font-weight="bold" fill="#000" stroke="#000" stroke-width="0.2">j</text>
<line x1="537.20" y1="565.70" x2="537.20" y2="453.90" stroke="#000" stroke-width="1.1"/>
<line x1="533.00" y1="565.20" x2="537.20" y2="565.20" stroke="#000" stroke-width="1.1"/>
<text x="527.30" y="568.60" font-family="Liberation Sans" font-size="9.5" text-anchor="end" fill="#000" stroke="#000" stroke-width="0.2">0</text>
<line x1="533.00" y1="543.04" x2="537.20" y2="543.04" stroke="#000" stroke-width="1.1"/>
<text x="527.30" y="546.80" font-family="Liberation Sans" font-size="9.5" text-anchor="end" fill="#000" stroke="#000" stroke-width="0.2">20</text>
<line x1="533.00" y1="520.88" x2="537.20" y2="520.88" stroke="#000" stroke-width="1.1"/>
<text x="527.30" y="525.00" font-family="Liberation Sans" font-size="9.5" text-anchor="end" fill="#000" stroke="#000" stroke-width="0.2">40</text>
<line x1="533.00" y1="498.72" x2="537.20" y2="498.72" stroke="#000" stroke-width="1.1"/>
<text x="527.30" y="503.20" font-family="Liberation Sans" font-size="9.5" text-anchor="end" fill="#000" stroke="#000" stroke-width="0.2">60</text>
<line x1="533.00" y1="476.56" x2="537.20" y2="476.56" stroke="#000" stroke-width="1.1"/>
<text x="527.30" y="481.40" font-family="Liberation Sans" font-size="9.5" text-anchor="end" fill="#000" stroke="#000" stroke-width="0.2">80</text>
<line x1="533.00" y1="454.40" x2="537.20" y2="454.40" stroke="#000" stroke-width="1.1"/>
<text x="527.30" y="459.60" font-family="Liberation Sans" font-size="9.5" text-anchor="end" fill="#000" stroke="#000" stroke-width="0.2">100</text>
<rect x="547.20" y="455.30" width="17.60" height="15.39" fill="#a3a3aa" stroke="#000" stroke-width="1.45"/>
<rect x="547.20" y="470.69" width="17.60" height="78.03" fill="#1294b0" stroke="#000" stroke-width="1.45"/>
<rect x="547.20" y="548.72" width="17.60" height="16.49" fill="#00c400" stroke="#000" stroke-width="1.45"/>
<rect x="575.40" y="455.30" width="17.80" height="52.75" fill="#a3a3aa" stroke="#000" stroke-width="1.45"/>
<rect x="575.40" y="508.05" width="17.80" height="52.20" fill="#1294b0" stroke="#000" stroke-width="1.45"/>
<rect x="575.40" y="560.25" width="17.80" height="4.95" fill="#00c400" stroke="#000" stroke-width="1.45"/>
<rect x="603.60" y="455.30" width="17.60" height="30.77" fill="#a3a3aa" stroke="#000" stroke-width="1.45"/>
<rect x="603.60" y="486.07" width="17.60" height="54.95" fill="#1294b0" stroke="#000" stroke-width="1.45"/>
<rect x="603.60" y="541.02" width="17.60" height="15.94" fill="#00c400" stroke="#000" stroke-width="1.45"/>
<rect x="603.60" y="556.96" width="17.60" height="8.24" fill="#ff8200" stroke="#000" stroke-width="1.45"/>
<line x1="537.20" y1="565.20" x2="631.70" y2="565.20" stroke="#000" stroke-width="1.3"/>
<line x1="556.00" y1="565.20" x2="556.00" y2="569.20" stroke="#000" stroke-width="1.1"/>
<text x="559.40" y="573.80" font-family="Liberation Sans" font-size="9.3" text-anchor="end" fill="#000" stroke="#000" stroke-width="0.2" transform="rotate(-90 559.40 573.80)">Combi</text>
<line x1="584.30" y1="565.20" x2="584.30" y2="569.20" stroke="#000" stroke-width="1.1"/>
<text x="587.70" y="573.80" font-family="Liberation Sans" font-size="9.3" text-anchor="end" fill="#000" stroke="#000" stroke-width="0.2" transform="rotate(-90 587.70 573.80)">Double</text>
<line x1="612.40" y1="565.20" x2="612.40" y2="569.20" stroke="#000" stroke-width="1.1"/>
<text x="615.80" y="573.80" font-family="Liberation Sans" font-size="9.3" text-anchor="end" fill="#000" stroke="#000" stroke-width="0.2" transform="rotate(-90 615.80 573.80)">Triple</text>
<rect x="629.10" y="454.60" width="11.30" height="8.40" fill="#a3a3aa" stroke="#111" stroke-width="1.0"/>
<text x="645.20" y="462.40" font-family="Liberation Sans" font-size="9.3" text-anchor="start" fill="#000" stroke="#000" stroke-width="0.2">WT</text>
<rect x="629.10" y="466.00" width="11.30" height="8.40" fill="#1294b0" stroke="#111" stroke-width="1.0"/>
<text x="645.20" y="473.80" font-family="Liberation Sans" font-size="9.3" text-anchor="start" fill="#000" stroke="#000" stroke-width="0.2">1 Edit</text>
<rect x="629.10" y="477.20" width="11.30" height="8.40" fill="#00c400" stroke="#111" stroke-width="1.0"/>
<text x="645.20" y="485.00" font-family="Liberation Sans" font-size="9.3" text-anchor="start" fill="#000" stroke="#000" stroke-width="0.2">2 Edits</text>
<rect x="629.10" y="488.40" width="11.30" height="8.40" fill="#ff8200" stroke="#111" stroke-width="1.0"/>
<text x="645.20" y="496.20" font-family="Liberation Sans" font-size="9.3" text-anchor="start" fill="#000" stroke="#000" stroke-width="0.2">3 Edits</text>
<text x="508.00" y="506.30" font-family="Liberation Sans" font-size="9.4" text-anchor="middle" fill="#000" stroke="#000" stroke-width="0.2" transform="rotate(-90 508.00 506.30)">Mutation ratio (%)</text>
<text transform="translate(-0.80,626.00) scale(1.04,1.06)" x="0" y="0" font-family="Liberation Sans" font-size="15.0" font-weight="bold" fill="#000" stroke="#000" stroke-width="0.2">k</text>
<line x1="51.60" y1="741.90" x2="51.60" y2="630.30" stroke="#000" stroke-width="1.1"/>
<line x1="47.40" y1="741.40" x2="51.60" y2="741.40" stroke="#000" stroke-width="1.1"/>
<text x="42.90" y="744.50" font-family="Liberation Sans" font-size="9.5" text-anchor="end" fill="#000" stroke="#000" stroke-width="0.2">0</text>
<line x1="47.40" y1="719.28" x2="51.60" y2="719.28" stroke="#000" stroke-width="1.1"/>
<text x="42.90" y="722.54" font-family="Liberation Sans" font-size="9.5" text-anchor="end" fill="#000" stroke="#000" stroke-width="0.2">20</text>
<line x1="47.40" y1="697.16" x2="51.60" y2="697.16" stroke="#000" stroke-width="1.1"/>
<text x="42.90" y="700.58" font-family="Liberation Sans" font-size="9.5" text-anchor="end" fill="#000" stroke="#000" stroke-width="0.2">40</text>
<line x1="47.40" y1="675.04" x2="51.60" y2="675.04" stroke="#000" stroke-width="1.1"/>
<text x="42.90" y="678.62" font-family="Liberation Sans" font-size="9.5" text-anchor="end" fill="#000" stroke="#000" stroke-width="0.2">60</text>
<line x1="47.40" y1="652.92" x2="51.60" y2="652.92" stroke="#000" stroke-width="1.1"/>
<text x="42.90" y="656.66" font-family="Liberation Sans" font-size="9.5" text-anchor="end" fill="#000" stroke="#000" stroke-width="0.2">80</text>
<line x1="47.40" y1="630.80" x2="51.60" y2="630.80" stroke="#000" stroke-width="1.1"/>
<text x="42.90" y="634.70" font-family="Liberation Sans" font-size="9.5" text-anchor="end" fill="#000" stroke="#000" stroke-width="0.2">100</text>
<rect x="62.60" y="631.70" width="19.50" height="75.69" fill="#d4d4d4" stroke="#000" stroke-width="1.45"/>
<rect x="62.60" y="707.39" width="19.50" height="29.07" fill="#c7ddf6" stroke="#000" stroke-width="1.45"/>
<rect x="62.60" y="736.46" width="19.50" height="4.06" fill="#4e9cf0" stroke="#000" stroke-width="1.45"/>
<rect x="62.60" y="740.52" width="19.50" height="0.88" fill="#3f4f6a" stroke="#000" stroke-width="1.45"/>
<rect x="94.40" y="631.70" width="19.70" height="82.28" fill="#d4d4d4" stroke="#000" stroke-width="1.45"/>
<rect x="94.40" y="713.98" width="19.70" height="26.33" fill="#c7ddf6" stroke="#000" stroke-width="1.45"/>
<rect x="94.40" y="740.30" width="19.70" height="1.10" fill="#4e9cf0" stroke="#000" stroke-width="1.45"/>
<line x1="47.30" y1="741.40" x2="125.60" y2="741.40" stroke="#000" stroke-width="1.3"/>
<line x1="72.30" y1="741.40" x2="72.30" y2="745.40" stroke="#000" stroke-width="1.1"/>
<text x="72.30" y="755.80" font-family="Liberation Sans" font-size="9.3" text-anchor="middle" fill="#000" stroke="#000" stroke-width="0.2">Combi</text>
<line x1="104.30" y1="741.40" x2="104.30" y2="745.40" stroke="#000" stroke-width="1.1"/>
<text x="104.30" y="755.80" font-family="Liberation Sans" font-size="9.3" text-anchor="middle" fill="#000" stroke="#000" stroke-width="0.2">Triple</text>
<rect x="120.40" y="631.00" width="11.30" height="8.40" fill="#d4d4d4" stroke="#111" stroke-width="1.0"/>
<text x="136.70" y="638.80" font-family="Liberation Sans" font-size="9.3" text-anchor="start" fill="#000" stroke="#000" stroke-width="0.2">WT</text>
<rect x="120.40" y="642.30" width="11.30" height="8.40" fill="#c7ddf6" stroke="#111" stroke-width="1.0"/>
<text x="136.70" y="650.10" font-family="Liberation Sans" font-size="9.3" text-anchor="start" fill="#000" stroke="#000" stroke-width="0.2">1 Edit</text>
<rect x="120.40" y="653.30" width="11.30" height="8.40" fill="#4e9cf0" stroke="#111" stroke-width="1.0"/>
<text x="136.70" y="661.10" font-family="Liberation Sans" font-size="9.3" text-anchor="start" fill="#000" stroke="#000" stroke-width="0.2">2 Edits</text>
<rect x="120.40" y="664.60" width="11.30" height="8.40" fill="#3f4f6a" stroke="#111" stroke-width="1.0"/>
<text x="136.70" y="672.40" font-family="Liberation Sans" font-size="9.3" text-anchor="start" fill="#000" stroke="#000" stroke-width="0.2">3 Edits</text>
<text x="24.00" y="681.00" font-family="Liberation Sans" font-size="9.4" text-anchor="middle" fill="#000" stroke="#000" stroke-width="0.2" transform="rotate(-90 24.00 681.00)">F0-Mutation ratio (%)</text>
<text transform="translate(183.00,625.70) scale(1.04,1.06)" x="0" y="0" font-family="Liberation Sans" font-size="15.0" font-weight="bold" fill="#000" stroke="#000" stroke-width="0.2">l</text>
<line x1="215.60" y1="741.80" x2="215.60" y2="629.70" stroke="#000" stroke-width="1.1"/>
<line x1="211.40" y1="741.30" x2="215.60" y2="741.30" stroke="#000" stroke-width="1.1"/>
<text x="207.90" y="744.70" font-family="Liberation Sans" font-size="9.5" text-anchor="end" fill="#000" stroke="#000" stroke-width="0.2">0</text>
<line x1="211.40" y1="719.08" x2="215.60" y2="719.08" stroke="#000" stroke-width="1.1"/>
<text x="207.90" y="722.76" font-family="Liberation Sans" font-size="9.5" text-anchor="end" fill="#000" stroke="#000" stroke-width="0.2">20</text>
<line x1="211.40" y1="696.86" x2="215.60" y2="696.86" stroke="#000" stroke-width="1.1"/>
<text x="207.90" y="700.82" font-family="Liberation Sans" font-size="9.5" text-anchor="end" fill="#000" stroke="#000" stroke-width="0.2">40</text>
<line x1="211.40" y1="674.64" x2="215.60" y2="674.64" stroke="#000" stroke-width="1.1"/>
<text x="207.90" y="678.88" font-family="Liberation Sans" font-size="9.5" text-anchor="end" fill="#000" stroke="#000" stroke-width="0.2">60</text>
<line x1="211.40" y1="652.42" x2="215.60" y2="652.42" stroke="#000" stroke-width="1.1"/>
<text x="207.90" y="656.94" font-family="Liberation Sans" font-size="9.5" text-anchor="end" fill="#000" stroke="#000" stroke-width="0.2">80</text>
<line x1="211.40" y1="630.20" x2="215.60" y2="630.20" stroke="#000" stroke-width="1.1"/>
<text x="207.90" y="635.00" font-family="Liberation Sans" font-size="9.5" text-anchor="end" fill="#000" stroke="#000" stroke-width="0.2">100</text>
<rect x="228.00" y="631.10" width="20.30" height="65.02" fill="#d4d4d4" stroke="#000" stroke-width="1.45"/>
<rect x="228.00" y="696.12" width="20.30" height="45.18" fill="#c7ddf6" stroke="#000" stroke-width="1.45"/>
<rect x="261.00" y="631.10" width="20.60" height="55.10" fill="#d4d4d4" stroke="#000" stroke-width="1.45"/>
<rect x="261.00" y="686.20" width="20.60" height="55.10" fill="#4e9cf0" stroke="#000" stroke-width="1.45"/>
<rect x="294.50" y="631.10" width="20.10" height="55.10" fill="#d4d4d4" stroke="#000" stroke-width="1.45"/>
<rect x="294.50" y="686.20" width="20.10" height="22.04" fill="#c7ddf6" stroke="#000" stroke-width="1.45"/>
<rect x="294.50" y="708.24" width="20.10" height="33.06" fill="#4e9cf0" stroke="#000" stroke-width="1.45"/>
<line x1="211.10" y1="741.30" x2="327.00" y2="741.30" stroke="#000" stroke-width="1.3"/>
<line x1="238.20" y1="741.30" x2="238.20" y2="745.30" stroke="#000" stroke-width="1.1"/>
<line x1="271.30" y1="741.30" x2="271.30" y2="745.30" stroke="#000" stroke-width="1.1"/>
<line x1="304.60" y1="741.30" x2="304.60" y2="745.30" stroke="#000" stroke-width="1.1"/>
<text x="241.00" y="718.52" font-family="Liberation Sans" font-size="8.2" text-anchor="middle" fill="#000" stroke="#000" stroke-width="0.2" transform="rotate(-90 241.00 718.52)">7/17</text>
<text x="274.10" y="713.52" font-family="Liberation Sans" font-size="8.2" text-anchor="middle" fill="#000" stroke="#000" stroke-width="0.2" transform="rotate(-90 274.10 713.52)">1/2</text>
<text x="307.40" y="696.86" font-family="Liberation Sans" font-size="8.2" text-anchor="middle" fill="#000" stroke="#000" stroke-width="0.2" transform="rotate(-90 307.40 696.86)">2/10</text>
<text x="307.40" y="724.63" font-family="Liberation Sans" font-size="8.2" text-anchor="middle" fill="#000" stroke="#000" stroke-width="0.2" transform="rotate(-90 307.40 724.63)">3/10</text>
<rect x="320.00" y="630.80" width="11.30" height="8.40" fill="#d4d4d4" stroke="#111" stroke-width="1.0"/>
<text x="336.00" y="638.60" font-family="Liberation Sans" font-size="9.3" text-anchor="start" fill="#000" stroke="#000" stroke-width="0.2">WT</text>
<rect x="320.00" y="642.30" width="11.30" height="8.40" fill="#c7ddf6" stroke="#111" stroke-width="1.0"/>
<text x="336.00" y="650.10" font-family="Liberation Sans" font-size="9.3" text-anchor="start" fill="#000" stroke="#000" stroke-width="0.2">1 Edit</text>
<rect x="320.00" y="653.40" width="11.30" height="8.40" fill="#4e9cf0" stroke="#111" stroke-width="1.0"/>
<text x="336.00" y="661.20" font-family="Liberation Sans" font-size="9.3" text-anchor="start" fill="#000" stroke="#000" stroke-width="0.2">2 Edits</text>
<text x="183.90" y="685.30" font-family="Liberation Sans" font-size="9.4" text-anchor="middle" fill="#000" stroke="#000" stroke-width="0.2" transform="rotate(-90 183.90 685.30)">Mutation ratio from total</text>
<text x="194.00" y="685.30" font-family="Liberation Sans" font-size="9.4" text-anchor="middle" fill="#000" stroke="#000" stroke-width="0.2" transform="rotate(-90 194.00 685.30)">numbers of F1 pups (%)</text>
<text x="235.30" y="757.20" font-family="Liberation Sans" font-size="9.3" text-anchor="middle" fill="#000" stroke="#000" stroke-width="0.2"># 28M</text>
<text x="268.90" y="757.20" font-family="Liberation Sans" font-size="9.3" text-anchor="middle" fill="#000" stroke="#000" stroke-width="0.2"># 54M</text>
<text x="302.20" y="757.20" font-family="Liberation Sans" font-size="9.3" text-anchor="middle" fill="#000" stroke="#000" stroke-width="0.2"># 57F</text>
<text x="213.60" y="770.90" font-family="Liberation Sans" font-size="9.3" text-anchor="end" fill="#000" stroke="#000" stroke-width="0.2" font-style="italic">Gata3</text>
<text x="213.60" y="784.90" font-family="Liberation Sans" font-size="9.3" text-anchor="end" fill="#000" stroke="#000" stroke-width="0.2" font-style="italic">Kcnq4</text>
<text x="235.30" y="770.90" font-family="Liberation Sans" font-size="9.3" text-anchor="middle" fill="#000" stroke="#000" stroke-width="0.2">41.12</text>
<text x="235.30" y="784.90" font-family="Liberation Sans" font-size="9.3" text-anchor="middle" fill="#000" stroke="#000" stroke-width="0.2">6.33</text>
<text x="268.90" y="770.90" font-family="Liberation Sans" font-size="9.3" text-anchor="middle" fill="#000" stroke="#000" stroke-width="0.2">56.26</text>
<text x="268.90" y="784.90" font-family="Liberation Sans" font-size="9.3" text-anchor="middle" fill="#000" stroke="#000" stroke-width="0.2">18.63</text>
<text x="302.20" y="770.90" font-family="Liberation Sans" font-size="9.3" text-anchor="middle" fill="#000" stroke="#000" stroke-width="0.2">21.47</text>
<text x="302.20" y="784.90" font-family="Liberation Sans" font-size="9.3" text-anchor="middle" fill="#000" stroke="#000" stroke-width="0.2">22.99</text>
<line x1="218.40" y1="789.30" x2="320.60" y2="789.30" stroke="#444" stroke-width="1.2"/>
<text x="269.50" y="800.60" font-family="Liberation Sans" font-size="9.3" text-anchor="middle" fill="#000" stroke="#000" stroke-width="0.2">F0 Desired edits (%)</text>
<text transform="translate(373.30,625.40) scale(1.04,1.06)" x="0" y="0" font-family="Liberation Sans" font-size="15.0" font-weight="bold" fill="#000" stroke="#000" stroke-width="0.2">m</text>
<line x1="413.90" y1="742.00" x2="413.90" y2="630.50" stroke="#000" stroke-width="1.1"/>
<line x1="409.70" y1="741.50" x2="413.90" y2="741.50" stroke="#000" stroke-width="1.1"/>
<text x="405.30" y="745.30" font-family="Liberation Sans" font-size="9.5" text-anchor="end" fill="#000" stroke="#000" stroke-width="0.2">0</text>
<line x1="409.70" y1="719.40" x2="413.90" y2="719.40" stroke="#000" stroke-width="1.1"/>
<text x="405.30" y="723.38" font-family="Liberation Sans" font-size="9.5" text-anchor="end" fill="#000" stroke="#000" stroke-width="0.2">20</text>
<line x1="409.70" y1="697.30" x2="413.90" y2="697.30" stroke="#000" stroke-width="1.1"/>
<text x="405.30" y="701.46" font-family="Liberation Sans" font-size="9.5" text-anchor="end" fill="#000" stroke="#000" stroke-width="0.2">40</text>
<line x1="409.70" y1="675.20" x2="413.90" y2="675.20" stroke="#000" stroke-width="1.1"/>
<text x="405.30" y="679.54" font-family="Liberation Sans" font-size="9.5" text-anchor="end" fill="#000" stroke="#000" stroke-width="0.2">60</text>
<line x1="409.70" y1="653.10" x2="413.90" y2="653.10" stroke="#000" stroke-width="1.1"/>
<text x="405.30" y="657.62" font-family="Liberation Sans" font-size="9.5" text-anchor="end" fill="#000" stroke="#000" stroke-width="0.2">80</text>
<line x1="409.70" y1="631.00" x2="413.90" y2="631.00" stroke="#000" stroke-width="1.1"/>
<text x="405.30" y="635.70" font-family="Liberation Sans" font-size="9.5" text-anchor="end" fill="#000" stroke="#000" stroke-width="0.2">100</text>
<rect x="425.60" y="631.90" width="19.30" height="43.84" fill="#c7ddf6" stroke="#000" stroke-width="1.45"/>
<rect x="425.60" y="675.74" width="19.30" height="65.76" fill="#4e9cf0" stroke="#000" stroke-width="1.45"/>
<rect x="457.70" y="631.90" width="18.80" height="39.46" fill="#c7ddf6" stroke="#000" stroke-width="1.45"/>
<rect x="457.70" y="671.36" width="18.80" height="70.14" fill="#4e9cf0" stroke="#000" stroke-width="1.45"/>
<line x1="411.00" y1="741.50" x2="488.50" y2="741.50" stroke="#000" stroke-width="1.3"/>
<line x1="435.30" y1="741.50" x2="435.30" y2="745.50" stroke="#000" stroke-width="1.1"/>
<line x1="467.10" y1="741.50" x2="467.10" y2="745.50" stroke="#000" stroke-width="1.1"/>
<text x="438.10" y="653.10" font-family="Liberation Sans" font-size="8.2" text-anchor="middle" fill="#000" stroke="#000" stroke-width="0.2" transform="rotate(-90 438.10 653.10)">4/10</text>
<text x="438.10" y="708.35" font-family="Liberation Sans" font-size="8.2" text-anchor="middle" fill="#000" stroke="#000" stroke-width="0.2" transform="rotate(-90 438.10 708.35)">6/10</text>
<text x="469.90" y="650.89" font-family="Liberation Sans" font-size="8.2" text-anchor="middle" fill="#000" stroke="#000" stroke-width="0.2" transform="rotate(-90 469.90 650.89)">2/7</text>
<text x="469.90" y="706.14" font-family="Liberation Sans" font-size="8.2" text-anchor="middle" fill="#000" stroke="#000" stroke-width="0.2" transform="rotate(-90 469.90 706.14)">5/7</text>
<rect x="481.90" y="631.30" width="11.30" height="8.40" fill="#d4d4d4" stroke="#111" stroke-width="1.0"/>
<text x="498.00" y="639.10" font-family="Liberation Sans" font-size="9.3" text-anchor="start" fill="#000" stroke="#000" stroke-width="0.2">WT</text>
<rect x="481.90" y="642.30" width="11.30" height="8.40" fill="#c7ddf6" stroke="#111" stroke-width="1.0"/>
<text x="498.00" y="650.10" font-family="Liberation Sans" font-size="9.3" text-anchor="start" fill="#000" stroke="#000" stroke-width="0.2">1 edits</text>
<rect x="481.90" y="653.30" width="11.30" height="8.40" fill="#4e9cf0" stroke="#111" stroke-width="1.0"/>
<text x="498.00" y="661.10" font-family="Liberation Sans" font-size="9.3" text-anchor="start" fill="#000" stroke="#000" stroke-width="0.2">2 edits</text>
<text x="380.00" y="686.80" font-family="Liberation Sans" font-size="9.4" text-anchor="middle" fill="#000" stroke="#000" stroke-width="0.2" transform="rotate(-90 380.00 686.80)">Mutation ratio from total</text>
<text x="390.20" y="686.80" font-family="Liberation Sans" font-size="9.4" text-anchor="middle" fill="#000" stroke="#000" stroke-width="0.2" transform="rotate(-90 390.20 686.80)">numbers of F2 pups (%)</text>
<text x="435.40" y="756.80" font-family="Liberation Sans" font-size="9.3" text-anchor="middle" fill="#000" stroke="#000" stroke-width="0.2"># 1F</text>
<text x="466.90" y="756.80" font-family="Liberation Sans" font-size="9.3" text-anchor="middle" fill="#000" stroke="#000" stroke-width="0.2"># 9F</text>
<text x="409.80" y="770.80" font-family="Liberation Sans" font-size="9.3" text-anchor="end" fill="#000" stroke="#000" stroke-width="0.2" font-style="italic">Gata3</text>
<text x="409.80" y="784.90" font-family="Liberation Sans" font-size="9.3" text-anchor="end" fill="#000" stroke="#000" stroke-width="0.2" font-style="italic">Kcnq4</text>
<text x="434.60" y="770.80" font-family="Liberation Sans" font-size="9.3" text-anchor="middle" fill="#000" stroke="#000" stroke-width="0.2">45.72</text>
<text x="434.60" y="784.90" font-family="Liberation Sans" font-size="9.3" text-anchor="middle" fill="#000" stroke="#000" stroke-width="0.2">47.40</text>
<text x="466.10" y="770.80" font-family="Liberation Sans" font-size="9.3" text-anchor="middle" fill="#000" stroke="#000" stroke-width="0.2">45.71</text>
<text x="466.10" y="784.90" font-family="Liberation Sans" font-size="9.3" text-anchor="middle" fill="#000" stroke="#000" stroke-width="0.2">47.81</text>
<line x1="414.90" y1="789.60" x2="482.70" y2="789.60" stroke="#444" stroke-width="1.2"/>
<text x="449.90" y="801.00" font-family="Liberation Sans" font-size="9.3" text-anchor="middle" fill="#000" stroke="#000" stroke-width="0.2">F1 Desired edits (%)</text>
<text transform="translate(535.80,625.40) scale(1.04,1.06)" x="0" y="0" font-family="Liberation Sans" font-size="15.0" font-weight="bold" fill="#000" stroke="#000" stroke-width="0.2">n</text>
<line x1="573.80" y1="741.80" x2="573.80" y2="630.30" stroke="#000" stroke-width="1.1"/>
<line x1="569.60" y1="741.30" x2="573.80" y2="741.30" stroke="#000" stroke-width="1.1"/>
<text x="564.00" y="744.20" font-family="Liberation Sans" font-size="9.5" text-anchor="end" fill="#000" stroke="#000" stroke-width="0.2">0</text>
<line x1="569.60" y1="719.20" x2="573.80" y2="719.20" stroke="#000" stroke-width="1.1"/>
<text x="564.00" y="722.26" font-family="Liberation Sans" font-size="9.5" text-anchor="end" fill="#000" stroke="#000" stroke-width="0.2">20</text>
<line x1="569.60" y1="697.10" x2="573.80" y2="697.10" stroke="#000" stroke-width="1.1"/>
<text x="564.00" y="700.32" font-family="Liberation Sans" font-size="9.5" text-anchor="end" fill="#000" stroke="#000" stroke-width="0.2">40</text>
<line x1="569.60" y1="675.00" x2="573.80" y2="675.00" stroke="#000" stroke-width="1.1"/>
<text x="564.00" y="678.38" font-family="Liberation Sans" font-size="9.5" text-anchor="end" fill="#000" stroke="#000" stroke-width="0.2">60</text>
<line x1="569.60" y1="652.90" x2="573.80" y2="652.90" stroke="#000" stroke-width="1.1"/>
<text x="564.00" y="656.44" font-family="Liberation Sans" font-size="9.5" text-anchor="end" fill="#000" stroke="#000" stroke-width="0.2">80</text>
<line x1="569.60" y1="630.80" x2="573.80" y2="630.80" stroke="#000" stroke-width="1.1"/>
<text x="564.00" y="634.50" font-family="Liberation Sans" font-size="9.5" text-anchor="end" fill="#000" stroke="#000" stroke-width="0.2">100</text>
<rect x="584.80" y="631.70" width="19.30" height="25.76" fill="#0c4e60" stroke="#000" stroke-width="1.45"/>
<rect x="584.80" y="657.46" width="19.30" height="64.55" fill="#1294b0" stroke="#000" stroke-width="1.45"/>
<rect x="584.80" y="722.01" width="19.30" height="19.29" fill="#c7ddf6" stroke="#000" stroke-width="1.45"/>
<rect x="616.40" y="631.70" width="19.80" height="45.16" fill="#0c4e60" stroke="#000" stroke-width="1.45"/>
<rect x="616.40" y="676.86" width="19.80" height="45.16" fill="#1294b0" stroke="#000" stroke-width="1.45"/>
<rect x="616.40" y="722.01" width="19.80" height="19.29" fill="#c7ddf6" stroke="#000" stroke-width="1.45"/>
<line x1="569.40" y1="741.30" x2="648.20" y2="741.30" stroke="#000" stroke-width="1.3"/>
<line x1="594.40" y1="741.30" x2="594.40" y2="745.30" stroke="#000" stroke-width="1.1"/>
<text x="594.40" y="755.40" font-family="Liberation Sans" font-size="9.3" text-anchor="middle" fill="#000" stroke="#000" stroke-width="0.2" font-style="italic">Gata3</text>
<line x1="626.30" y1="741.30" x2="626.30" y2="745.30" stroke="#000" stroke-width="1.1"/>
<text x="626.30" y="755.40" font-family="Liberation Sans" font-size="9.3" text-anchor="middle" fill="#000" stroke="#000" stroke-width="0.2" font-style="italic">Kcnq4</text>
<text x="597.20" y="644.06" font-family="Liberation Sans" font-size="8.2" text-anchor="middle" fill="#fff" stroke="#fff" stroke-width="0.2" transform="rotate(-90 597.20 644.06)">4/17</text>
<text x="597.20" y="689.37" font-family="Liberation Sans" font-size="8.2" text-anchor="middle" fill="#000" stroke="#000" stroke-width="0.2" transform="rotate(-90 597.20 689.37)">10/17</text>
<text x="597.20" y="732.46" font-family="Liberation Sans" font-size="8.2" text-anchor="middle" fill="#000" stroke="#000" stroke-width="0.2" transform="rotate(-90 597.20 732.46)">3/17</text>
<text x="629.10" y="653.45" font-family="Liberation Sans" font-size="8.2" text-anchor="middle" fill="#fff" stroke="#fff" stroke-width="0.2" transform="rotate(-90 629.10 653.45)">7/17</text>
<text x="629.10" y="699.31" font-family="Liberation Sans" font-size="8.2" text-anchor="middle" fill="#000" stroke="#000" stroke-width="0.2" transform="rotate(-90 629.10 699.31)">7/17</text>
<text x="629.10" y="732.46" font-family="Liberation Sans" font-size="8.2" text-anchor="middle" fill="#000" stroke="#000" stroke-width="0.2" transform="rotate(-90 629.10 732.46)">3/17</text>
<rect x="641.10" y="631.10" width="11.30" height="8.40" fill="#0c4e60" stroke="#111" stroke-width="1.0"/>
<text x="657.40" y="638.90" font-family="Liberation Sans" font-size="9.3" text-anchor="start" fill="#000" stroke="#000" stroke-width="0.2">Homo</text>
<rect x="641.10" y="642.30" width="11.30" height="8.40" fill="#1294b0" stroke="#111" stroke-width="1.0"/>
<text x="657.40" y="650.10" font-family="Liberation Sans" font-size="9.3" text-anchor="start" fill="#000" stroke="#000" stroke-width="0.2">Hetero</text>
<rect x="641.10" y="653.30" width="11.30" height="8.40" fill="#c7ddf6" stroke="#111" stroke-width="1.0"/>
<text x="657.40" y="661.10" font-family="Liberation Sans" font-size="9.3" text-anchor="start" fill="#000" stroke="#000" stroke-width="0.2">WT</text>
<text x="543.20" y="680.40" font-family="Liberation Sans" font-size="9.4" text-anchor="middle" fill="#000" stroke="#000" stroke-width="0.2" transform="rotate(-90 543.20 680.40)">Mutation ratio (%)</text>
<text transform="translate(0.00,829.30) scale(1.04,1.06)" x="0" y="0" font-family="Liberation Sans" font-size="15.0" font-weight="bold" fill="#000" stroke="#000" stroke-width="0.2">o</text>
<rect x="18.40" y="830.00" width="346.60" height="103.00" fill="#d9d9d9" stroke="#000" stroke-width="1.2"/>
<rect x="169.50" y="870.80" width="195.50" height="62.20" fill="#fff" stroke="#000" stroke-width="0"/>
<line x1="169.50" y1="850.60" x2="365.00" y2="850.60" stroke="#000" stroke-width="1.2"/>
<line x1="18.40" y1="870.80" x2="365.00" y2="870.80" stroke="#000" stroke-width="1.2"/>
<line x1="169.50" y1="830.00" x2="169.50" y2="933.00" stroke="#000" stroke-width="1.2"/>
<line x1="98.60" y1="870.80" x2="98.60" y2="933.00" stroke="#000" stroke-width="1.2"/>
<line x1="234.80" y1="850.60" x2="234.80" y2="933.00" stroke="#000" stroke-width="1.2"/>
<line x1="300.50" y1="850.60" x2="300.50" y2="933.00" stroke="#000" stroke-width="1.2"/>
<line x1="98.60" y1="891.50" x2="365.00" y2="891.50" stroke="#000" stroke-width="1.2"/>
<line x1="98.60" y1="912.30" x2="365.00" y2="912.30" stroke="#000" stroke-width="1.2"/>
<rect x="18.40" y="830.00" width="346.60" height="103.00" fill="none" stroke="#000" stroke-width="1.2"/>
<text x="94.10" y="854.30" font-family="Liberation Sans" font-size="9.4" text-anchor="middle" fill="#000" stroke="#000" stroke-width="0.2">F2 (n=17)</text>
<text x="267.40" y="843.60" font-family="Liberation Sans" font-size="9.4" text-anchor="middle" fill="#000" stroke="#000" stroke-width="0.2" font-style="italic">Gata3</text>
<text x="201.80" y="863.60" font-family="Liberation Sans" font-size="8.2" text-anchor="middle" fill="#000" stroke="#000" stroke-width="0.2">+/+</text>
<text x="267.40" y="861.60" font-family="Liberation Sans" font-size="6.0" text-anchor="middle" fill="#000" stroke="#000" stroke-width="0.05" font-style="italic">+/T439A</text>
<text x="332.70" y="861.60" font-family="Liberation Sans" font-size="6.0" text-anchor="middle" fill="#000" stroke="#000" stroke-width="0.05" font-style="italic">T439A/T439A</text>
<text x="59.10" y="899.70" font-family="Liberation Sans" font-size="9.4" text-anchor="middle" fill="#000" stroke="#000" stroke-width="0.2" font-style="italic">Kcnq4</text>
<text x="134.00" y="884.70" font-family="Liberation Sans" font-size="8.2" text-anchor="middle" fill="#000" stroke="#000" stroke-width="0.2">+/+</text>
<text x="134.00" y="903.60" font-family="Liberation Sans" font-size="6.0" text-anchor="middle" fill="#000" stroke="#000" stroke-width="0.05" font-style="italic">+/Y271C</text>
<text x="134.00" y="923.50" font-family="Liberation Sans" font-size="6.0" text-anchor="middle" fill="#000" stroke="#000" stroke-width="0.05" font-style="italic">Y271C/Y271C</text>
<text x="201.80" y="884.80" font-family="Liberation Sans" font-size="9.8" text-anchor="middle" fill="#000" stroke="#000" stroke-width="0.2">0</text>
<text x="267.40" y="884.80" font-family="Liberation Sans" font-size="9.8" text-anchor="middle" fill="#000" stroke="#000" stroke-width="0.2">2</text>
<text x="332.70" y="884.80" font-family="Liberation Sans" font-size="9.8" text-anchor="middle" fill="#000" stroke="#000" stroke-width="0.2">1</text>
<text x="201.80" y="905.60" font-family="Liberation Sans" font-size="9.8" text-anchor="middle" fill="#000" stroke="#000" stroke-width="0.2">2</text>
<text x="267.40" y="905.60" font-family="Liberation Sans" font-size="9.8" text-anchor="middle" fill="#000" stroke="#000" stroke-width="0.2">3</text>
<text x="332.70" y="905.60" font-family="Liberation Sans" font-size="9.8" text-anchor="middle" fill="#000" stroke="#000" stroke-width="0.2">2</text>
<text x="201.80" y="926.40" font-family="Liberation Sans" font-size="9.8" text-anchor="middle" fill="#000" stroke="#000" stroke-width="0.2">1</text>
<text x="267.40" y="926.40" font-family="Liberation Sans" font-size="9.8" text-anchor="middle" fill="#000" stroke="#000" stroke-width="0.2">5</text>
<text x="332.70" y="926.40" font-family="Liberation Sans" font-size="9.8" text-anchor="middle" fill="#000" stroke="#000" stroke-width="0.2">1</text>
</svg></body></html>
